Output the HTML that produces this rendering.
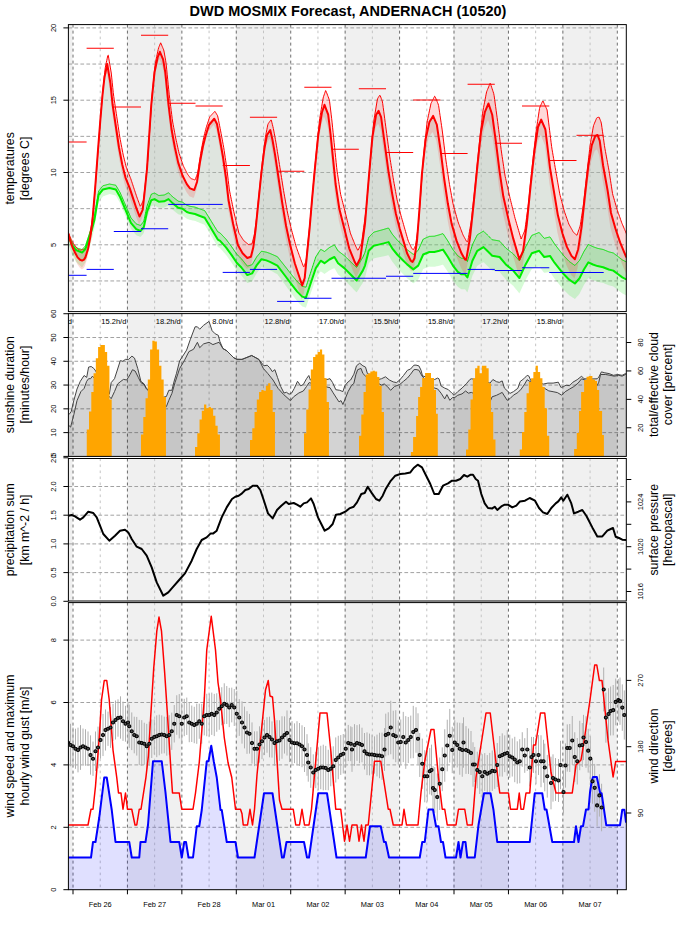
<!DOCTYPE html><html><head><meta charset="utf-8"><title>DWD MOSMIX Forecast, ANDERNACH (10520)</title>
<style>html,body{margin:0;padding:0;background:#fff;width:696px;height:930px;overflow:hidden}svg{display:block}</style></head><body>
<svg width="696" height="930" viewBox="0 0 696 930" font-family="'Liberation Sans', Arial, sans-serif">
<rect width="696" height="930" fill="#fff"/>
<defs>
<clipPath id="c0"><rect x="68.4" y="24.6" width="557.9" height="287"/></clipPath>
<clipPath id="c1"><rect x="68.4" y="313.6" width="557.9" height="142.8"/></clipPath>
<clipPath id="c2"><rect x="68.4" y="458.5" width="557.9" height="142.5"/></clipPath>
<clipPath id="c3"><rect x="68.4" y="602.6" width="557.9" height="287.1"/></clipPath>
</defs>
<text x="348" y="16.1" font-size="14.5" font-weight="bold" text-anchor="middle">DWD MOSMIX Forecast, ANDERNACH (10520)</text>
<g clip-path="url(#c0)">
<rect x="68.4" y="24.6" width="4.1" height="287" fill="#f0f0f0"/>
<rect x="126.93" y="24.6" width="54.43" height="287" fill="#f0f0f0"/>
<rect x="235.79" y="24.6" width="54.43" height="287" fill="#f0f0f0"/>
<rect x="344.65" y="24.6" width="54.43" height="287" fill="#f0f0f0"/>
<rect x="453.51" y="24.6" width="54.43" height="287" fill="#f0f0f0"/>
<rect x="562.37" y="24.6" width="54.43" height="287" fill="#f0f0f0"/>
<line x1="73" y1="24.6" x2="73" y2="311.6" stroke="#6e6e6e" stroke-width="1" stroke-dasharray="3,3"/>
<line x1="127.43" y1="24.6" x2="127.43" y2="311.6" stroke="#6e6e6e" stroke-width="1" stroke-dasharray="3,3"/>
<line x1="181.86" y1="24.6" x2="181.86" y2="311.6" stroke="#6e6e6e" stroke-width="1" stroke-dasharray="3,3"/>
<line x1="236.29" y1="24.6" x2="236.29" y2="311.6" stroke="#6e6e6e" stroke-width="1" stroke-dasharray="3,3"/>
<line x1="290.72" y1="24.6" x2="290.72" y2="311.6" stroke="#6e6e6e" stroke-width="1" stroke-dasharray="3,3"/>
<line x1="345.15" y1="24.6" x2="345.15" y2="311.6" stroke="#6e6e6e" stroke-width="1" stroke-dasharray="3,3"/>
<line x1="399.58" y1="24.6" x2="399.58" y2="311.6" stroke="#6e6e6e" stroke-width="1" stroke-dasharray="3,3"/>
<line x1="454.01" y1="24.6" x2="454.01" y2="311.6" stroke="#6e6e6e" stroke-width="1" stroke-dasharray="3,3"/>
<line x1="508.44" y1="24.6" x2="508.44" y2="311.6" stroke="#6e6e6e" stroke-width="1" stroke-dasharray="3,3"/>
<line x1="562.87" y1="24.6" x2="562.87" y2="311.6" stroke="#6e6e6e" stroke-width="1" stroke-dasharray="3,3"/>
<line x1="617.3" y1="24.6" x2="617.3" y2="311.6" stroke="#6e6e6e" stroke-width="1" stroke-dasharray="3,3"/>
<line x1="100.22" y1="24.6" x2="100.22" y2="311.6" stroke="#c4c4c4" stroke-width="1" stroke-dasharray="2.6,3.4"/>
<line x1="154.65" y1="24.6" x2="154.65" y2="311.6" stroke="#c4c4c4" stroke-width="1" stroke-dasharray="2.6,3.4"/>
<line x1="209.08" y1="24.6" x2="209.08" y2="311.6" stroke="#c4c4c4" stroke-width="1" stroke-dasharray="2.6,3.4"/>
<line x1="263.5" y1="24.6" x2="263.5" y2="311.6" stroke="#c4c4c4" stroke-width="1" stroke-dasharray="2.6,3.4"/>
<line x1="317.94" y1="24.6" x2="317.94" y2="311.6" stroke="#c4c4c4" stroke-width="1" stroke-dasharray="2.6,3.4"/>
<line x1="372.36" y1="24.6" x2="372.36" y2="311.6" stroke="#c4c4c4" stroke-width="1" stroke-dasharray="2.6,3.4"/>
<line x1="426.79" y1="24.6" x2="426.79" y2="311.6" stroke="#c4c4c4" stroke-width="1" stroke-dasharray="2.6,3.4"/>
<line x1="481.22" y1="24.6" x2="481.22" y2="311.6" stroke="#c4c4c4" stroke-width="1" stroke-dasharray="2.6,3.4"/>
<line x1="535.65" y1="24.6" x2="535.65" y2="311.6" stroke="#c4c4c4" stroke-width="1" stroke-dasharray="2.6,3.4"/>
<line x1="590.09" y1="24.6" x2="590.09" y2="311.6" stroke="#c4c4c4" stroke-width="1" stroke-dasharray="2.6,3.4"/>
<line x1="68.4" y1="27.9" x2="626.3" y2="27.9" stroke="#a2a2a2" stroke-width="1" stroke-dasharray="3.7,2.3"/>
<line x1="68.4" y1="64.05" x2="626.3" y2="64.05" stroke="#a2a2a2" stroke-width="1" stroke-dasharray="3.7,2.3"/>
<line x1="68.4" y1="100.2" x2="626.3" y2="100.2" stroke="#a2a2a2" stroke-width="1" stroke-dasharray="3.7,2.3"/>
<line x1="68.4" y1="136.35" x2="626.3" y2="136.35" stroke="#a2a2a2" stroke-width="1" stroke-dasharray="3.7,2.3"/>
<line x1="68.4" y1="172.5" x2="626.3" y2="172.5" stroke="#a2a2a2" stroke-width="1" stroke-dasharray="3.7,2.3"/>
<line x1="68.4" y1="208.65" x2="626.3" y2="208.65" stroke="#a2a2a2" stroke-width="1" stroke-dasharray="3.7,2.3"/>
<line x1="68.4" y1="244.8" x2="626.3" y2="244.8" stroke="#a2a2a2" stroke-width="1" stroke-dasharray="3.7,2.3"/>
<line x1="68.4" y1="280.95" x2="626.3" y2="280.95" stroke="#a2a2a2" stroke-width="1" stroke-dasharray="3.7,2.3"/>
<path d="M68.4,234 L68.9,235.88 L69.4,237.75 L69.9,239.63 L70.4,241.14 L70.9,242.56 L71.4,243.98 L71.9,245.4 L72.4,246.82 L72.9,247.96 L73.4,249.04 L73.9,250.12 L74.4,251.2 L74.9,252.28 L75.4,253.25 L75.9,254.2 L76.4,255.14 L76.9,256.08 L77.4,257.02 L77.9,257.7 L78.4,258.2 L78.9,258.7 L79.4,259.2 L79.9,259.7 L80.4,259.95 L80.9,260.14 L81.4,260.33 L81.9,260.52 L82.4,260.44 L82.9,260.18 L83.4,259.92 L83.9,259.65 L84.4,258.97 L84.9,258.19 L85.4,257.4 L85.9,255.78 L86.4,254.17 L86.9,252.55 L87.4,250.94 L87.9,249.32 L88.4,246.94 L88.9,244.36 L89.4,241.78 L89.9,239.2 L90.4,236.62 L90.9,232.88 L91.4,228.85 L91.9,224.83 L92.4,220.8 L92.9,215.2 L93.4,209.2 L93.9,203.2 L94.4,197.2 L94.9,191.2 L95.4,184.67 L95.9,178 L96.4,171.33 L96.9,164.67 L97.4,158 L97.9,151.33 L98.4,144.88 L98.9,138.48 L99.4,132.08 L99.9,125.68 L100.4,119.28 L100.9,113.4 L101.4,107.65 L101.9,101.9 L102.4,96.15 L102.9,91.4 L103.4,86.9 L103.9,82.4 L104.4,77.9 L104.9,75.13 L105.4,72.8 L105.9,70.47 L106.4,68.13 L106.9,65.67 L107.4,65.19 L107.9,68.16 L108.4,71.13 L108.9,74.09 L109.4,77.06 L109.9,80.03 L110.4,83 L110.9,87.89 L111.4,92.77 L111.9,97.66 L112.4,102.55 L112.9,106.52 L113.4,109.88 L113.9,113.23 L114.4,116.59 L114.9,119.95 L115.4,123.31 L115.9,126.67 L116.4,130.03 L116.9,133.39 L117.4,136.75 L117.9,140.11 L118.4,143.47 L118.9,146.83 L119.4,149.58 L119.9,152.19 L120.4,154.8 L120.9,157.4 L121.4,160.01 L121.9,162.62 L122.4,165.1 L122.9,167.12 L123.4,169.13 L123.9,171.15 L124.4,173.17 L124.9,175.18 L125.4,177.2 L125.9,178.6 L126.4,179.86 L126.9,181.12 L127.4,182.37 L127.9,183.63 L128.4,184.88 L128.9,186.14 L129.4,187.4 L129.9,188.7 L130.4,190.22 L130.9,191.73 L131.4,193.25 L131.9,194.77 L132.4,196.28 L132.9,197.8 L133.4,199.3 L133.9,200.8 L134.4,202.3 L134.9,203.8 L135.4,205.3 L135.9,206.8 L136.4,208.23 L136.9,209.57 L137.4,210.9 L137.9,212.23 L138.4,213.57 L138.9,214.9 L139.4,216.23 L139.9,215.67 L140.4,214.64 L140.9,213.61 L141.4,212.58 L141.9,211.55 L142.4,210.52 L142.9,208.05 L143.4,203.43 L143.9,198.81 L144.4,194.2 L144.9,189.52 L145.4,184.64 L145.9,179.75 L146.4,174.86 L146.9,169.98 L147.4,162.87 L147.9,155.2 L148.4,147.53 L148.9,139.87 L149.4,132.4 L149.9,125.05 L150.4,117.71 L150.9,110.37 L151.4,103.49 L151.9,98.46 L152.4,93.43 L152.9,88.4 L153.4,83.37 L153.9,78.34 L154.4,73.31 L154.9,70.41 L155.4,68.05 L155.9,65.69 L156.4,63.33 L156.9,60.97 L157.4,58.62 L157.9,56.71 L158.4,55.48 L158.9,54.25 L159.4,53.03 L159.9,51.8 L160.4,52.99 L160.9,54.18 L161.4,55.36 L161.9,56.55 L162.4,57.74 L162.9,58.93 L163.4,61.16 L163.9,64.09 L164.4,67.02 L164.9,69.95 L165.4,73.31 L165.9,78.34 L166.4,83.37 L166.9,88.4 L167.4,93.43 L167.9,98.46 L168.4,103.49 L168.9,107.73 L169.4,111.76 L169.9,115.79 L170.4,119.82 L170.9,123.85 L171.4,127.88 L171.9,131.38 L172.4,134.06 L172.9,136.75 L173.4,139.44 L173.9,142.13 L174.4,144.81 L174.9,147.5 L175.4,149.79 L175.9,152.08 L176.4,154.36 L176.9,156.65 L177.4,158.94 L177.9,161.23 L178.4,163.2 L178.9,164.7 L179.4,166.2 L179.9,167.7 L180.4,169.2 L180.9,170.7 L181.4,172.2 L181.9,173.7 L182.4,175.2 L182.9,176.3 L183.4,177.3 L183.9,178.3 L184.4,179.3 L184.9,180.3 L185.4,181.3 L185.9,182.3 L186.4,183.3 L186.9,184.23 L187.4,184.91 L187.9,185.58 L188.4,186.25 L188.9,186.92 L189.4,187.59 L189.9,188.27 L190.4,188.55 L190.9,188.74 L191.4,188.93 L191.9,189.12 L192.4,189.3 L192.9,189.49 L193.4,189.68 L193.9,189.87 L194.4,189.56 L194.9,188.11 L195.4,186.65 L195.9,185.2 L196.4,183.75 L196.9,182.29 L197.4,179.33 L197.9,176 L198.4,172.67 L198.9,169.33 L199.4,166 L199.9,162.67 L200.4,159.87 L200.9,157.2 L201.4,154.53 L201.9,151.87 L202.4,149.2 L202.9,146.53 L203.4,144.4 L203.9,142.4 L204.4,140.4 L204.9,138.4 L205.4,136.4 L205.9,134.74 L206.4,133.17 L206.9,131.6 L207.4,130.03 L207.9,128.46 L208.4,126.89 L208.9,125.31 L209.4,124.52 L209.9,123.93 L210.4,123.33 L210.9,122.74 L211.4,122.14 L211.9,121.55 L212.4,120.95 L212.9,120.36 L213.4,119.76 L213.9,119.17 L214.4,119.04 L214.9,119.99 L215.4,120.95 L215.9,121.9 L216.4,122.85 L216.9,123.81 L217.4,126.13 L217.9,128.8 L218.4,131.47 L218.9,134.13 L219.4,136.8 L219.9,139.47 L220.4,142.27 L220.9,145.1 L221.4,147.93 L221.9,150.77 L222.4,153.6 L222.9,156.43 L223.4,159.8 L223.9,163.3 L224.4,166.8 L224.9,170.3 L225.4,173.8 L225.9,177.3 L226.4,181.52 L226.9,185.92 L227.4,190.32 L227.9,194.72 L228.4,199.12 L228.9,202.06 L229.4,204.64 L229.9,207.21 L230.4,209.79 L230.9,212.37 L231.4,214.94 L231.9,217.52 L232.4,220.09 L232.9,222.67 L233.4,225.03 L233.9,227.25 L234.4,229.47 L234.9,231.69 L235.4,233.91 L235.9,236.13 L236.4,238.34 L236.9,240.56 L237.4,242.78 L237.9,245 L238.4,245.88 L238.9,246.77 L239.4,247.65 L239.9,248.53 L240.4,249.41 L240.9,250.3 L241.4,251.18 L241.9,252.06 L242.4,252.95 L242.9,253.6 L243.4,254.1 L243.9,254.6 L244.4,255.1 L244.9,255.6 L245.4,256.1 L245.9,256.6 L246.4,257.1 L246.9,257.6 L247.4,257.97 L247.9,257.8 L248.4,257.63 L248.9,257.47 L249.4,257.3 L249.9,257.13 L250.4,256.97 L250.9,256.8 L251.4,254.82 L251.9,252.84 L252.4,250.86 L252.9,248.88 L253.4,246.53 L253.9,242.68 L254.4,238.83 L254.9,234.99 L255.4,231.14 L255.9,226.64 L256.4,221.71 L256.9,216.77 L257.4,211.84 L257.9,206.91 L258.4,201.97 L258.9,197.1 L259.4,192.28 L259.9,187.45 L260.4,182.62 L260.9,177.79 L261.4,172.97 L261.9,168.8 L262.4,164.8 L262.9,160.8 L263.4,156.8 L263.9,152.8 L264.4,148.8 L264.9,145.92 L265.4,143.32 L265.9,140.72 L266.4,138.12 L266.9,135.52 L267.4,134.38 L267.9,133.62 L268.4,132.85 L268.9,132.08 L269.4,131.31 L269.9,130.54 L270.4,130.67 L270.9,132.89 L271.4,135.11 L271.9,137.33 L272.4,139.56 L272.9,142.29 L273.4,145.15 L273.9,148.01 L274.4,150.87 L274.9,153.73 L275.4,156.97 L275.9,160.31 L276.4,163.65 L276.9,166.98 L277.4,170.32 L277.9,173.66 L278.4,177 L278.9,180.34 L279.4,183.69 L279.9,187.04 L280.4,190.39 L280.9,193.75 L281.4,197.1 L281.9,200.45 L282.4,203.8 L282.9,206.8 L283.4,209.8 L283.9,212.8 L284.4,215.8 L284.9,218.8 L285.4,221.8 L285.9,224.8 L286.4,227.41 L286.9,229.76 L287.4,232.11 L287.9,234.46 L288.4,236.82 L288.9,239.17 L289.4,241.52 L289.9,243.8 L290.4,245.78 L290.9,247.76 L291.4,249.74 L291.9,251.72 L292.4,253.7 L292.9,255.68 L293.4,257.66 L293.9,259.64 L294.4,261.62 L294.9,263.5 L295.4,265.01 L295.9,266.52 L296.4,268.03 L296.9,269.54 L297.4,271.05 L297.9,272.56 L298.4,274.07 L298.9,275.58 L299.4,277.09 L299.9,278.59 L300.4,280.07 L300.9,281.55 L301.4,283.03 L301.9,284.51 L302.4,284.81 L302.9,283.33 L303.4,281.85 L303.9,280.37 L304.4,278.89 L304.9,275.94 L305.4,270.8 L305.9,265.65 L306.4,260.5 L306.9,255.36 L307.4,250.32 L307.9,245.36 L308.4,240.4 L308.9,235.44 L309.4,230.48 L309.9,224.94 L310.4,219 L310.9,213.06 L311.4,207.12 L311.9,201.18 L312.4,195.54 L312.9,190.1 L313.4,184.66 L313.9,179.22 L314.4,173.78 L314.9,168.59 L315.4,163.58 L315.9,158.56 L316.4,153.55 L316.9,148.54 L317.4,143.52 L317.9,138.51 L318.4,133.9 L318.9,130.88 L319.4,127.87 L319.9,124.86 L320.4,121.84 L320.9,118.83 L321.4,115.82 L321.9,112.8 L322.4,111.02 L322.9,109.54 L323.4,108.06 L323.9,106.58 L324.4,105.1 L324.9,105.87 L325.4,107.21 L325.9,108.55 L326.4,109.88 L326.9,111.22 L327.4,112.56 L327.9,113.9 L328.4,116.35 L328.9,120.47 L329.4,124.6 L329.9,128.72 L330.4,132.85 L330.9,137.46 L331.4,142.4 L331.9,147.34 L332.4,152.28 L332.9,157.22 L333.4,162.18 L333.9,167.14 L334.4,172.1 L334.9,177.06 L335.4,182.02 L335.9,186 L336.4,189.34 L336.9,192.68 L337.4,196.02 L337.9,199.35 L338.4,202.69 L338.9,206.03 L339.4,209.1 L339.9,211.08 L340.4,213.06 L340.9,215.04 L341.4,217.02 L341.9,219 L342.4,220.98 L342.9,222.96 L343.4,224.94 L343.9,226.92 L344.4,228.9 L344.9,230.92 L345.4,232.94 L345.9,234.97 L346.4,236.99 L346.9,239.01 L347.4,241.03 L347.9,243.05 L348.4,245.07 L348.9,247.09 L349.4,248.8 L349.9,250.04 L350.4,251.28 L350.9,252.52 L351.4,253.76 L351.9,255 L352.4,256.24 L352.9,257.48 L353.4,258.72 L353.9,259.96 L354.4,261.11 L354.9,262.13 L355.4,263.15 L355.9,264.17 L356.4,265.19 L356.9,265 L357.4,264 L357.9,263 L358.4,262 L358.9,261 L359.4,260 L359.9,259 L360.4,257.46 L360.9,253.78 L361.4,250.1 L361.9,246.42 L362.4,242.74 L362.9,239.06 L363.4,235.38 L363.9,231.7 L364.4,228.02 L364.9,224.34 L365.4,218.78 L365.9,212.75 L366.4,206.72 L366.9,200.7 L367.4,194.67 L367.9,188.64 L368.4,182.62 L368.9,176.72 L369.4,171.04 L369.9,165.35 L370.4,159.66 L370.9,153.97 L371.4,148.28 L371.9,142.59 L372.4,136.9 L372.9,133.9 L373.4,130.9 L373.9,127.9 L374.4,124.9 L374.9,121.9 L375.4,118.9 L375.9,115.9 L376.4,114.24 L376.9,113.48 L377.4,112.72 L377.9,111.96 L378.4,111.2 L378.9,111.64 L379.4,112.88 L379.9,114.12 L380.4,115.36 L380.9,116.6 L381.4,119.31 L381.9,123 L382.4,126.69 L382.9,130.38 L383.4,134.07 L383.9,137.76 L384.4,141.45 L384.9,145.14 L385.4,148.81 L385.9,152.49 L386.4,156.16 L386.9,159.84 L387.4,163.51 L387.9,167.19 L388.4,170.86 L388.9,174.01 L389.4,177.02 L389.9,180.04 L390.4,183.05 L390.9,186.06 L391.4,189.08 L391.9,192.09 L392.4,194.97 L392.9,197.65 L393.4,200.32 L393.9,203 L394.4,205.67 L394.9,208.35 L395.4,211.02 L395.9,213.7 L396.4,215.65 L396.9,217.59 L397.4,219.54 L397.9,221.49 L398.4,223.44 L398.9,225.38 L399.4,227.33 L399.9,229.17 L400.4,230.85 L400.9,232.52 L401.4,234.2 L401.9,235.87 L402.4,237.55 L402.9,239.22 L403.4,240.9 L403.9,242.58 L404.4,244.25 L404.9,245.93 L405.4,247.6 L405.9,249.28 L406.4,250.95 L406.9,252.63 L407.4,253.9 L407.9,254.9 L408.4,255.9 L408.9,256.9 L409.4,257.9 L409.9,258.9 L410.4,259.9 L410.9,260.77 L411.4,261.12 L411.9,261.48 L412.4,261.83 L412.9,261.16 L413.4,260.24 L413.9,259.31 L414.4,258.39 L414.9,255.43 L415.4,251.97 L415.9,248.51 L416.4,245.05 L416.9,241.59 L417.4,235.75 L417.9,229.31 L418.4,222.87 L418.9,216.43 L419.4,209.99 L419.9,202.93 L420.4,195.73 L420.9,188.52 L421.4,181.31 L421.9,174.1 L422.4,169.41 L422.9,164.72 L423.4,160.03 L423.9,155.34 L424.4,150.65 L424.9,145.96 L425.4,141.28 L425.9,138.03 L426.4,135.76 L426.9,133.48 L427.4,131.21 L427.9,128.93 L428.4,126.65 L428.9,124.38 L429.4,122.1 L429.9,121.26 L430.4,120.42 L430.9,119.59 L431.4,118.75 L431.9,117.91 L432.4,117.07 L432.9,116.24 L433.4,116.61 L433.9,117.78 L434.4,118.96 L434.9,120.13 L435.4,121.31 L435.9,122.48 L436.4,123.66 L436.9,125.27 L437.4,128.61 L437.9,131.94 L438.4,135.28 L438.9,138.62 L439.4,141.96 L439.9,145.29 L440.4,148.63 L440.9,152.51 L441.4,156.52 L441.9,160.54 L442.4,164.55 L442.9,168.56 L443.4,172.58 L443.9,176.59 L444.4,180.34 L444.9,183.69 L445.4,187.04 L445.9,190.39 L446.4,193.75 L446.9,197.1 L447.4,200.45 L447.9,203.8 L448.4,206.48 L448.9,209.15 L449.4,211.83 L449.9,214.5 L450.4,217.18 L450.9,219.85 L451.4,222.53 L451.9,224.64 L452.4,226.37 L452.9,228.1 L453.4,229.83 L453.9,231.56 L454.4,233.29 L454.9,235.02 L455.4,236.75 L455.9,238.48 L456.4,240.21 L456.9,241.66 L457.4,242.92 L457.9,244.19 L458.4,245.46 L458.9,246.72 L459.4,247.99 L459.9,249.25 L460.4,250.52 L460.9,251.78 L461.4,253.05 L461.9,254.01 L462.4,254.89 L462.9,255.78 L463.4,256.67 L463.9,257.55 L464.4,258.44 L464.9,259.32 L465.4,259.6 L465.9,259.73 L466.4,258.64 L466.9,255.75 L467.4,252.86 L467.9,249.97 L468.4,247.08 L468.9,244.18 L469.4,241.29 L469.9,238.4 L470.4,233.72 L470.9,229.05 L471.4,224.37 L471.9,219.7 L472.4,215.02 L472.9,210.35 L473.4,205.67 L473.9,200.78 L474.4,195.76 L474.9,190.73 L475.4,185.7 L475.9,180.68 L476.4,175.65 L476.9,170.62 L477.4,165.66 L477.9,160.99 L478.4,156.31 L478.9,151.64 L479.4,146.96 L479.9,142.29 L480.4,137.61 L480.9,132.94 L481.4,129.92 L481.9,127.31 L482.4,124.71 L482.9,122.1 L483.4,119.49 L483.9,116.89 L484.4,114.28 L484.9,111.96 L485.4,110.79 L485.9,109.61 L486.4,108.44 L486.9,107.26 L487.4,106.09 L487.9,104.91 L488.4,103.74 L488.9,104.71 L489.4,106.22 L489.9,107.74 L490.4,109.25 L490.9,110.76 L491.4,112.28 L491.9,113.79 L492.4,116.17 L492.9,119.85 L493.4,123.52 L493.9,127.2 L494.4,130.87 L494.9,134.55 L495.4,138.22 L495.9,141.9 L496.4,145.91 L496.9,149.93 L497.4,153.94 L497.9,157.95 L498.4,161.97 L498.9,165.98 L499.4,169.99 L499.9,173.6 L500.4,176.94 L500.9,180.28 L501.4,183.62 L501.9,186.95 L502.4,190.29 L502.9,193.63 L503.4,196.75 L503.9,198.98 L504.4,201.21 L504.9,203.44 L505.4,205.67 L505.9,207.9 L506.4,210.13 L506.9,212.36 L507.4,214.59 L507.9,216.82 L508.4,219 L508.9,221.02 L509.4,223.04 L509.9,225.07 L510.4,227.09 L510.9,229.11 L511.4,231.13 L511.9,233.15 L512.4,235.17 L512.9,237.19 L513.4,239.08 L513.9,240.78 L514.4,242.48 L514.9,244.19 L515.4,245.89 L515.9,247.59 L516.4,249.29 L516.9,250.99 L517.4,252.69 L517.9,254.4 L518.4,256.1 L518.9,257.8 L519.4,259.5 L519.9,258.32 L520.4,257.15 L520.9,255.97 L521.4,254.8 L521.9,253.62 L522.4,252.45 L522.9,251.27 L523.4,248.59 L523.9,244.92 L524.4,241.24 L524.9,237.57 L525.4,233.89 L525.9,230.22 L526.4,226.54 L526.9,222.59 L527.4,217.57 L527.9,212.54 L528.4,207.51 L528.9,202.49 L529.4,197.46 L529.9,192.43 L530.4,187.41 L530.9,182.76 L531.4,178.21 L531.9,173.65 L532.4,169.1 L532.9,164.55 L533.4,159.99 L533.9,155.44 L534.4,151.13 L534.9,147.78 L535.4,144.43 L535.9,141.08 L536.4,137.72 L536.9,134.37 L537.4,131.02 L537.9,127.67 L538.4,126.08 L538.9,124.92 L539.4,123.76 L539.9,122.61 L540.4,121.45 L540.9,120.29 L541.4,120.07 L541.9,121.25 L542.4,122.43 L542.9,123.61 L543.4,124.79 L543.9,125.96 L544.4,127.14 L544.9,128.32 L545.4,129.5 L545.9,133.66 L546.4,137.83 L546.9,141.99 L547.4,146.15 L547.9,150.32 L548.4,154.48 L548.9,158.64 L549.4,162.8 L549.9,166.97 L550.4,170.21 L550.9,173.22 L551.4,176.23 L551.9,179.24 L552.4,182.25 L552.9,185.26 L553.4,188.28 L553.9,191.29 L554.4,194.3 L554.9,197.3 L555.4,200.3 L555.9,203.3 L556.4,206.3 L556.9,209.3 L557.4,212.3 L557.9,215.3 L558.4,217.3 L558.9,219.3 L559.4,221.3 L559.9,223.3 L560.4,225.3 L560.9,227.3 L561.4,229.3 L561.9,231.3 L562.4,233.3 L562.9,234.81 L563.4,236.32 L563.9,237.83 L564.4,239.34 L564.9,240.86 L565.4,242.37 L565.9,243.88 L566.4,245.39 L566.9,246.9 L567.4,247.88 L567.9,248.86 L568.4,249.83 L568.9,250.81 L569.4,251.79 L569.9,252.77 L570.4,253.75 L570.9,254.73 L571.4,255.7 L571.9,256.3 L572.4,256.8 L572.9,257.3 L573.4,257.8 L573.9,258.3 L574.4,258.8 L574.9,259.3 L575.4,257.77 L575.9,256.24 L576.4,254.71 L576.9,253.18 L577.4,251.65 L577.9,250.12 L578.4,247.87 L578.9,244.55 L579.4,241.22 L579.9,237.9 L580.4,234.58 L580.9,231.25 L581.4,227.93 L581.9,223.8 L582.4,219.14 L582.9,214.48 L583.4,209.82 L583.9,205.16 L584.4,200.49 L584.9,195.83 L585.4,191.44 L585.9,187.12 L586.4,182.79 L586.9,178.47 L587.4,174.15 L587.9,169.82 L588.4,165.5 L588.9,162.51 L589.4,159.53 L589.9,156.54 L590.4,153.56 L590.9,150.57 L591.4,147.59 L591.9,144.94 L592.4,143.61 L592.9,142.29 L593.4,140.96 L593.9,139.64 L594.4,138.32 L594.9,136.99 L595.4,136.1 L595.9,135.83 L596.4,135.57 L596.9,135.31 L597.4,135.05 L597.9,136.04 L598.4,137.33 L598.9,138.63 L599.4,139.92 L599.9,142.16 L600.4,145.81 L600.9,149.45 L601.4,153.1 L601.9,156.75 L602.4,160.39 L602.9,164.04 L603.4,167.16 L603.9,169.93 L604.4,172.69 L604.9,175.46 L605.4,178.23 L605.9,180.99 L606.4,183.76 L606.9,186.53 L607.4,189.29 L607.9,192.39 L608.4,195.72 L608.9,199.04 L609.4,202.36 L609.9,205.69 L610.4,209.01 L610.9,212.34 L611.4,214.4 L611.9,216.16 L612.4,217.92 L612.9,219.67 L613.4,221.43 L613.9,223.18 L614.4,224.94 L614.9,226.69 L615.4,228.45 L615.9,229.98 L616.4,231.46 L616.9,232.94 L617.4,234.42 L617.9,235.9 L618.4,237.37 L618.9,238.85 L619.4,240.33 L619.9,241.81 L620.4,243.12 L620.9,244.33 L621.4,245.53 L621.9,246.74 L622.4,247.94 L622.9,249.15 L623.4,250.36 L623.9,251.56 L624.4,252.77 L624.9,253.97 L625.4,255.18 L625.9,256.22 L626.4,257.03 L626.9,257.84 L626.9,279.5 L626.4,279.5 L625.9,279.24 L625.4,278.98 L624.9,278.73 L624.4,278.47 L623.9,278.22 L623.4,277.96 L622.9,277.71 L622.4,277.45 L621.9,277.1 L621.4,276.72 L620.9,276.34 L620.4,275.96 L619.9,275.59 L619.4,275.21 L618.9,274.83 L618.4,274.45 L617.9,274.08 L617.4,273.7 L616.9,273.32 L616.4,272.94 L615.9,272.56 L615.4,272.19 L614.9,271.81 L614.4,271.43 L613.9,271.05 L613.4,270.68 L612.9,270.5 L612.4,270.38 L611.9,270.26 L611.4,270.14 L610.9,270.01 L610.4,269.89 L609.9,269.77 L609.4,269.65 L608.9,269.52 L608.4,269.34 L607.9,269.14 L607.4,268.94 L606.9,268.73 L606.4,268.53 L605.9,268.33 L605.4,268.13 L604.9,267.93 L604.4,267.72 L603.9,267.52 L603.4,267.32 L602.9,267.16 L602.4,267.06 L601.9,266.96 L601.4,266.87 L600.9,266.77 L600.4,266.67 L599.9,266.57 L599.4,266.47 L598.9,266.38 L598.4,266.28 L597.9,266.18 L597.4,266.07 L596.9,265.89 L596.4,265.72 L595.9,265.54 L595.4,265.37 L594.9,265.2 L594.4,265.02 L593.9,264.85 L593.4,264.67 L592.9,264.5 L592.4,264.26 L591.9,264.01 L591.4,263.77 L590.9,263.52 L590.4,263.28 L589.9,263.03 L589.4,262.79 L588.9,262.54 L588.4,262.3 L587.9,263.1 L587.4,263.9 L586.9,264.7 L586.4,265.5 L585.9,266.3 L585.4,267.1 L584.9,267.9 L584.4,268.7 L583.9,269.5 L583.4,270.5 L582.9,271.5 L582.4,272.5 L581.9,273.5 L581.4,274.5 L580.9,275.5 L580.4,276.5 L579.9,277.5 L579.4,278.5 L578.9,279.06 L578.4,279.61 L577.9,280.17 L577.4,280.72 L576.9,281.28 L576.4,281.83 L575.9,282.39 L575.4,282.94 L574.9,283.5 L574.4,283.17 L573.9,282.83 L573.4,282.5 L572.9,282.17 L572.4,281.83 L571.9,281.5 L571.4,281.17 L570.9,280.83 L570.4,280.5 L569.9,280.17 L569.4,279.83 L568.9,279.39 L568.4,278.89 L567.9,278.38 L567.4,277.87 L566.9,277.36 L566.4,276.85 L565.9,276.34 L565.4,275.83 L564.9,275.32 L564.4,274.81 L563.9,274.31 L563.4,273.76 L562.9,273.15 L562.4,272.54 L561.9,271.93 L561.4,271.32 L560.9,270.71 L560.4,270.1 L559.9,269.5 L559.4,268.89 L558.9,268.27 L558.4,267.64 L557.9,267.01 L557.4,266.37 L556.9,265.74 L556.4,265.11 L555.9,264.47 L555.4,263.84 L554.9,263.21 L554.4,262.55 L553.9,261.79 L553.4,261.04 L552.9,260.28 L552.4,259.53 L551.9,258.77 L551.4,258.02 L550.9,257.26 L550.4,256.5 L549.9,255.92 L549.4,256.01 L548.9,256.11 L548.4,256.2 L547.9,256.3 L547.4,256.39 L546.9,256.49 L546.4,256.58 L545.9,256.68 L545.4,256.77 L544.9,256.87 L544.4,256.96 L543.9,256.63 L543.4,256.01 L542.9,255.39 L542.4,254.77 L541.9,254.15 L541.4,253.53 L540.9,252.91 L540.4,252.29 L539.9,251.67 L539.4,251.05 L538.9,250.9 L538.4,251.07 L537.9,251.24 L537.4,251.41 L536.9,251.58 L536.4,251.75 L535.9,251.91 L535.4,252.08 L534.9,252.25 L534.4,252.42 L533.9,252.59 L533.4,252.76 L532.9,252.93 L532.4,253.1 L531.9,253.27 L531.4,254.02 L530.9,254.91 L530.4,255.81 L529.9,256.7 L529.4,257.6 L528.9,258.49 L528.4,259.39 L527.9,260.28 L527.4,261.18 L526.9,262.07 L526.4,262.97 L525.9,263.86 L525.4,264.84 L524.9,265.94 L524.4,267.03 L523.9,268.13 L523.4,269.23 L522.9,270.32 L522.4,271.42 L521.9,272.52 L521.4,273.61 L520.9,274.71 L520.4,275.81 L519.9,276.9 L519.4,278 L518.9,277.4 L518.4,276.81 L517.9,276.21 L517.4,275.61 L516.9,275.02 L516.4,274.42 L515.9,273.82 L515.4,273.23 L514.9,272.63 L514.4,272.03 L513.9,271.44 L513.4,270.84 L512.9,270.35 L512.4,269.93 L511.9,269.51 L511.4,269.09 L510.9,268.67 L510.4,268.25 L509.9,267.84 L509.4,267.42 L508.9,267 L508.4,266.58 L507.9,266.16 L507.4,265.74 L506.9,265.32 L506.4,264.9 L505.9,264.48 L505.4,263.92 L504.9,263.33 L504.4,262.73 L503.9,262.13 L503.4,261.54 L502.9,260.94 L502.4,260.34 L501.9,259.75 L501.4,259.15 L500.9,258.55 L500.4,257.95 L499.9,257.36 L499.4,256.96 L498.9,256.88 L498.4,256.79 L497.9,256.7 L497.4,256.61 L496.9,256.53 L496.4,256.44 L495.9,256.35 L495.4,256.26 L494.9,256.17 L494.4,256.09 L493.9,256 L493.4,255.91 L492.9,255.82 L492.4,255.74 L491.9,255.41 L491.4,254.92 L490.9,254.43 L490.4,253.94 L489.9,253.45 L489.4,252.96 L488.9,252.47 L488.4,251.98 L487.9,251.49 L487.4,251 L486.9,250.5 L486.4,250 L485.9,249.5 L485.4,249 L484.9,248.5 L484.4,248 L483.9,247.5 L483.4,247.16 L482.9,247.46 L482.4,247.76 L481.9,248.05 L481.4,248.35 L480.9,248.65 L480.4,248.95 L479.9,249.25 L479.4,249.55 L478.9,249.85 L478.4,250.14 L477.9,250.44 L477.4,250.74 L476.9,251.61 L476.4,252.62 L475.9,253.63 L475.4,254.64 L474.9,255.65 L474.4,256.66 L473.9,257.67 L473.4,258.68 L472.9,259.69 L472.4,260.7 L471.9,262.38 L471.4,264.06 L470.9,265.74 L470.4,267.42 L469.9,269.1 L469.4,270.78 L468.9,272.46 L468.4,274.14 L467.9,275.82 L467.4,277.5 L466.9,276.83 L466.4,276.17 L465.9,275.5 L465.4,274.83 L464.9,274.3 L464.4,274.3 L463.9,274.3 L463.4,274.3 L462.9,274.3 L462.4,274.3 L461.9,274.3 L461.4,274.23 L460.9,273.89 L460.4,273.56 L459.9,273.22 L459.4,272.88 L458.9,272.54 L458.4,272.21 L457.9,271.87 L457.4,271.29 L456.9,270.66 L456.4,270.03 L455.9,269.4 L455.4,268.76 L454.9,268.13 L454.4,267.5 L453.9,266.87 L453.4,266.23 L452.9,265.6 L452.4,264.74 L451.9,263.88 L451.4,263.02 L450.9,262.16 L450.4,261.3 L449.9,260.44 L449.4,259.58 L448.9,258.72 L448.4,257.86 L447.9,257 L447.4,256.24 L446.9,255.49 L446.4,254.73 L445.9,253.98 L445.4,253.22 L444.9,252.47 L444.4,251.71 L443.9,250.96 L443.4,250.2 L442.9,249.63 L442.4,249.79 L441.9,249.96 L441.4,250.12 L440.9,250.28 L440.4,250.44 L439.9,250.61 L439.4,250.77 L438.9,250.9 L438.4,251.02 L437.9,251.14 L437.4,251.26 L436.9,251.38 L436.4,251.5 L435.9,251.62 L435.4,251.74 L434.9,251.86 L434.4,251.98 L433.9,252 L433.4,252 L432.9,252 L432.4,252 L431.9,252 L431.4,252 L430.9,252 L430.4,252 L429.9,252 L429.4,252 L428.9,252.2 L428.4,252.4 L427.9,252.6 L427.4,252.81 L426.9,253.01 L426.4,253.21 L425.9,253.41 L425.4,253.61 L424.9,253.81 L424.4,254.02 L423.9,254.22 L423.4,254.42 L422.9,255.17 L422.4,256.28 L421.9,257.39 L421.4,258.5 L420.9,259.61 L420.4,260.72 L419.9,261.83 L419.4,262.94 L418.9,264.05 L418.4,265.16 L417.9,265.83 L417.4,266.22 L416.9,266.61 L416.4,267 L415.9,267.38 L415.4,267.77 L414.9,268.16 L414.4,268.55 L413.9,268.93 L413.4,269.32 L412.9,269.08 L412.4,268.67 L411.9,268.27 L411.4,267.87 L410.9,267.46 L410.4,267.06 L409.9,266.66 L409.4,266.25 L408.9,265.85 L408.4,265.45 L407.9,265.05 L407.4,264.64 L406.9,264.2 L406.4,263.71 L405.9,263.22 L405.4,262.73 L404.9,262.24 L404.4,261.75 L403.9,261.26 L403.4,260.77 L402.9,260.28 L402.4,259.79 L401.9,259.3 L401.4,258.79 L400.9,258.28 L400.4,257.77 L399.9,257.26 L399.4,256.74 L398.9,256.23 L398.4,255.72 L397.9,255.21 L397.4,254.7 L396.9,254.13 L396.4,253.51 L395.9,252.89 L395.4,252.27 L394.9,251.65 L394.4,251.03 L393.9,250.41 L393.4,249.79 L392.9,249.17 L392.4,248.55 L391.9,247.8 L391.4,246.96 L390.9,246.12 L390.4,245.28 L389.9,244.45 L389.4,243.61 L388.9,242.77 L388.4,242.13 L387.9,242.26 L387.4,242.39 L386.9,242.52 L386.4,242.66 L385.9,242.79 L385.4,242.92 L384.9,243.06 L384.4,243.19 L383.9,243.32 L383.4,243.45 L382.9,243.57 L382.4,243.69 L381.9,243.81 L381.4,243.93 L380.9,244.05 L380.4,244.17 L379.9,244.29 L379.4,244.41 L378.9,244.53 L378.4,244.65 L377.9,244.77 L377.4,244.89 L376.9,245.02 L376.4,245.14 L375.9,245.26 L375.4,245.38 L374.9,245.51 L374.4,245.63 L373.9,245.75 L373.4,246.1 L372.9,246.6 L372.4,247.1 L371.9,247.6 L371.4,248.1 L370.9,248.6 L370.4,249.1 L369.9,249.6 L369.4,250.1 L368.9,250.6 L368.4,252 L367.9,254 L367.4,256 L366.9,258 L366.4,260 L365.9,262 L365.4,264 L364.9,265.83 L364.4,266.96 L363.9,268.1 L363.4,269.24 L362.9,270.37 L362.4,271.24 L361.9,272.04 L361.4,272.84 L360.9,273.63 L360.4,274.43 L359.9,275.23 L359.4,276.03 L358.9,276.83 L358.4,277.63 L357.9,278.42 L357.4,279.22 L356.9,280.02 L356.4,280.3 L355.9,279.8 L355.4,279.3 L354.9,278.8 L354.4,278.3 L353.9,277.8 L353.4,277.3 L352.9,276.8 L352.4,276.3 L351.9,275.8 L351.4,275.3 L350.9,274.8 L350.4,274.3 L349.9,273.79 L349.4,273.28 L348.9,272.78 L348.4,272.27 L347.9,271.76 L347.4,271.25 L346.9,270.74 L346.4,270.23 L345.9,269.73 L345.4,269.22 L344.9,268.71 L344.4,268.2 L343.9,267.78 L343.4,267.39 L342.9,266.99 L342.4,266.6 L341.9,266.2 L341.4,265.81 L340.9,265.41 L340.4,265.02 L339.9,264.62 L339.4,264.23 L338.9,263.83 L338.4,263.44 L337.9,262.86 L337.4,262.03 L336.9,261.19 L336.4,260.35 L335.9,259.51 L335.4,258.68 L334.9,257.84 L334.4,257 L333.9,257.25 L333.4,257.5 L332.9,257.75 L332.4,258 L331.9,258.25 L331.4,258.5 L330.9,258.75 L330.4,259 L329.9,259.25 L329.4,259.5 L328.9,259.88 L328.4,260.26 L327.9,260.63 L327.4,261.01 L326.9,261.39 L326.4,261.77 L325.9,262.14 L325.4,262.52 L324.9,262.9 L324.4,263.13 L323.9,262.81 L323.4,262.48 L322.9,262.15 L322.4,261.82 L321.9,261.49 L321.4,261.16 L320.9,260.83 L320.4,261.15 L319.9,261.91 L319.4,262.66 L318.9,263.42 L318.4,264.17 L317.9,264.93 L317.4,265.68 L316.9,266.44 L316.4,267.19 L315.9,267.95 L315.4,269.29 L314.9,270.78 L314.4,272.27 L313.9,273.76 L313.4,275.25 L312.9,276.74 L312.4,278.23 L311.9,279.72 L311.4,281.21 L310.9,282.7 L310.4,284.21 L309.9,285.72 L309.4,287.23 L308.9,288.74 L308.4,290.25 L307.9,291.76 L307.4,293.27 L306.9,294.78 L306.4,296.29 L305.9,297.8 L305.4,297.64 L304.9,297.48 L304.4,297.31 L303.9,297.15 L303.4,296.99 L302.9,296.83 L302.4,296.66 L301.9,296.3 L301.4,295.8 L300.9,295.3 L300.4,294.8 L299.9,294.3 L299.4,293.8 L298.9,293.3 L298.4,292.8 L297.9,292.3 L297.4,291.8 L296.9,291.22 L296.4,290.59 L295.9,289.96 L295.4,289.32 L294.9,288.69 L294.4,288.06 L293.9,287.42 L293.4,286.79 L292.9,286.16 L292.4,285.53 L291.9,284.86 L291.4,284.2 L290.9,283.53 L290.4,282.86 L289.9,282.19 L289.4,281.52 L288.9,280.85 L288.4,280.18 L287.9,279.51 L287.4,278.84 L286.9,278.18 L286.4,277.51 L285.9,276.84 L285.4,276.17 L284.9,275.5 L284.4,274.84 L283.9,274.18 L283.4,273.52 L282.9,272.86 L282.4,272.2 L281.9,271.54 L281.4,270.88 L280.9,270.22 L280.4,269.56 L279.9,268.9 L279.4,268.24 L278.9,267.58 L278.4,266.92 L277.9,266.26 L277.4,265.6 L276.9,265.35 L276.4,265.1 L275.9,264.85 L275.4,264.6 L274.9,264.35 L274.4,264.1 L273.9,263.85 L273.4,263.6 L272.9,263.35 L272.4,263.1 L271.9,262.85 L271.4,262.6 L270.9,262.35 L270.4,262.1 L269.9,261.86 L269.4,261.66 L268.9,261.45 L268.4,261.25 L267.9,261.05 L267.4,260.85 L266.9,260.64 L266.4,260.44 L265.9,260.3 L265.4,260.17 L264.9,260.05 L264.4,259.92 L263.9,259.8 L263.4,259.67 L262.9,259.55 L262.4,259.42 L261.9,259.3 L261.4,259.33 L260.9,259.95 L260.4,260.58 L259.9,261.21 L259.4,261.84 L258.9,262.46 L258.4,263.09 L257.9,263.72 L257.4,264.35 L256.9,264.97 L256.4,265.81 L255.9,266.69 L255.4,267.57 L254.9,268.46 L254.4,269.34 L253.9,270.22 L253.4,271.1 L252.9,271.99 L252.4,272.87 L251.9,273.47 L251.4,273.65 L250.9,273.82 L250.4,274 L249.9,274.18 L249.4,274.36 L248.9,274.53 L248.4,274.71 L247.9,274.89 L247.4,275.06 L246.9,274.58 L246.4,273.94 L245.9,273.3 L245.4,272.65 L244.9,272.01 L244.4,271.36 L243.9,270.72 L243.4,270.08 L242.9,269.43 L242.4,268.79 L241.9,268.14 L241.4,267.5 L240.9,266.99 L240.4,266.48 L239.9,265.97 L239.4,265.46 L238.9,264.95 L238.4,264.44 L237.9,263.93 L237.4,263.41 L236.9,262.9 L236.4,262.25 L235.9,261.49 L235.4,260.74 L234.9,259.98 L234.4,259.23 L233.9,258.47 L233.4,257.71 L232.9,256.96 L232.4,256.2 L231.9,255.46 L231.4,254.77 L230.9,254.08 L230.4,253.39 L229.9,252.7 L229.4,252 L228.9,251.31 L228.4,250.62 L227.9,249.93 L227.4,249.24 L226.9,248.55 L226.4,247.85 L225.9,247.19 L225.4,246.64 L224.9,246.09 L224.4,245.54 L223.9,244.99 L223.4,244.44 L222.9,243.88 L222.4,243.33 L221.9,242.78 L221.4,242.23 L220.9,241.68 L220.4,241.13 L219.9,240.7 L219.4,240.43 L218.9,240.17 L218.4,239.91 L217.9,239.65 L217.4,238.93 L216.9,238.1 L216.4,237.27 L215.9,236.43 L215.4,235.6 L214.9,234.77 L214.4,233.93 L213.9,233.1 L213.4,232.27 L212.9,231.43 L212.4,230.6 L211.9,229.77 L211.4,228.94 L210.9,228.1 L210.4,227.27 L209.9,226.44 L209.4,225.61 L208.9,224.78 L208.4,223.95 L207.9,223.12 L207.4,222.29 L206.9,221.46 L206.4,220.63 L205.9,219.79 L205.4,218.96 L204.9,218.13 L204.4,217.69 L203.9,217.49 L203.4,217.3 L202.9,217.11 L202.4,216.92 L201.9,216.73 L201.4,216.54 L200.9,216.34 L200.4,216.15 L199.9,215.96 L199.4,215.76 L198.9,215.56 L198.4,215.36 L197.9,215.16 L197.4,214.96 L196.9,214.76 L196.4,214.56 L195.9,214.36 L195.4,214.16 L194.9,213.98 L194.4,213.89 L193.9,213.8 L193.4,213.71 L192.9,213.62 L192.4,213.53 L191.9,213.44 L191.4,213.35 L190.9,213.26 L190.4,213.17 L189.9,213.07 L189.4,212.89 L188.9,212.72 L188.4,212.55 L187.9,212.38 L187.4,212.21 L186.9,212.03 L186.4,211.7 L185.9,211.33 L185.4,210.96 L184.9,210.59 L184.4,210.21 L183.9,209.84 L183.4,209.47 L182.9,209.1 L182.4,208.77 L181.9,208.65 L181.4,208.52 L180.9,208.39 L180.4,208.26 L179.9,208.13 L179.4,208.01 L178.9,207.88 L178.4,207.75 L177.9,207.46 L177.4,207.06 L176.9,206.66 L176.4,206.27 L175.9,205.87 L175.4,205.47 L174.9,205.07 L174.4,204.67 L173.9,204.28 L173.4,203.88 L172.9,203.48 L172.4,203 L171.9,202.5 L171.4,202 L170.9,201.5 L170.4,201 L169.9,200.5 L169.4,200 L168.9,199.5 L168.4,199.15 L167.9,199.41 L167.4,199.66 L166.9,199.92 L166.4,200.17 L165.9,200.43 L165.4,200.69 L164.9,200.94 L164.4,201.2 L163.9,201.32 L163.4,201.36 L162.9,201.4 L162.4,201.43 L161.9,201.47 L161.4,201.51 L160.9,201.54 L160.4,201.58 L159.9,201.62 L159.4,201.66 L158.9,201.69 L158.4,201.46 L157.9,201.16 L157.4,200.85 L156.9,200.55 L156.4,200.25 L155.9,199.95 L155.4,199.64 L154.9,199.34 L154.4,199.13 L153.9,199.31 L153.4,199.48 L152.9,199.65 L152.4,199.82 L151.9,199.99 L151.4,200.17 L150.9,201.3 L150.4,202.67 L149.9,204.04 L149.4,205.41 L148.9,206.79 L148.4,208.16 L147.9,209.53 L147.4,210.9 L146.9,212.47 L146.4,214.83 L145.9,217.19 L145.4,219.55 L144.9,221.91 L144.4,224.27 L143.9,226.63 L143.4,227.57 L142.9,228.16 L142.4,228.75 L141.9,229.35 L141.4,229.94 L140.9,230.53 L140.4,230.96 L139.9,230.75 L139.4,230.54 L138.9,230.33 L138.4,230.12 L137.9,229.91 L137.4,229.7 L136.9,229.49 L136.4,229.28 L135.9,228.84 L135.4,228.23 L134.9,227.63 L134.4,227.03 L133.9,226.42 L133.4,225.82 L132.9,225.22 L132.4,224.61 L131.9,224.01 L131.4,223.4 L130.9,222.8 L130.4,221.61 L129.9,220.41 L129.4,219.22 L128.9,218.02 L128.4,216.83 L127.9,215.63 L127.4,214.44 L126.9,213.24 L126.4,212.05 L125.9,210.86 L125.4,209.66 L124.9,208.47 L124.4,207.27 L123.9,206.08 L123.4,204.88 L122.9,203.69 L122.4,202.49 L121.9,201.3 L121.4,200.11 L120.9,198.91 L120.4,197.72 L119.9,196.65 L119.4,195.78 L118.9,194.91 L118.4,194.03 L117.9,193.16 L117.4,192.29 L116.9,191.42 L116.4,190.55 L115.9,189.67 L115.4,189.41 L114.9,189.29 L114.4,189.17 L113.9,189.05 L113.4,188.94 L112.9,188.82 L112.4,188.7 L111.9,188.59 L111.4,188.47 L110.9,188.35 L110.4,188.23 L109.9,188.12 L109.4,188 L108.9,188.12 L108.4,188.23 L107.9,188.35 L107.4,188.46 L106.9,188.58 L106.4,188.69 L105.9,188.81 L105.4,188.92 L104.9,189.04 L104.4,189.15 L103.9,189.27 L103.4,189.38 L102.9,189.5 L102.4,190.12 L101.9,190.73 L101.4,191.35 L100.9,191.97 L100.4,192.58 L99.9,193.2 L99.4,193.81 L98.9,194.43 L98.4,196 L97.9,199 L97.4,202 L96.9,205 L96.4,208 L95.9,211 L95.4,214 L94.9,217 L94.4,220 L93.9,221.87 L93.4,223.73 L92.9,225.6 L92.4,227.46 L91.9,229.33 L91.4,230.91 L90.9,232.43 L90.4,233.94 L89.9,235.46 L89.4,236.97 L88.9,238.49 L88.4,240 L87.9,241.5 L87.4,243 L86.9,244.5 L86.4,246 L85.9,247.5 L85.4,249 L84.9,249.55 L84.4,250.09 L83.9,250.64 L83.4,251.18 L82.9,251.73 L82.4,252.27 L81.9,252.51 L81.4,252.3 L80.9,252.09 L80.4,251.88 L79.9,251.66 L79.4,251.45 L78.9,251.24 L78.4,251.02 L77.9,250.81 L77.4,250.6 L76.9,250.38 L76.4,250.17 L75.9,249.88 L75.4,249.25 L74.9,248.62 L74.4,248 L73.9,247.38 L73.4,246.75 L72.9,246.12 L72.4,245.5 L71.9,244.75 L71.4,243.5 L70.9,242.25 L70.4,241 L69.9,239.75 L69.4,238.5 L68.9,237.25 L68.4,236 Z" fill="rgb(175,190,175)" fill-opacity="0.4"/>
<path d="M68.4,234.5 L68.9,235.69 L69.4,236.89 L69.9,238.08 L70.4,239.28 L70.9,240.47 L71.4,241.67 L71.9,242.86 L72.4,243.56 L72.9,244.13 L73.4,244.7 L73.9,245.27 L74.4,245.84 L74.9,246.41 L75.4,246.98 L75.9,247.55 L76.4,247.79 L76.9,247.95 L77.4,248.1 L77.9,248.26 L78.4,248.42 L78.9,248.58 L79.4,248.74 L79.9,248.89 L80.4,249.05 L80.9,249.21 L81.4,249.37 L81.9,249.53 L82.4,249.26 L82.9,248.7 L83.4,248.13 L83.9,247.57 L84.4,247.01 L84.9,246.44 L85.4,245.88 L85.9,244.36 L86.4,242.84 L86.9,241.32 L87.4,239.81 L87.9,238.29 L88.4,236.77 L88.9,235.24 L89.4,233.71 L89.9,232.18 L90.4,230.64 L90.9,229.11 L91.4,227.58 L91.9,225.97 L92.4,224.09 L92.9,222.21 L93.4,220.32 L93.9,218.44 L94.4,216.56 L94.9,213.54 L95.4,210.52 L95.9,207.5 L96.4,204.49 L96.9,201.47 L97.4,198.45 L97.9,195.43 L98.4,192.41 L98.9,190.83 L99.4,190.19 L99.9,189.56 L100.4,188.92 L100.9,188.29 L101.4,187.66 L101.9,187.02 L102.4,186.39 L102.9,185.75 L103.4,185.62 L103.9,185.49 L104.4,185.35 L104.9,185.22 L105.4,185.09 L105.9,184.95 L106.4,184.82 L106.9,184.69 L107.4,184.55 L107.9,184.42 L108.4,184.29 L108.9,184.15 L109.4,184.02 L109.9,184.12 L110.4,184.21 L110.9,184.31 L111.4,184.4 L111.9,184.49 L112.4,184.58 L112.9,184.68 L113.4,184.77 L113.9,184.86 L114.4,184.95 L114.9,185.04 L115.4,185.14 L115.9,185.38 L116.4,186.23 L116.9,187.07 L117.4,187.92 L117.9,188.77 L118.4,189.61 L118.9,190.46 L119.4,191.31 L119.9,192.16 L120.4,193.2 L120.9,194.37 L121.4,195.54 L121.9,196.71 L122.4,197.87 L122.9,199.04 L123.4,200.21 L123.9,201.38 L124.4,202.55 L124.9,203.72 L125.4,204.89 L125.9,206.06 L126.4,207.23 L126.9,208.4 L127.4,209.57 L127.9,210.74 L128.4,211.91 L128.9,213.08 L129.4,214.25 L129.9,215.42 L130.4,216.59 L130.9,217.76 L131.4,218.33 L131.9,218.91 L132.4,219.49 L132.9,220.07 L133.4,220.65 L133.9,221.23 L134.4,221.81 L134.9,222.39 L135.4,222.96 L135.9,223.54 L136.4,223.96 L136.9,224.15 L137.4,224.33 L137.9,224.52 L138.4,224.7 L138.9,224.89 L139.4,225.07 L139.9,225.25 L140.4,225.44 L140.9,224.98 L141.4,224.37 L141.9,223.75 L142.4,223.13 L142.9,222.52 L143.4,221.9 L143.9,220.93 L144.4,218.55 L144.9,216.16 L145.4,213.78 L145.9,211.4 L146.4,209.01 L146.9,206.63 L147.4,205.03 L147.9,203.64 L148.4,202.24 L148.9,200.84 L149.4,199.44 L149.9,198.05 L150.4,196.66 L150.9,195.28 L151.4,194.14 L151.9,193.96 L152.4,193.77 L152.9,193.59 L153.4,193.41 L153.9,193.23 L154.4,193.05 L154.9,193.24 L155.4,193.54 L155.9,193.83 L156.4,194.12 L156.9,194.41 L157.4,194.71 L157.9,195 L158.4,195.29 L158.9,195.51 L159.4,195.47 L159.9,195.42 L160.4,195.37 L160.9,195.33 L161.4,195.28 L161.9,195.23 L162.4,195.19 L162.9,195.14 L163.4,195.09 L163.9,195.04 L164.4,194.91 L164.9,194.64 L165.4,194.38 L165.9,194.11 L166.4,193.85 L166.9,193.58 L167.4,193.31 L167.9,193.05 L168.4,192.78 L168.9,193.12 L169.4,193.61 L169.9,194.1 L170.4,194.59 L170.9,195.08 L171.4,195.57 L171.9,196.06 L172.4,196.55 L172.9,197.02 L173.4,197.41 L173.9,197.8 L174.4,198.19 L174.9,198.57 L175.4,198.96 L175.9,199.35 L176.4,199.74 L176.9,200.13 L177.4,200.51 L177.9,200.9 L178.4,201.18 L178.9,201.3 L179.4,201.42 L179.9,201.54 L180.4,201.65 L180.9,201.77 L181.4,201.89 L181.9,202.01 L182.4,202.13 L182.9,202.44 L183.4,202.8 L183.9,203.16 L184.4,203.53 L184.9,203.89 L185.4,204.25 L185.9,204.61 L186.4,204.97 L186.9,205.3 L187.4,205.46 L187.9,205.62 L188.4,205.78 L188.9,205.94 L189.4,206.11 L189.9,206.27 L190.4,206.36 L190.9,206.44 L191.4,206.52 L191.9,206.6 L192.4,206.68 L192.9,206.76 L193.4,206.84 L193.9,206.92 L194.4,207 L194.9,207.08 L195.4,207.25 L195.9,207.44 L196.4,207.63 L196.9,207.82 L197.4,208.01 L197.9,208.2 L198.4,208.39 L198.9,208.58 L199.4,208.77 L199.9,208.96 L200.4,209.14 L200.9,209.31 L201.4,209.48 L201.9,209.65 L202.4,209.82 L202.9,209.99 L203.4,210.16 L203.9,210.33 L204.4,210.5 L204.9,210.92 L205.4,211.73 L205.9,212.54 L206.4,213.35 L206.9,214.16 L207.4,214.97 L207.9,215.78 L208.4,216.59 L208.9,217.4 L209.4,218.21 L209.9,219.02 L210.4,219.83 L210.9,220.64 L211.4,221.45 L211.9,222.26 L212.4,223.07 L212.9,223.88 L213.4,224.7 L213.9,225.51 L214.4,226.32 L214.9,227.13 L215.4,227.94 L215.9,228.76 L216.4,229.57 L216.9,230.38 L217.4,231.19 L217.9,231.89 L218.4,232.13 L218.9,232.37 L219.4,232.61 L219.9,232.85 L220.4,233.26 L220.9,233.79 L221.4,234.32 L221.9,234.85 L222.4,235.38 L222.9,235.91 L223.4,236.44 L223.9,236.97 L224.4,237.5 L224.9,238.03 L225.4,238.56 L225.9,239.09 L226.4,239.73 L226.9,240.4 L227.4,241.07 L227.9,241.74 L228.4,242.41 L228.9,243.08 L229.4,243.75 L229.9,244.42 L230.4,245.09 L230.9,245.76 L231.4,246.43 L231.9,247.1 L232.4,247.83 L232.9,248.56 L233.4,249.29 L233.9,250.03 L234.4,250.76 L234.9,251.5 L235.4,252.23 L235.9,252.96 L236.4,253.7 L236.9,254.33 L237.4,254.82 L237.9,255.31 L238.4,255.8 L238.9,256.29 L239.4,256.78 L239.9,257.27 L240.4,257.76 L240.9,258.25 L241.4,258.74 L241.9,259.36 L242.4,259.98 L242.9,260.61 L243.4,261.23 L243.9,261.85 L244.4,262.48 L244.9,263.1 L245.4,263.72 L245.9,264.34 L246.4,264.97 L246.9,265.59 L247.4,266.09 L247.9,265.95 L248.4,265.8 L248.9,265.66 L249.4,265.52 L249.9,265.37 L250.4,265.23 L250.9,265.08 L251.4,264.94 L251.9,264.8 L252.4,264.23 L252.9,263.38 L253.4,262.53 L253.9,261.68 L254.4,260.83 L254.9,259.98 L255.4,259.13 L255.9,258.28 L256.4,257.43 L256.9,256.63 L257.4,256.04 L257.9,255.45 L258.4,254.85 L258.9,254.26 L259.4,253.66 L259.9,253.07 L260.4,252.47 L260.9,251.88 L261.4,251.29 L261.9,251.29 L262.4,251.4 L262.9,251.5 L263.4,251.59 L263.9,251.69 L264.4,251.78 L264.9,251.88 L265.4,251.97 L265.9,252.07 L266.4,252.18 L266.9,252.36 L267.4,252.53 L267.9,252.7 L268.4,252.87 L268.9,253.05 L269.4,253.22 L269.9,253.39 L270.4,253.61 L270.9,253.83 L271.4,254.05 L271.9,254.27 L272.4,254.49 L272.9,254.71 L273.4,254.93 L273.9,255.15 L274.4,255.37 L274.9,255.59 L275.4,255.81 L275.9,256.03 L276.4,256.25 L276.9,256.47 L277.4,256.69 L277.9,257.32 L278.4,257.96 L278.9,258.59 L279.4,259.22 L279.9,259.85 L280.4,260.48 L280.9,261.11 L281.4,261.74 L281.9,262.37 L282.4,263 L282.9,263.63 L283.4,264.26 L283.9,264.89 L284.4,265.52 L284.9,266.15 L285.4,266.79 L285.9,267.43 L286.4,268.07 L286.9,268.71 L287.4,269.35 L287.9,269.99 L288.4,270.63 L288.9,271.27 L289.4,271.91 L289.9,272.55 L290.4,273.19 L290.9,273.83 L291.4,274.47 L291.9,275.11 L292.4,275.74 L292.9,276.34 L293.4,276.94 L293.9,277.55 L294.4,278.15 L294.9,278.75 L295.4,279.36 L295.9,279.96 L296.4,280.56 L296.9,281.17 L297.4,281.72 L297.9,282.19 L298.4,282.66 L298.9,283.13 L299.4,283.6 L299.9,284.07 L300.4,284.54 L300.9,285.01 L301.4,285.48 L301.9,285.95 L302.4,286.29 L302.9,286.42 L303.4,286.55 L303.9,286.69 L304.4,286.82 L304.9,286.95 L305.4,287.08 L305.9,287.22 L306.4,285.68 L306.9,284.14 L307.4,282.6 L307.9,281.06 L308.4,279.52 L308.9,277.98 L309.4,276.44 L309.9,274.9 L310.4,273.36 L310.9,271.83 L311.4,270.31 L311.9,268.79 L312.4,267.27 L312.9,265.75 L313.4,264.23 L313.9,262.71 L314.4,261.19 L314.9,259.67 L315.4,258.15 L315.9,256.78 L316.4,255.99 L316.9,255.21 L317.4,254.42 L317.9,253.64 L318.4,252.86 L318.9,252.07 L319.4,251.29 L319.9,250.5 L320.4,249.72 L320.9,249.37 L321.4,249.67 L321.9,249.97 L322.4,250.27 L322.9,250.57 L323.4,250.86 L323.9,251.16 L324.4,251.46 L324.9,251.2 L325.4,250.79 L325.9,250.38 L326.4,249.98 L326.9,249.57 L327.4,249.16 L327.9,248.76 L328.4,248.35 L328.9,247.94 L329.4,247.54 L329.9,247.26 L330.4,246.99 L330.9,246.72 L331.4,246.45 L331.9,246.18 L332.4,245.91 L332.9,245.64 L333.4,245.38 L333.9,245.11 L334.4,244.84 L334.9,245.66 L335.4,246.48 L335.9,247.3 L336.4,248.12 L336.9,248.94 L337.4,249.76 L337.9,250.58 L338.4,251.13 L338.9,251.51 L339.4,251.89 L339.9,252.26 L340.4,252.64 L340.9,253.02 L341.4,253.39 L341.9,253.77 L342.4,254.15 L342.9,254.52 L343.4,254.9 L343.9,255.28 L344.4,255.68 L344.9,256.17 L345.4,256.66 L345.9,257.15 L346.4,257.64 L346.9,258.13 L347.4,258.62 L347.9,259.11 L348.4,259.6 L348.9,260.09 L349.4,260.58 L349.9,261.07 L350.4,261.56 L350.9,262.04 L351.4,262.52 L351.9,263 L352.4,263.49 L352.9,263.97 L353.4,264.45 L353.9,264.93 L354.4,265.41 L354.9,265.89 L355.4,266.38 L355.9,266.86 L356.4,267.34 L356.9,267.04 L357.4,266.23 L357.9,265.41 L358.4,264.59 L358.9,263.78 L359.4,262.96 L359.9,262.14 L360.4,261.33 L360.9,260.51 L361.4,259.69 L361.9,258.88 L362.4,258.06 L362.9,257.18 L363.4,256.02 L363.9,254.87 L364.4,253.71 L364.9,252.56 L365.4,250.71 L365.9,248.69 L366.4,246.68 L366.9,244.66 L367.4,242.64 L367.9,240.62 L368.4,238.6 L368.9,237.19 L369.4,236.67 L369.9,236.15 L370.4,235.63 L370.9,235.11 L371.4,234.59 L371.9,234.08 L372.4,233.56 L372.9,233.04 L373.4,232.52 L373.9,232.15 L374.4,232.01 L374.9,231.87 L375.4,231.73 L375.9,231.59 L376.4,231.45 L376.9,231.31 L377.4,231.17 L377.9,231.03 L378.4,230.89 L378.9,230.75 L379.4,230.61 L379.9,230.47 L380.4,230.34 L380.9,230.2 L381.4,230.06 L381.9,229.92 L382.4,229.78 L382.9,229.64 L383.4,229.51 L383.9,229.36 L384.4,229.21 L384.9,229.06 L385.4,228.91 L385.9,228.76 L386.4,228.61 L386.9,228.46 L387.4,228.3 L387.9,228.15 L388.4,228 L388.9,228.63 L389.4,229.45 L389.9,230.27 L390.4,231.09 L390.9,231.91 L391.4,232.73 L391.9,233.55 L392.4,234.28 L392.9,234.88 L393.4,235.48 L393.9,236.08 L394.4,236.69 L394.9,237.29 L395.4,237.89 L395.9,238.49 L396.4,239.09 L396.9,239.7 L397.4,240.25 L397.9,240.75 L398.4,241.24 L398.9,241.73 L399.4,242.22 L399.9,242.71 L400.4,243.21 L400.9,243.7 L401.4,244.19 L401.9,244.68 L402.4,245.16 L402.9,245.63 L403.4,246.1 L403.9,246.58 L404.4,247.05 L404.9,247.52 L405.4,247.99 L405.9,248.46 L406.4,248.94 L406.9,249.41 L407.4,249.83 L407.9,250.21 L408.4,250.6 L408.9,250.98 L409.4,251.37 L409.9,251.75 L410.4,252.14 L410.9,252.52 L411.4,252.91 L411.9,253.29 L412.4,253.68 L412.9,254.06 L413.4,254.29 L413.9,253.88 L414.4,253.48 L414.9,253.07 L415.4,252.67 L415.9,252.26 L416.4,251.85 L416.9,251.45 L417.4,251.04 L417.9,250.64 L418.4,249.94 L418.9,248.81 L419.4,247.69 L419.9,246.56 L420.4,245.43 L420.9,244.3 L421.4,243.17 L421.9,242.04 L422.4,240.92 L422.9,239.79 L423.4,239.02 L423.9,238.8 L424.4,238.58 L424.9,238.36 L425.4,238.14 L425.9,237.92 L426.4,237.7 L426.9,237.48 L427.4,237.26 L427.9,237.04 L428.4,236.83 L428.9,236.61 L429.4,236.39 L429.9,236.37 L430.4,236.35 L430.9,236.33 L431.4,236.31 L431.9,236.29 L432.4,236.28 L432.9,236.26 L433.4,236.24 L433.9,236.22 L434.4,236.18 L434.9,236.04 L435.4,235.9 L435.9,235.77 L436.4,235.63 L436.9,235.49 L437.4,235.35 L437.9,235.21 L438.4,235.07 L438.9,234.94 L439.4,234.79 L439.9,234.61 L440.4,234.44 L440.9,234.28 L441.4,234.12 L441.9,233.96 L442.4,233.79 L442.9,233.63 L443.4,234.2 L443.9,234.96 L444.4,235.71 L444.9,236.47 L445.4,237.22 L445.9,237.98 L446.4,238.73 L446.9,239.49 L447.4,240.24 L447.9,241 L448.4,241.86 L448.9,242.72 L449.4,243.58 L449.9,244.44 L450.4,245.3 L450.9,246.16 L451.4,247.02 L451.9,247.88 L452.4,248.74 L452.9,249.6 L453.4,250.23 L453.9,250.87 L454.4,251.5 L454.9,252.13 L455.4,252.76 L455.9,253.4 L456.4,254.03 L456.9,254.66 L457.4,255.29 L457.9,255.87 L458.4,256.21 L458.9,256.54 L459.4,256.88 L459.9,257.22 L460.4,257.56 L460.9,257.89 L461.4,258.23 L461.9,258.3 L462.4,258.3 L462.9,258.3 L463.4,258.3 L463.9,258.3 L464.4,258.3 L464.9,258.3 L465.4,258.83 L465.9,259.5 L466.4,260.17 L466.9,260.83 L467.4,261.5 L467.9,259.82 L468.4,258.14 L468.9,256.46 L469.4,254.78 L469.9,253.1 L470.4,251.42 L470.9,249.74 L471.4,248.06 L471.9,246.38 L472.4,244.7 L472.9,243.69 L473.4,242.68 L473.9,241.67 L474.4,240.66 L474.9,239.65 L475.4,238.64 L475.9,237.63 L476.4,236.62 L476.9,235.61 L477.4,234.74 L477.9,234.44 L478.4,234.14 L478.9,233.85 L479.4,233.55 L479.9,233.25 L480.4,232.95 L480.9,232.65 L481.4,232.35 L481.9,232.05 L482.4,231.76 L482.9,231.46 L483.4,231.16 L483.9,231.5 L484.4,232 L484.9,232.5 L485.4,233 L485.9,233.5 L486.4,234 L486.9,234.5 L487.4,235 L487.9,235.49 L488.4,235.98 L488.9,236.47 L489.4,236.96 L489.9,237.45 L490.4,237.94 L490.9,238.43 L491.4,238.92 L491.9,239.41 L492.4,239.74 L492.9,239.82 L493.4,239.91 L493.9,240 L494.4,240.09 L494.9,240.17 L495.4,240.26 L495.9,240.35 L496.4,240.44 L496.9,240.53 L497.4,240.61 L497.9,240.7 L498.4,240.79 L498.9,240.88 L499.4,240.96 L499.9,241.36 L500.4,241.93 L500.9,242.5 L501.4,243.06 L501.9,243.63 L502.4,244.2 L502.9,244.76 L503.4,245.33 L503.9,245.9 L504.4,246.47 L504.9,247.03 L505.4,247.6 L505.9,248.13 L506.4,248.52 L506.9,248.91 L507.4,249.3 L507.9,249.69 L508.4,250.07 L508.9,250.46 L509.4,250.85 L509.9,251.24 L510.4,251.63 L510.9,252.02 L511.4,252.41 L511.9,252.8 L512.4,253.19 L512.9,253.57 L513.4,254.03 L513.9,254.6 L514.4,255.17 L514.9,255.74 L515.4,256.3 L515.9,256.87 L516.4,257.44 L516.9,258 L517.4,258.57 L517.9,259.14 L518.4,259.7 L518.9,260.27 L519.4,260.84 L519.9,259.71 L520.4,258.58 L520.9,257.46 L521.4,256.33 L521.9,255.2 L522.4,254.08 L522.9,252.95 L523.4,251.82 L523.9,250.7 L524.4,249.57 L524.9,248.44 L525.4,247.31 L525.9,246.31 L526.4,245.38 L526.9,244.46 L527.4,243.53 L527.9,242.61 L528.4,241.68 L528.9,240.76 L529.4,239.83 L529.9,238.91 L530.4,237.98 L530.9,237.06 L531.4,236.13 L531.9,235.35 L532.4,235.15 L532.9,234.95 L533.4,234.76 L533.9,234.56 L534.4,234.36 L534.9,234.16 L535.4,233.96 L535.9,233.76 L536.4,233.56 L536.9,233.36 L537.4,233.16 L537.9,232.97 L538.4,232.77 L538.9,232.57 L539.4,232.68 L539.9,233.27 L540.4,233.86 L540.9,234.45 L541.4,235.04 L541.9,235.63 L542.4,236.22 L542.9,236.81 L543.4,237.4 L543.9,237.99 L544.4,238.3 L544.9,238.17 L545.4,238.05 L545.9,237.92 L546.4,237.8 L546.9,237.67 L547.4,237.55 L547.9,237.42 L548.4,237.3 L548.9,237.17 L549.4,237.05 L549.9,236.92 L550.4,237.52 L550.9,238.3 L551.4,239.07 L551.9,239.85 L552.4,240.62 L552.9,241.4 L553.4,242.17 L553.9,242.95 L554.4,243.72 L554.9,244.4 L555.4,245.06 L555.9,245.71 L556.4,246.36 L556.9,247.02 L557.4,247.67 L557.9,248.32 L558.4,248.98 L558.9,249.63 L559.4,250.26 L559.9,250.89 L560.4,251.52 L560.9,252.15 L561.4,252.78 L561.9,253.41 L562.4,254.04 L562.9,254.66 L563.4,255.29 L563.9,255.86 L564.4,256.39 L564.9,256.92 L565.4,257.45 L565.9,257.98 L566.4,258.51 L566.9,259.03 L567.4,259.56 L567.9,260.09 L568.4,260.62 L568.9,261.15 L569.4,261.61 L569.9,261.96 L570.4,262.32 L570.9,262.67 L571.4,263.02 L571.9,263.38 L572.4,263.73 L572.9,264.08 L573.4,264.44 L573.9,264.79 L574.4,265.14 L574.9,265.5 L575.4,264.95 L575.9,264.4 L576.4,263.85 L576.9,263.3 L577.4,262.75 L577.9,262.19 L578.4,261.64 L578.9,261.09 L579.4,260.54 L579.9,259.55 L580.4,258.55 L580.9,257.56 L581.4,256.56 L581.9,255.57 L582.4,254.57 L582.9,253.58 L583.4,252.58 L583.9,251.59 L584.4,250.79 L584.9,250 L585.4,249.2 L585.9,248.4 L586.4,247.61 L586.9,246.81 L587.4,246.02 L587.9,245.22 L588.4,244.43 L588.9,244.68 L589.4,244.93 L589.9,245.18 L590.4,245.43 L590.9,245.68 L591.4,245.92 L591.9,246.17 L592.4,246.42 L592.9,246.67 L593.4,246.85 L593.9,247.03 L594.4,247.21 L594.9,247.39 L595.4,247.57 L595.9,247.74 L596.4,247.92 L596.9,248.1 L597.4,248.28 L597.9,248.4 L598.4,248.5 L598.9,248.6 L599.4,248.71 L599.9,248.81 L600.4,248.91 L600.9,249.02 L601.4,249.12 L601.9,249.22 L602.4,249.33 L602.9,249.43 L603.4,249.59 L603.9,249.8 L604.4,250.01 L604.9,250.21 L605.4,250.42 L605.9,250.63 L606.4,250.83 L606.9,251.04 L607.4,251.25 L607.9,251.45 L608.4,251.66 L608.9,251.85 L609.4,251.98 L609.9,252.1 L610.4,252.23 L610.9,252.36 L611.4,252.49 L611.9,252.61 L612.4,252.74 L612.9,252.87 L613.4,253.04 L613.9,253.43 L614.4,253.81 L614.9,254.19 L615.4,254.58 L615.9,254.96 L616.4,255.34 L616.9,255.72 L617.4,256.11 L617.9,256.49 L618.4,256.87 L618.9,257.25 L619.4,257.64 L619.9,258.02 L620.4,258.4 L620.9,258.78 L621.4,259.17 L621.9,259.55 L622.4,259.91 L622.9,260.17 L623.4,260.43 L623.9,260.69 L624.4,260.95 L624.9,261.21 L625.4,261.47 L625.9,261.73 L626.4,261.99 L626.4,295.49 L625.9,295.23 L625.4,294.97 L624.9,294.71 L624.4,294.45 L623.9,294.19 L623.4,293.93 L622.9,293.67 L622.4,293.41 L621.9,293.05 L621.4,292.67 L620.9,292.28 L620.4,291.9 L619.9,291.52 L619.4,291.14 L618.9,290.75 L618.4,290.37 L617.9,289.99 L617.4,289.61 L616.9,289.22 L616.4,288.84 L615.9,288.46 L615.4,288.08 L614.9,287.69 L614.4,287.31 L613.9,286.93 L613.4,286.54 L612.9,286.37 L612.4,286.24 L611.9,286.11 L611.4,285.99 L610.9,285.86 L610.4,285.73 L609.9,285.6 L609.4,285.48 L608.9,285.35 L608.4,285.16 L607.9,284.95 L607.4,284.75 L606.9,284.54 L606.4,284.33 L605.9,284.13 L605.4,283.92 L604.9,283.71 L604.4,283.51 L603.9,283.3 L603.4,283.09 L602.9,282.93 L602.4,282.83 L601.9,282.72 L601.4,282.62 L600.9,282.52 L600.4,282.41 L599.9,282.31 L599.4,282.21 L598.9,282.1 L598.4,282 L597.9,281.9 L597.4,281.78 L596.9,281.6 L596.4,281.42 L595.9,281.24 L595.4,281.07 L594.9,280.89 L594.4,280.71 L593.9,280.53 L593.4,280.35 L592.9,280.17 L592.4,279.92 L591.9,279.67 L591.4,279.42 L590.9,279.18 L590.4,278.93 L589.9,278.68 L589.4,278.43 L588.9,278.18 L588.4,277.93 L587.9,278.72 L587.4,279.52 L586.9,280.31 L586.4,281.11 L585.9,281.9 L585.4,282.7 L584.9,283.5 L584.4,284.29 L583.9,285.09 L583.4,286.08 L582.9,287.08 L582.4,288.07 L581.9,289.07 L581.4,290.06 L580.9,291.06 L580.4,292.05 L579.9,293.05 L579.4,294.04 L578.9,294.59 L578.4,295.14 L577.9,295.69 L577.4,296.25 L576.9,296.8 L576.4,297.35 L575.9,297.9 L575.4,298.45 L574.9,299 L574.4,298.68 L573.9,298.36 L573.4,298.03 L572.9,297.71 L572.4,297.39 L571.9,297.06 L571.4,296.74 L570.9,296.42 L570.4,296.09 L569.9,295.77 L569.4,295.45 L568.9,295.02 L568.4,294.52 L567.9,294.02 L567.4,293.52 L566.9,293.02 L566.4,292.52 L565.9,292.02 L565.4,291.52 L564.9,291.03 L564.4,290.53 L563.9,290.03 L563.4,289.49 L562.9,288.89 L562.4,288.29 L561.9,287.69 L561.4,287.09 L560.9,286.5 L560.4,285.9 L559.9,285.3 L559.4,284.7 L558.9,284.1 L558.4,283.47 L557.9,282.85 L557.4,282.23 L556.9,281.6 L556.4,280.98 L555.9,280.36 L555.4,279.73 L554.9,279.11 L554.4,278.46 L553.9,277.72 L553.4,276.97 L552.9,276.22 L552.4,275.48 L551.9,274.73 L551.4,273.99 L550.9,273.24 L550.4,272.5 L549.9,271.92 L549.4,272 L548.9,272.09 L548.4,272.17 L547.9,272.26 L547.4,272.34 L546.9,272.43 L546.4,272.51 L545.9,272.6 L545.4,272.68 L544.9,272.77 L544.4,272.85 L543.9,272.51 L543.4,271.88 L542.9,271.25 L542.4,270.62 L541.9,269.99 L541.4,269.36 L540.9,268.73 L540.4,268.1 L539.9,267.47 L539.4,266.84 L538.9,266.68 L538.4,266.84 L537.9,267 L537.4,267.16 L536.9,267.32 L536.4,267.47 L535.9,267.63 L535.4,267.79 L534.9,267.95 L534.4,268.11 L533.9,268.27 L533.4,268.43 L532.9,268.59 L532.4,268.75 L531.9,268.9 L531.4,269.64 L530.9,270.53 L530.4,271.41 L529.9,272.3 L529.4,273.18 L528.9,274.07 L528.4,274.96 L527.9,275.84 L527.4,276.73 L526.9,277.61 L526.4,278.5 L525.9,279.38 L525.4,280.35 L524.9,281.43 L524.4,282.52 L523.9,283.61 L523.4,284.69 L522.9,285.78 L522.4,286.87 L521.9,287.95 L521.4,289.04 L520.9,290.13 L520.4,291.21 L519.9,292.3 L519.4,293.39 L518.9,292.78 L518.4,292.17 L517.9,291.57 L517.4,290.96 L516.9,290.35 L516.4,289.75 L515.9,289.14 L515.4,288.53 L514.9,287.93 L514.4,287.32 L513.9,286.71 L513.4,286.11 L512.9,285.61 L512.4,285.18 L511.9,284.75 L511.4,284.32 L510.9,283.89 L510.4,283.46 L509.9,283.03 L509.4,282.6 L508.9,282.18 L508.4,281.75 L507.9,281.32 L507.4,280.89 L506.9,280.46 L506.4,280.03 L505.9,279.6 L505.4,279.03 L504.9,278.42 L504.4,277.82 L503.9,277.21 L503.4,276.6 L502.9,276 L502.4,275.39 L501.9,274.78 L501.4,274.18 L500.9,273.57 L500.4,272.96 L499.9,272.36 L499.4,271.96 L498.9,271.88 L498.4,271.79 L497.9,271.7 L497.4,271.61 L496.9,271.53 L496.4,271.44 L495.9,271.35 L495.4,271.26 L494.9,271.17 L494.4,271.09 L493.9,271 L493.4,270.91 L492.9,270.82 L492.4,270.74 L491.9,270.41 L491.4,269.92 L490.9,269.43 L490.4,268.94 L489.9,268.45 L489.4,267.96 L488.9,267.47 L488.4,266.98 L487.9,266.49 L487.4,266 L486.9,265.5 L486.4,265 L485.9,264.5 L485.4,264 L484.9,263.5 L484.4,263 L483.9,262.5 L483.4,262.16 L482.9,262.46 L482.4,262.76 L481.9,263.05 L481.4,263.35 L480.9,263.65 L480.4,263.95 L479.9,264.25 L479.4,264.55 L478.9,264.85 L478.4,265.14 L477.9,265.44 L477.4,265.74 L476.9,266.61 L476.4,267.62 L475.9,268.63 L475.4,269.64 L474.9,270.65 L474.4,271.66 L473.9,272.67 L473.4,273.68 L472.9,274.69 L472.4,275.7 L471.9,277.38 L471.4,279.06 L470.9,280.74 L470.4,282.42 L469.9,284.1 L469.4,285.78 L468.9,287.46 L468.4,289.14 L467.9,290.82 L467.4,292.5 L466.9,291.83 L466.4,291.17 L465.9,290.5 L465.4,289.83 L464.9,289.3 L464.4,289.3 L463.9,289.3 L463.4,289.3 L462.9,289.3 L462.4,289.3 L461.9,289.3 L461.4,289.23 L460.9,288.89 L460.4,288.56 L459.9,288.22 L459.4,287.88 L458.9,287.54 L458.4,287.21 L457.9,286.87 L457.4,286.29 L456.9,285.66 L456.4,285.03 L455.9,284.4 L455.4,283.76 L454.9,283.13 L454.4,282.5 L453.9,281.87 L453.4,281.23 L452.9,280.6 L452.4,279.74 L451.9,278.88 L451.4,278.02 L450.9,277.16 L450.4,276.3 L449.9,275.44 L449.4,274.58 L448.9,273.72 L448.4,272.86 L447.9,272 L447.4,271.24 L446.9,270.49 L446.4,269.73 L445.9,268.98 L445.4,268.22 L444.9,267.47 L444.4,266.71 L443.9,265.96 L443.4,265.2 L442.9,264.63 L442.4,264.79 L441.9,264.96 L441.4,265.12 L440.9,265.28 L440.4,265.44 L439.9,265.6 L439.4,265.75 L438.9,265.86 L438.4,265.96 L437.9,266.06 L437.4,266.16 L436.9,266.26 L436.4,266.37 L435.9,266.47 L435.4,266.57 L434.9,266.67 L434.4,266.77 L433.9,266.78 L433.4,266.76 L432.9,266.74 L432.4,266.72 L431.9,266.71 L431.4,266.69 L430.9,266.67 L430.4,266.65 L429.9,266.63 L429.4,266.61 L428.9,266.8 L428.4,266.98 L427.9,267.16 L427.4,267.35 L426.9,267.53 L426.4,267.72 L425.9,267.9 L425.4,268.08 L424.9,268.27 L424.4,268.45 L423.9,268.63 L423.4,268.82 L422.9,269.54 L422.4,270.64 L421.9,271.73 L421.4,272.82 L420.9,273.91 L420.4,275 L419.9,276.1 L419.4,277.19 L418.9,278.28 L418.4,279.37 L417.9,280.03 L417.4,280.4 L416.9,280.77 L416.4,281.14 L415.9,281.51 L415.4,281.88 L414.9,282.25 L414.4,282.62 L413.9,282.99 L413.4,283.36 L412.9,283.09 L412.4,282.67 L411.9,282.25 L411.4,281.83 L410.9,281.41 L410.4,280.98 L409.9,280.56 L409.4,280.14 L408.9,279.72 L408.4,279.3 L407.9,278.88 L407.4,278.46 L406.9,278 L406.4,277.49 L405.9,276.98 L405.4,276.48 L404.9,275.97 L404.4,275.46 L403.9,274.95 L403.4,274.44 L402.9,273.93 L402.4,273.43 L401.9,272.91 L401.4,272.38 L400.9,271.85 L400.4,271.33 L399.9,270.8 L399.4,270.27 L398.9,269.74 L398.4,269.21 L397.9,268.68 L397.4,268.15 L396.9,267.56 L396.4,266.92 L395.9,266.28 L395.4,265.65 L394.9,265.01 L394.4,264.37 L393.9,263.73 L393.4,263.09 L392.9,262.46 L392.4,261.82 L391.9,261.05 L391.4,260.19 L390.9,259.34 L390.4,258.48 L389.9,257.62 L389.4,256.77 L388.9,255.91 L388.4,255.25 L387.9,255.36 L387.4,255.48 L386.9,255.59 L386.4,255.71 L385.9,255.82 L385.4,255.94 L384.9,256.05 L384.4,256.17 L383.9,256.28 L383.4,256.39 L382.9,256.49 L382.4,256.59 L381.9,256.7 L381.4,256.8 L380.9,256.9 L380.4,257 L379.9,257.1 L379.4,257.2 L378.9,257.31 L378.4,257.41 L377.9,257.51 L377.4,257.62 L376.9,257.72 L376.4,257.83 L375.9,257.93 L375.4,258.03 L374.9,258.14 L374.4,258.24 L373.9,258.35 L373.4,258.68 L372.9,259.16 L372.4,259.64 L371.9,260.12 L371.4,260.61 L370.9,261.09 L370.4,261.57 L369.9,262.05 L369.4,262.53 L368.9,263.01 L368.4,264.4 L367.9,266.38 L367.4,268.36 L366.9,270.34 L366.4,272.32 L365.9,274.31 L365.4,276.29 L364.9,278.1 L364.4,279.21 L363.9,280.33 L363.4,281.45 L362.9,282.57 L362.4,283.42 L361.9,284.2 L361.4,284.98 L360.9,285.76 L360.4,286.54 L359.9,287.32 L359.4,288.1 L358.9,288.88 L358.4,289.66 L357.9,290.44 L357.4,291.22 L356.9,292 L356.4,292.26 L355.9,291.74 L355.4,291.22 L354.9,290.71 L354.4,290.19 L353.9,289.67 L353.4,289.15 L352.9,288.63 L352.4,288.11 L351.9,287.6 L351.4,287.08 L350.9,286.56 L350.4,286.04 L349.9,285.52 L349.4,284.99 L348.9,284.46 L348.4,283.94 L347.9,283.41 L347.4,282.88 L346.9,282.36 L346.4,281.83 L345.9,281.3 L345.4,280.78 L344.9,280.25 L344.4,279.73 L343.9,279.29 L343.4,278.88 L342.9,278.46 L342.4,278.05 L341.9,277.64 L341.4,277.22 L340.9,276.81 L340.4,276.4 L339.9,275.98 L339.4,275.57 L338.9,275.16 L338.4,274.74 L337.9,274.15 L337.4,273.3 L336.9,272.44 L336.4,271.58 L335.9,270.73 L335.4,269.87 L334.9,269.02 L334.4,268.16 L333.9,268.39 L333.4,268.62 L332.9,268.86 L332.4,269.09 L331.9,269.32 L331.4,269.55 L330.9,269.78 L330.4,270.01 L329.9,270.25 L329.4,270.47 L328.9,270.83 L328.4,271.18 L327.9,271.54 L327.4,271.9 L326.9,272.25 L326.4,272.61 L325.9,272.96 L325.4,273.32 L324.9,273.67 L324.4,273.89 L323.9,273.54 L323.4,273.19 L322.9,272.83 L322.4,272.48 L321.9,272.13 L321.4,271.78 L320.9,271.43 L320.4,271.73 L319.9,272.46 L319.4,273.2 L318.9,273.93 L318.4,274.66 L317.9,275.39 L317.4,276.13 L316.9,276.86 L316.4,277.59 L315.9,278.33 L315.4,279.65 L314.9,281.12 L314.4,282.58 L313.9,284.05 L313.4,285.52 L312.9,286.99 L312.4,288.46 L311.9,289.92 L311.4,291.39 L310.9,292.86 L310.4,294.34 L309.9,295.83 L309.4,297.32 L308.9,298.81 L308.4,300.3 L307.9,301.78 L307.4,303.27 L306.9,304.76 L306.4,306.25 L305.9,307.74 L305.4,307.55 L304.9,307.37 L304.4,307.18 L303.9,307 L303.4,306.82 L302.9,306.63 L302.4,306.45 L301.9,306.06 L301.4,305.54 L300.9,305.02 L300.4,304.49 L299.9,303.97 L299.4,303.45 L298.9,302.93 L298.4,302.41 L297.9,301.88 L297.4,301.36 L296.9,300.76 L296.4,300.11 L295.9,299.45 L295.4,298.8 L294.9,298.14 L294.4,297.49 L293.9,296.83 L293.4,296.18 L292.9,295.52 L292.4,294.87 L291.9,294.18 L291.4,293.49 L290.9,292.8 L290.4,292.11 L289.9,291.42 L289.4,290.73 L288.9,290.04 L288.4,289.35 L287.9,288.66 L287.4,287.97 L286.9,287.27 L286.4,286.58 L285.9,285.89 L285.4,285.2 L284.9,284.51 L284.4,283.83 L283.9,283.15 L283.4,282.46 L282.9,281.78 L282.4,281.1 L281.9,280.42 L281.4,279.74 L280.9,279.05 L280.4,278.37 L279.9,277.69 L279.4,277.01 L278.9,276.33 L278.4,275.64 L277.9,274.96 L277.4,274.28 L276.9,274.01 L276.4,273.74 L275.9,273.46 L275.4,273.19 L274.9,272.92 L274.4,272.65 L273.9,272.38 L273.4,272.1 L272.9,271.83 L272.4,271.56 L271.9,271.29 L271.4,271.01 L270.9,270.74 L270.4,270.47 L269.9,270.21 L269.4,269.98 L268.9,269.76 L268.4,269.53 L267.9,269.31 L267.4,269.08 L266.9,268.86 L266.4,268.63 L265.9,268.47 L265.4,268.32 L264.9,268.18 L264.4,268.03 L263.9,267.88 L263.4,267.74 L262.9,267.59 L262.4,267.44 L261.9,267.3 L261.4,267.33 L260.9,267.95 L260.4,268.58 L259.9,269.21 L259.4,269.84 L258.9,270.46 L258.4,271.09 L257.9,271.72 L257.4,272.35 L256.9,272.97 L256.4,273.81 L255.9,274.69 L255.4,275.57 L254.9,276.46 L254.4,277.34 L253.9,278.22 L253.4,279.1 L252.9,279.99 L252.4,280.87 L251.9,281.47 L251.4,281.65 L250.9,281.82 L250.4,282 L249.9,282.18 L249.4,282.36 L248.9,282.53 L248.4,282.71 L247.9,282.89 L247.4,283.06 L246.9,282.58 L246.4,281.93 L245.9,281.27 L245.4,280.62 L244.9,279.96 L244.4,279.31 L243.9,278.65 L243.4,278 L242.9,277.34 L242.4,276.69 L241.9,276.04 L241.4,275.38 L240.9,274.86 L240.4,274.34 L239.9,273.82 L239.4,273.3 L238.9,272.77 L238.4,272.25 L237.9,271.73 L237.4,271.21 L236.9,270.69 L236.4,270.02 L235.9,269.26 L235.4,268.49 L234.9,267.72 L234.4,266.96 L233.9,266.19 L233.4,265.43 L232.9,264.66 L232.4,263.89 L231.9,263.14 L231.4,262.44 L230.9,261.74 L230.4,261.03 L229.9,260.33 L229.4,259.63 L228.9,258.93 L228.4,258.22 L227.9,257.52 L227.4,256.82 L226.9,256.12 L226.4,255.42 L225.9,254.74 L225.4,254.18 L224.9,253.62 L224.4,253.06 L223.9,252.49 L223.4,251.93 L222.9,251.37 L222.4,250.81 L221.9,250.25 L221.4,249.69 L220.9,249.13 L220.4,248.56 L219.9,248.12 L219.4,247.85 L218.9,247.58 L218.4,247.3 L217.9,247.03 L217.4,246.3 L216.9,245.46 L216.4,244.62 L215.9,243.77 L215.4,242.93 L214.9,242.08 L214.4,241.24 L213.9,240.4 L213.4,239.55 L212.9,238.71 L212.4,237.86 L211.9,237.02 L211.4,236.18 L210.9,235.34 L210.4,234.49 L209.9,233.65 L209.4,232.81 L208.9,231.97 L208.4,231.13 L207.9,230.29 L207.4,229.44 L206.9,228.6 L206.4,227.76 L205.9,226.92 L205.4,226.08 L204.9,225.24 L204.4,224.78 L203.9,224.58 L203.4,224.37 L202.9,224.17 L202.4,223.97 L201.9,223.77 L201.4,223.57 L200.9,223.36 L200.4,223.16 L199.9,222.96 L199.4,222.75 L198.9,222.54 L198.4,222.33 L197.9,222.12 L197.4,221.91 L196.9,221.7 L196.4,221.49 L195.9,221.28 L195.4,221.07 L194.9,220.88 L194.4,220.78 L193.9,220.68 L193.4,220.58 L192.9,220.48 L192.4,220.38 L191.9,220.28 L191.4,220.18 L190.9,220.08 L190.4,219.98 L189.9,219.86 L189.4,219.68 L188.9,219.5 L188.4,219.32 L187.9,219.14 L187.4,218.95 L186.9,218.77 L186.4,218.43 L185.9,218.05 L185.4,217.67 L184.9,217.28 L184.4,216.9 L183.9,216.52 L183.4,216.14 L182.9,215.76 L182.4,215.42 L181.9,215.28 L181.4,215.15 L180.9,215.01 L180.4,214.87 L179.9,214.73 L179.4,214.59 L178.9,214.46 L178.4,214.32 L177.9,214.02 L177.4,213.61 L176.9,213.2 L176.4,212.79 L175.9,212.39 L175.4,211.98 L174.9,211.57 L174.4,211.16 L173.9,210.75 L173.4,210.35 L172.9,209.94 L172.4,209.45 L171.9,208.94 L171.4,208.43 L170.9,207.92 L170.4,207.41 L169.9,206.9 L169.4,206.39 L168.9,205.88 L168.4,205.52 L167.9,205.76 L167.4,206.01 L166.9,206.26 L166.4,206.5 L165.9,206.75 L165.4,206.99 L164.9,207.24 L164.4,207.49 L163.9,207.6 L163.4,207.63 L162.9,207.65 L162.4,207.68 L161.9,207.71 L161.4,207.74 L160.9,207.76 L160.4,207.79 L159.9,207.82 L159.4,207.84 L158.9,207.87 L158.4,207.63 L157.9,207.31 L157.4,207 L156.9,206.69 L156.4,206.38 L155.9,206.06 L155.4,205.75 L154.9,205.44 L154.4,205.22 L153.9,205.38 L153.4,205.55 L152.9,205.71 L152.4,205.87 L151.9,206.03 L151.4,206.19 L150.9,207.32 L150.4,208.68 L149.9,210.04 L149.4,211.41 L148.9,212.79 L148.4,214.16 L147.9,215.53 L147.4,216.9 L146.9,218.47 L146.4,220.83 L145.9,223.19 L145.4,225.55 L144.9,227.91 L144.4,230.27 L143.9,232.63 L143.4,233.57 L142.9,234.16 L142.4,234.75 L141.9,235.35 L141.4,235.94 L140.9,236.53 L140.4,236.96 L139.9,236.75 L139.4,236.54 L138.9,236.33 L138.4,236.12 L137.9,235.91 L137.4,235.7 L136.9,235.49 L136.4,235.28 L135.9,234.84 L135.4,234.23 L134.9,233.63 L134.4,233.03 L133.9,232.42 L133.4,231.82 L132.9,231.22 L132.4,230.61 L131.9,230.01 L131.4,229.4 L130.9,228.8 L130.4,227.61 L129.9,226.41 L129.4,225.22 L128.9,224.02 L128.4,222.83 L127.9,221.63 L127.4,220.44 L126.9,219.24 L126.4,218.05 L125.9,216.86 L125.4,215.66 L124.9,214.47 L124.4,213.27 L123.9,212.08 L123.4,210.88 L122.9,209.69 L122.4,208.49 L121.9,207.3 L121.4,206.11 L120.9,204.91 L120.4,203.72 L119.9,202.65 L119.4,201.78 L118.9,200.91 L118.4,200.03 L117.9,199.16 L117.4,198.29 L116.9,197.42 L116.4,196.55 L115.9,195.67 L115.4,195.41 L114.9,195.29 L114.4,195.17 L113.9,195.05 L113.4,194.94 L112.9,194.82 L112.4,194.7 L111.9,194.59 L111.4,194.47 L110.9,194.35 L110.4,194.23 L109.9,194.13 L109.4,194.08 L108.9,194.26 L108.4,194.44 L107.9,194.63 L107.4,194.81 L106.9,194.99 L106.4,195.17 L105.9,195.35 L105.4,195.54 L104.9,195.72 L104.4,195.9 L103.9,196.08 L103.4,196.26 L102.9,196.45 L102.4,197.13 L101.9,197.81 L101.4,198.5 L100.9,199.18 L100.4,199.86 L99.9,200.54 L99.4,201.23 L98.9,201.91 L98.4,203.55 L97.9,206.61 L97.4,209.68 L96.9,212.75 L96.4,215.81 L95.9,218.88 L95.4,221.95 L94.9,225.05 L94.4,228.32 L93.9,230.46 L93.4,232.59 L92.9,234.73 L92.4,236.86 L91.9,239 L91.4,240.85 L90.9,242.64 L90.4,244.42 L89.9,246.21 L89.4,247.99 L88.9,249.78 L88.4,251.55 L87.9,253.32 L87.4,255.09 L86.9,256.86 L86.4,258.63 L85.9,260.4 L85.4,262.17 L84.9,262.98 L84.4,263.8 L83.9,264.61 L83.4,265.43 L82.9,266.24 L82.4,267.06 L81.9,267.46 L81.4,266.99 L80.9,266.52 L80.4,266.05 L79.9,265.58 L79.4,265.11 L78.9,264.64 L78.4,264.17 L77.9,263.7 L77.4,263.23 L76.9,262.76 L76.4,262.29 L75.9,261.74 L75.4,260.85 L74.9,259.97 L74.4,259.09 L73.9,258.21 L73.4,257.32 L72.9,256.44 L72.4,255.56 L71.9,254.55 L71.4,253.04 L70.9,251.54 L70.4,250.03 L69.9,248.52 L69.4,247.01 L68.9,245.51 L68.4,244 Z" fill="rgb(0,230,0)" fill-opacity="0.16"/>
<path d="M68.53,232.5 L69.06,234.03 L69.59,235.55 L70.12,237.08 L70.65,238.24 L71.18,239.31 L71.71,240.38 L72.24,241.45 L72.77,242.52 L73.29,243.32 L73.82,244.05 L74.35,244.78 L74.88,245.51 L75.41,246.24 L75.94,246.86 L76.47,247.46 L77,248.05 L77.53,248.64 L78.06,249.24 L78.59,249.56 L79.12,249.71 L79.65,249.87 L80.18,250.02 L80.71,250.17 L81.24,250.07 L81.77,249.91 L82.3,249.75 L82.83,249.59 L83.33,249.46 L83.83,249.21 L84.33,248.97 L84.83,248.73 L85.33,248.07 L85.83,247.3 L86.32,246.54 L86.82,244.94 L87.32,243.35 L87.82,241.75 L88.32,240.15 L88.81,238.56 L89.31,236.19 L89.81,233.63 L90.31,231.07 L90.81,228.51 L91.31,225.95 L91.8,222.24 L92.3,218.23 L92.8,214.23 L93.3,210.22 L93.8,204.64 L94.3,198.66 L94.79,192.68 L95.29,186.7 L95.79,180.72 L96.29,174.2 L96.79,167.56 L97.29,160.91 L97.78,154.26 L98.28,147.62 L98.78,140.97 L99.28,134.54 L99.78,128.16 L100.28,121.78 L100.77,115.4 L101.27,109.02 L101.77,103.16 L102.27,97.43 L102.77,91.7 L103.27,85.97 L103.76,81.24 L104.26,76.76 L104.76,72.28 L105.26,67.8 L105.76,65.05 L106.26,62.74 L106.75,60.42 L107.25,58.11 L107.75,55.66 L108.25,55.19 L108.75,58.16 L109.25,61.13 L109.75,64.09 L110.25,67.06 L110.75,70.03 L111.25,73 L111.75,77.89 L112.25,82.77 L112.75,87.66 L113.25,92.55 L113.75,96.52 L114.25,99.88 L114.75,103.23 L115.25,106.59 L115.75,109.95 L116.25,113.31 L116.75,116.67 L117.25,120.03 L117.75,123.39 L118.25,126.75 L118.75,130.11 L119.25,133.47 L119.75,136.83 L120.25,139.58 L120.75,142.19 L121.25,144.8 L121.75,147.4 L122.25,150.01 L122.75,152.62 L123.25,155.1 L123.75,157.12 L124.25,159.13 L124.75,161.15 L125.25,163.17 L125.75,165.18 L126.25,167.2 L126.75,168.6 L127.25,169.86 L127.75,171.12 L128.25,172.37 L128.75,173.63 L129.25,174.88 L129.75,176.14 L130.25,177.4 L130.75,178.7 L131.25,180.22 L131.75,181.73 L132.25,183.25 L132.75,184.77 L133.25,186.28 L133.75,187.8 L134.25,189.3 L134.75,190.8 L135.25,192.3 L135.75,193.8 L136.25,195.3 L136.75,196.8 L137.25,198.23 L137.75,199.57 L138.25,200.9 L138.75,202.23 L139.25,203.57 L139.75,204.9 L140.25,206.25 L140.75,205.72 L141.24,204.71 L141.74,203.7 L142.24,202.7 L142.74,201.69 L143.24,200.68 L143.73,198.24 L144.23,193.64 L144.73,189.05 L145.23,184.45 L145.73,179.8 L146.22,174.94 L146.72,170.08 L147.22,165.22 L147.72,160.35 L148.22,153.27 L148.71,145.62 L149.21,137.98 L149.71,130.34 L150.21,122.89 L150.71,115.57 L151.2,108.26 L151.7,100.94 L152.2,94.08 L152.7,89.08 L153.2,84.07 L153.69,79.06 L154.19,74.05 L154.69,69.05 L155.19,64.04 L155.69,61.17 L156.18,58.83 L156.68,56.5 L157.18,54.16 L157.68,51.83 L158.18,49.49 L158.67,47.61 L159.17,46.41 L159.67,45.2 L160.17,44 L160.67,42.8 L161.17,43.98 L161.67,45.15 L162.17,46.32 L162.67,47.49 L163.17,48.67 L163.67,49.84 L164.17,52.06 L164.67,54.98 L165.18,57.89 L165.68,60.81 L166.18,64.15 L166.68,69.16 L167.18,74.18 L167.68,79.2 L168.18,84.21 L168.68,89.23 L169.19,94.25 L169.69,98.46 L170.19,102.48 L170.69,106.5 L171.19,110.51 L171.69,114.53 L172.19,118.55 L172.69,122.03 L173.2,124.7 L173.7,127.37 L174.2,130.04 L174.7,132.72 L175.2,135.39 L175.7,138.06 L176.2,140.33 L176.7,142.61 L177.21,144.88 L177.71,147.15 L178.21,149.43 L178.71,151.7 L179.21,153.66 L179.71,155.14 L180.21,156.63 L180.71,158.11 L181.22,159.6 L181.72,161.09 L182.22,162.57 L182.72,164.06 L183.22,165.54 L183.72,166.63 L184.22,167.61 L184.72,168.6 L185.23,169.58 L185.73,170.57 L186.23,171.55 L186.73,172.54 L187.23,173.52 L187.73,174.44 L188.23,175.1 L188.73,175.76 L189.24,176.41 L189.74,177.07 L190.24,177.73 L190.74,178.39 L191.24,178.66 L191.74,178.83 L192.24,179 L192.74,179.18 L193.25,179.35 L193.75,179.52 L194.25,179.7 L194.75,179.87 L195.25,179.61 L195.74,178.22 L196.24,176.83 L196.73,175.44 L197.22,174.05 L197.72,172.65 L198.21,169.76 L198.71,166.49 L199.2,163.22 L199.7,159.95 L200.19,156.67 L200.69,153.4 L201.18,150.67 L201.68,148.06 L202.17,145.46 L202.67,142.85 L203.16,140.25 L203.66,137.65 L204.15,135.57 L204.64,133.64 L205.14,131.7 L205.63,129.76 L206.13,127.82 L206.62,126.23 L207.12,124.72 L207.61,123.21 L208.11,121.7 L208.6,120.19 L209.1,118.69 L209.59,117.18 L210.09,116.45 L210.58,115.92 L211.08,115.38 L211.57,114.85 L212.07,114.32 L212.56,113.79 L213.05,113.25 L213.55,112.72 L214.04,112.19 L214.54,111.65 L215.04,111.46 L215.55,112.33 L216.06,113.19 L216.57,114.05 L217.07,114.92 L217.58,115.78 L218.09,118.02 L218.6,120.59 L219.11,123.17 L219.61,125.74 L220.12,128.32 L220.63,130.89 L221.14,133.6 L221.64,136.35 L222.15,139.09 L222.66,141.83 L223.17,144.57 L223.68,147.32 L224.18,150.59 L224.69,154 L225.2,157.41 L225.71,160.82 L226.21,164.23 L226.72,167.64 L227.23,171.77 L227.74,176.07 L228.24,180.38 L228.75,184.69 L229.26,189 L229.77,191.85 L230.28,194.34 L230.78,196.82 L231.29,199.31 L231.8,201.79 L232.31,204.28 L232.81,206.76 L233.32,209.25 L233.83,211.73 L234.34,214 L234.85,216.13 L235.35,218.26 L235.86,220.39 L236.37,222.52 L236.88,224.64 L237.38,226.77 L237.89,228.9 L238.4,231.03 L238.91,233.15 L239.41,233.95 L239.92,234.74 L240.43,235.53 L240.94,236.32 L241.45,237.11 L241.95,237.91 L242.46,238.7 L242.97,239.49 L243.48,240.28 L243.98,240.85 L244.49,241.25 L245,241.66 L245.51,242.07 L246.02,242.48 L246.52,242.89 L247.03,243.3 L247.54,243.71 L248.05,244.12 L248.54,244.52 L249.04,244.42 L249.53,244.32 L250.03,244.21 L250.52,244.11 L251.02,244.01 L251.51,243.91 L252,243.81 L252.5,241.89 L252.99,239.98 L253.49,238.07 L253.98,236.15 L254.48,233.87 L254.97,230.08 L255.47,226.3 L255.96,222.52 L256.45,218.73 L256.95,214.3 L257.44,209.43 L257.94,204.56 L258.43,199.7 L258.93,194.83 L259.42,189.96 L259.92,185.16 L260.41,180.39 L260.9,175.63 L261.4,170.87 L261.89,166.11 L262.39,161.34 L262.88,157.24 L263.38,153.31 L263.87,149.37 L264.37,145.44 L264.86,141.5 L265.35,137.57 L265.85,134.75 L266.34,132.22 L266.84,129.69 L267.33,127.15 L267.83,124.62 L268.32,123.55 L268.82,122.84 L269.31,122.14 L269.8,121.43 L270.3,120.73 L270.79,120.03 L271.3,120.07 L271.81,122.18 L272.32,124.28 L272.83,126.39 L273.34,128.49 L273.85,131.11 L274.36,133.85 L274.87,136.59 L275.38,139.34 L275.89,142.08 L276.4,145.2 L276.91,148.43 L277.42,151.65 L277.93,154.87 L278.44,158.09 L278.95,161.31 L279.46,164.53 L279.97,167.75 L280.48,170.99 L280.99,174.22 L281.5,177.46 L282.01,180.69 L282.52,183.93 L283.03,187.16 L283.54,190.39 L284.05,193.28 L284.56,196.16 L285.07,199.04 L285.58,201.92 L286.09,204.81 L286.6,207.69 L287.11,210.57 L287.62,213.07 L288.13,215.3 L288.64,217.54 L289.15,219.77 L289.66,222 L290.17,224.24 L290.68,226.47 L291.19,228.63 L291.7,230.49 L292.21,232.36 L292.72,234.22 L293.23,236.08 L293.74,237.95 L294.25,239.81 L294.76,241.67 L295.27,243.53 L295.78,245.4 L296.29,247.17 L296.8,248.56 L297.31,249.95 L297.82,251.35 L298.33,252.74 L298.84,254.13 L299.35,255.52 L299.86,256.92 L300.37,258.31 L300.88,259.7 L301.39,261.08 L301.9,262.45 L302.41,263.81 L302.92,265.17 L303.43,266.54 L303.92,266.87 L304.42,265.47 L304.91,264.07 L305.4,262.67 L305.9,261.27 L306.39,258.4 L306.88,253.34 L307.38,248.27 L307.87,243.2 L308.36,238.14 L308.86,233.18 L309.35,228.3 L309.84,223.42 L310.34,218.54 L310.83,213.66 L311.32,208.19 L311.82,202.33 L312.31,196.47 L312.8,190.61 L313.3,184.75 L313.79,179.19 L314.28,173.83 L314.78,168.47 L315.27,163.11 L315.76,157.75 L316.26,152.64 L316.75,147.71 L317.24,142.78 L317.74,137.84 L318.23,132.91 L318.72,127.97 L319.21,123.04 L319.71,118.51 L320.2,115.57 L320.69,112.64 L321.19,109.7 L321.68,106.77 L322.17,103.84 L322.67,100.9 L323.16,97.97 L323.65,96.26 L324.15,94.86 L324.64,93.46 L325.13,92.06 L325.63,90.59 L326.13,91.36 L326.63,92.69 L327.13,94.02 L327.64,95.35 L328.14,96.68 L328.64,98.01 L329.14,99.34 L329.64,101.78 L330.14,105.9 L330.64,110.02 L331.14,114.14 L331.64,118.25 L332.14,122.86 L332.64,127.79 L333.14,132.72 L333.64,137.66 L334.14,142.59 L334.64,147.53 L335.15,152.49 L335.65,157.44 L336.15,162.39 L336.65,167.34 L337.15,171.32 L337.65,174.65 L338.15,177.98 L338.65,181.31 L339.15,184.64 L339.65,187.97 L340.15,191.3 L340.65,194.36 L341.15,196.34 L341.65,198.31 L342.15,200.28 L342.65,202.25 L343.16,204.22 L343.66,206.2 L344.16,208.17 L344.66,210.14 L345.16,212.11 L345.66,214.09 L346.16,216.11 L346.66,218.12 L347.16,220.13 L347.66,222.15 L348.16,224.16 L348.66,226.17 L349.16,228.18 L349.66,230.2 L350.16,232.21 L350.67,233.91 L351.17,235.14 L351.67,236.38 L352.17,237.61 L352.67,238.84 L353.17,240.07 L353.67,241.31 L354.17,242.54 L354.67,243.77 L355.17,245 L355.67,246.15 L356.17,247.16 L356.67,248.17 L357.17,249.19 L357.67,250.2 L358.17,250 L358.68,248.98 L359.18,247.96 L359.68,246.93 L360.18,245.91 L360.68,244.89 L361.19,243.86 L361.69,242.3 L362.19,238.6 L362.69,234.89 L363.19,231.19 L363.7,227.48 L364.2,223.78 L364.7,220.07 L365.2,216.37 L365.7,212.66 L366.21,208.96 L366.71,203.38 L367.21,197.33 L367.71,191.28 L368.22,185.23 L368.72,179.18 L369.22,173.12 L369.72,167.07 L370.22,161.16 L370.73,155.44 L371.23,149.73 L371.73,144.02 L372.23,138.31 L372.73,132.59 L373.24,126.88 L373.74,121.17 L374.24,118.14 L374.74,115.12 L375.24,112.1 L375.75,109.07 L376.25,106.05 L376.75,103.02 L377.25,100 L377.75,98.32 L378.26,97.54 L378.76,96.75 L379.26,95.97 L379.76,95.25 L380.25,95.75 L380.75,97.05 L381.24,98.35 L381.74,99.65 L382.23,100.95 L382.73,103.71 L383.22,107.46 L383.72,111.21 L384.21,114.96 L384.71,118.71 L385.2,122.45 L385.7,126.2 L386.19,129.95 L386.69,133.68 L387.18,137.42 L387.68,141.15 L388.17,144.88 L388.67,148.62 L389.16,152.35 L389.66,156.09 L390.15,159.29 L390.65,162.37 L391.14,165.44 L391.64,168.51 L392.13,171.58 L392.63,174.65 L393.12,177.73 L393.62,180.66 L394.11,183.4 L394.61,186.13 L395.1,188.87 L395.6,191.6 L396.09,194.34 L396.59,197.07 L397.08,199.81 L397.58,201.81 L398.07,203.82 L398.57,205.82 L399.06,207.83 L399.56,209.84 L400.05,211.84 L400.55,213.85 L401.04,215.75 L401.54,217.48 L402.03,219.22 L402.53,220.95 L403.02,222.68 L403.52,224.42 L404.01,226.15 L404.51,227.89 L405,229.62 L405.5,231.36 L405.99,233.09 L406.49,234.83 L406.98,236.56 L407.48,238.3 L407.97,240.03 L408.47,241.36 L408.96,242.42 L409.46,243.48 L409.95,244.54 L410.45,245.59 L410.94,246.65 L411.44,247.71 L411.93,248.64 L412.43,249.05 L412.92,249.46 L413.43,249.68 L413.95,248.82 L414.47,247.7 L414.98,246.59 L415.5,245.47 L416.01,242.33 L416.53,238.68 L417.05,235.03 L417.56,231.38 L418.08,227.73 L418.59,221.69 L419.11,215.06 L419.63,208.43 L420.14,201.8 L420.66,195.17 L421.18,187.92 L421.69,180.53 L422.21,173.13 L422.72,165.73 L423.24,158.33 L423.76,153.45 L424.27,148.57 L424.79,143.69 L425.31,138.81 L425.82,133.93 L426.34,129.05 L426.85,124.17 L427.37,120.74 L427.89,118.27 L428.4,115.81 L428.92,113.34 L429.43,110.87 L429.95,108.41 L430.47,105.94 L430.98,103.47 L431.5,102.44 L432.02,101.41 L432.53,100.39 L433.05,99.36 L433.56,98.33 L434.08,97.3 L434.6,96.27 L435.1,96.63 L435.6,97.84 L436.09,99.04 L436.59,100.25 L437.09,101.45 L437.59,102.66 L438.08,103.87 L438.58,105.5 L439.08,108.87 L439.57,112.24 L440.07,115.61 L440.57,118.98 L441.07,122.34 L441.56,125.71 L442.06,129.08 L442.56,132.99 L443.06,137.03 L443.55,141.08 L444.05,145.12 L444.55,149.16 L445.05,153.21 L445.54,157.25 L446.04,161.03 L446.54,164.41 L447.04,167.79 L447.53,171.18 L448.03,174.56 L448.53,177.94 L449.03,181.32 L449.52,184.7 L450.02,187.41 L450.52,190.11 L451.02,192.82 L451.51,195.53 L452.01,198.23 L452.51,200.94 L453.01,203.64 L453.5,205.78 L454,207.54 L454.5,209.3 L454.99,211.06 L455.49,212.82 L455.99,214.58 L456.49,216.35 L456.98,218.11 L457.48,219.87 L457.98,221.63 L458.48,223.11 L458.97,224.4 L459.47,225.7 L459.97,226.99 L460.47,228.29 L460.96,229.59 L461.46,230.88 L461.96,232.18 L462.46,233.47 L462.95,234.77 L463.45,235.76 L463.95,236.68 L464.45,237.59 L464.94,238.51 L465.44,239.42 L465.94,240.34 L466.44,241.26 L466.93,241.56 L467.43,241.72 L467.93,240.6 L468.44,237.65 L468.94,234.7 L469.45,231.75 L469.95,228.8 L470.46,225.85 L470.96,222.91 L471.47,219.96 L471.97,215.22 L472.48,210.49 L472.98,205.76 L473.49,201.03 L473.99,196.29 L474.5,191.56 L475,186.83 L475.51,181.89 L476.01,176.8 L476.52,171.72 L477.02,166.63 L477.53,161.55 L478.03,156.47 L478.54,151.38 L479.04,146.37 L479.54,141.64 L480.05,136.9 L480.55,132.17 L481.06,127.44 L481.56,122.71 L482.07,117.97 L482.57,113.24 L483.08,110.17 L483.58,107.5 L484.09,104.84 L484.59,102.18 L485.1,99.52 L485.6,96.86 L486.11,94.19 L486.61,91.82 L487.12,90.58 L487.62,89.35 L488.13,88.12 L488.63,86.89 L489.14,85.65 L489.64,84.42 L490.14,83.24 L490.64,84.21 L491.14,85.72 L491.64,87.24 L492.14,88.75 L492.64,90.26 L493.14,91.78 L493.64,93.29 L494.14,95.67 L494.64,99.35 L495.14,103.02 L495.64,106.7 L496.14,110.37 L496.64,114.05 L497.14,117.72 L497.64,121.4 L498.14,125.41 L498.64,129.43 L499.14,133.44 L499.64,137.45 L500.14,141.47 L500.64,145.48 L501.14,149.49 L501.64,153.1 L502.14,156.44 L502.64,159.78 L503.14,163.12 L503.64,166.45 L504.14,169.79 L504.64,173.13 L505.14,176.25 L505.64,178.48 L506.14,180.71 L506.64,182.94 L507.14,185.17 L507.64,187.4 L508.14,189.63 L508.64,191.86 L509.14,194.09 L509.64,196.32 L510.14,198.5 L510.64,200.52 L511.14,202.54 L511.64,204.57 L512.14,206.59 L512.64,208.61 L513.14,210.63 L513.64,212.65 L514.14,214.67 L514.64,216.69 L515.14,218.58 L515.64,220.28 L516.14,221.98 L516.64,223.69 L517.14,225.39 L517.64,227.09 L518.14,228.79 L518.64,230.49 L519.14,232.19 L519.64,233.9 L520.14,235.6 L520.64,237.3 L521.14,239 L521.64,237.82 L522.14,236.68 L522.64,235.54 L523.13,234.4 L523.63,233.26 L524.13,232.12 L524.62,230.98 L525.12,228.34 L525.62,224.7 L526.12,221.06 L526.61,217.42 L527.11,213.78 L527.61,210.14 L528.1,206.5 L528.6,202.59 L529.1,197.6 L529.59,192.6 L530.09,187.61 L530.59,182.62 L531.09,177.63 L531.58,172.64 L532.08,167.65 L532.58,163.04 L533.07,158.52 L533.57,154 L534.07,149.49 L534.56,144.97 L535.06,140.45 L535.56,135.93 L536.06,131.66 L536.55,128.34 L537.05,125.03 L537.55,121.71 L538.04,118.4 L538.54,115.08 L539.04,111.76 L539.53,108.45 L540.03,106.89 L540.53,105.77 L541.02,104.65 L541.52,103.53 L542.02,102.41 L542.52,101.29 L543.02,101.01 L543.53,102.12 L544.03,103.22 L544.54,104.33 L545.04,105.43 L545.55,106.54 L546.06,107.64 L546.56,108.75 L547.07,109.85 L547.58,113.94 L548.08,118.03 L548.59,122.12 L549.1,126.21 L549.6,130.3 L550.11,134.39 L550.61,138.48 L551.12,142.57 L551.63,146.66 L552.13,149.83 L552.64,152.76 L553.14,155.7 L553.65,158.64 L554.16,161.58 L554.66,164.51 L555.17,167.45 L555.68,170.39 L556.18,173.33 L556.69,176.26 L557.19,179.18 L557.7,182.11 L558.21,185.04 L558.71,187.96 L559.22,190.89 L559.73,193.81 L560.23,195.74 L560.74,197.67 L561.25,199.59 L561.75,201.52 L562.26,203.45 L562.76,205.37 L563.27,207.3 L563.78,209.23 L564.28,211.15 L564.79,212.59 L565.29,214.03 L565.8,215.47 L566.31,216.9 L566.81,218.34 L567.32,219.78 L567.83,221.22 L568.33,222.65 L568.84,224.09 L569.35,225 L569.85,225.9 L570.36,226.81 L570.86,227.71 L571.37,228.61 L571.88,229.52 L572.38,230.42 L572.89,231.33 L573.39,232.23 L573.9,232.76 L574.41,233.18 L574.91,233.61 L575.42,234.04 L575.93,234.46 L576.43,234.89 L576.94,235.31 L577.43,233.88 L577.92,232.48 L578.41,231.09 L578.9,229.7 L579.38,228.3 L579.87,226.91 L580.36,224.8 L580.85,221.61 L581.34,218.42 L581.83,215.24 L582.31,212.05 L582.8,208.86 L583.29,205.67 L583.78,201.68 L584.27,197.16 L584.76,192.63 L585.25,188.11 L585.73,183.58 L586.22,179.06 L586.71,174.53 L587.2,170.28 L587.69,166.09 L588.18,161.9 L588.66,157.72 L589.15,153.53 L589.64,149.34 L590.13,145.15 L590.62,142.31 L591.11,139.46 L591.59,136.61 L592.08,133.76 L592.57,130.91 L593.06,128.06 L593.55,125.54 L594.04,124.36 L594.53,123.17 L595.01,121.98 L595.5,120.8 L595.99,119.61 L596.48,118.42 L596.97,117.66 L597.46,117.53 L597.94,117.41 L598.43,117.29 L598.93,117.03 L599.44,117.98 L599.94,119.24 L600.44,120.5 L600.94,121.76 L601.45,123.97 L601.95,127.58 L602.45,131.19 L602.95,134.81 L603.46,138.42 L603.96,142.03 L604.46,145.65 L604.97,148.73 L605.47,151.47 L605.97,154.2 L606.47,156.93 L606.98,159.67 L607.48,162.4 L607.98,165.13 L608.49,167.87 L608.99,170.6 L609.49,173.67 L609.99,176.96 L610.5,180.25 L611,183.54 L611.5,186.83 L612.01,190.12 L612.51,193.41 L613.01,195.44 L613.51,197.17 L614.02,198.89 L614.52,200.61 L615.02,202.33 L615.53,204.06 L616.03,205.78 L616.53,207.5 L617.03,209.22 L617.54,210.72 L618.04,212.17 L618.54,213.61 L619.05,215.06 L619.55,216.5 L620.05,217.95 L620.55,219.39 L621.06,220.84 L621.56,222.28 L622.06,223.56 L622.57,224.74 L623.07,225.91 L623.57,227.08 L624.07,228.25 L624.58,229.42 L625.08,230.6 L625.58,231.77 L626.09,232.94 L626.59,234.11 L627.09,235.28 L627.59,236.3 L628.1,237.07 L628.6,237.85 L626.4,273.83 L625.9,273 L625.4,272.16 L624.9,271.09 L624.4,269.86 L623.9,268.63 L623.4,267.4 L622.9,266.16 L622.4,264.93 L621.9,263.7 L621.4,262.47 L620.9,261.24 L620.4,260 L619.9,258.77 L619.4,257.43 L618.9,255.93 L618.4,254.42 L617.9,252.92 L617.4,251.41 L616.9,249.91 L616.4,248.4 L615.9,246.9 L615.4,245.39 L614.9,243.83 L614.4,242.05 L613.9,240.27 L613.4,238.48 L612.9,236.7 L612.4,234.92 L611.9,233.14 L611.4,231.35 L610.9,229.57 L610.4,227.48 L609.9,224.13 L609.4,220.78 L608.9,217.43 L608.4,214.08 L607.9,210.73 L607.4,207.38 L606.9,204.25 L606.4,201.45 L605.9,198.66 L605.4,195.87 L604.9,193.07 L604.4,190.28 L603.9,187.49 L603.4,184.69 L602.9,181.9 L602.4,178.76 L601.9,175.08 L601.4,171.41 L600.9,167.73 L600.4,164.06 L599.9,160.39 L599.4,156.71 L598.9,154.45 L598.4,153.13 L597.9,151.81 L597.4,150.48 L596.9,149.47 L596.4,149.73 L595.9,150.1 L595.4,150.47 L594.9,150.84 L594.4,151.85 L593.9,153.28 L593.4,154.72 L592.9,156.15 L592.4,157.58 L591.9,159.02 L591.4,160.45 L590.9,163.21 L590.4,166.3 L589.9,169.4 L589.4,172.49 L588.9,175.59 L588.4,178.68 L587.9,181.78 L587.4,186.21 L586.9,190.64 L586.4,195.07 L585.9,199.51 L585.4,203.94 L584.9,208.37 L584.4,212.87 L583.9,217.64 L583.4,222.41 L582.9,227.18 L582.4,231.96 L581.9,236.73 L581.4,241.5 L580.9,245.73 L580.4,249.17 L579.9,252.6 L579.4,256.03 L578.9,259.46 L578.4,262.9 L577.9,266.33 L577.4,268.69 L576.9,270.32 L576.4,271.96 L575.9,273.6 L575.4,275.24 L574.9,276.88 L574.4,278.49 L573.9,277.93 L573.4,277.37 L572.9,276.81 L572.4,276.25 L571.9,275.69 L571.4,275.14 L570.9,274.48 L570.4,273.44 L569.9,272.41 L569.4,271.37 L568.9,270.33 L568.4,269.3 L567.9,268.26 L567.4,267.22 L566.9,266.18 L566.4,265.15 L565.9,263.58 L565.4,262.01 L564.9,260.44 L564.4,258.87 L563.9,257.3 L563.4,255.73 L562.9,254.16 L562.4,252.59 L561.9,251.02 L561.4,248.96 L560.9,246.9 L560.4,244.84 L559.9,242.78 L559.4,240.72 L558.9,238.66 L558.4,236.61 L557.9,234.55 L557.4,232.49 L556.9,229.43 L556.4,226.37 L555.9,223.31 L555.4,220.25 L554.9,217.19 L554.4,214.14 L553.9,211.07 L553.4,208 L552.9,204.93 L552.4,201.86 L551.9,198.79 L551.4,195.72 L550.9,192.65 L550.4,189.58 L549.9,186.51 L549.4,183.21 L548.9,178.99 L548.4,174.77 L547.9,170.55 L547.4,166.33 L546.9,162.11 L546.4,157.88 L545.9,153.66 L545.4,149.44 L544.9,145.22 L544.4,143.98 L543.9,142.74 L543.4,141.51 L542.9,140.27 L542.4,139.03 L541.9,137.79 L541.4,136.56 L540.9,135.32 L540.4,135.5 L539.9,136.68 L539.4,137.87 L538.9,139.05 L538.4,140.24 L537.9,141.42 L537.4,143.05 L536.9,146.43 L536.4,149.81 L535.9,153.19 L535.4,156.57 L534.9,159.95 L534.4,163.33 L533.9,166.71 L533.4,171.05 L532.9,175.63 L532.4,180.21 L531.9,184.79 L531.4,189.37 L530.9,193.95 L530.4,198.54 L529.9,203.21 L529.4,208.27 L528.9,213.32 L528.4,218.38 L527.9,223.43 L527.4,228.49 L526.9,233.54 L526.4,238.6 L525.9,242.57 L525.4,246.28 L524.9,249.98 L524.4,253.69 L523.9,257.39 L523.4,261.1 L522.9,264.8 L522.4,267.5 L521.9,268.71 L521.4,269.91 L520.9,271.12 L520.4,272.32 L519.9,273.53 L519.4,274.72 L518.9,275.9 L518.4,274.2 L517.9,272.5 L517.4,270.8 L516.9,269.09 L516.4,267.39 L515.9,265.69 L515.4,263.99 L514.9,262.29 L514.4,260.59 L513.9,258.88 L513.4,257.18 L512.9,255.48 L512.4,253.59 L511.9,251.57 L511.4,249.55 L510.9,247.53 L510.4,245.51 L509.9,243.49 L509.4,241.47 L508.9,239.44 L508.4,237.42 L507.9,235.4 L507.4,233.22 L506.9,230.99 L506.4,228.76 L505.9,226.53 L505.4,224.3 L504.9,222.07 L504.4,219.84 L503.9,217.61 L503.4,215.38 L502.9,213.15 L502.4,210.03 L501.9,206.69 L501.4,203.35 L500.9,200.02 L500.4,196.68 L499.9,193.34 L499.4,190 L498.9,186.39 L498.4,182.38 L497.9,178.37 L497.4,174.35 L496.9,170.34 L496.4,166.33 L495.9,162.31 L495.4,158.3 L494.9,154.62 L494.4,150.95 L493.9,147.27 L493.4,143.6 L492.9,139.92 L492.4,136.25 L491.9,132.57 L491.4,130.19 L490.9,128.68 L490.4,127.16 L489.9,125.65 L489.4,124.14 L488.9,122.62 L488.4,121.11 L487.9,120.14 L487.4,121.3 L486.9,122.43 L486.4,123.56 L485.9,124.69 L485.4,125.82 L484.9,126.95 L484.4,128.08 L483.9,130.36 L483.4,132.92 L482.9,135.48 L482.4,138.04 L481.9,140.6 L481.4,143.16 L480.9,145.72 L480.4,148.69 L479.9,153.32 L479.4,157.95 L478.9,162.58 L478.4,167.21 L477.9,171.84 L477.4,176.47 L476.9,181.1 L476.4,186.01 L475.9,190.99 L475.4,195.98 L474.9,200.96 L474.4,205.94 L473.9,210.92 L473.4,215.9 L472.9,220.74 L472.4,225.37 L471.9,230 L471.4,234.63 L470.9,239.26 L470.4,243.89 L469.9,248.52 L469.4,253.15 L468.9,256 L468.4,258.85 L467.9,261.69 L467.4,264.54 L466.9,267.39 L466.4,270.23 L465.9,273.08 L465.4,274.13 L464.9,274.03 L464.4,273.78 L463.9,272.91 L463.4,272.05 L462.9,271.19 L462.4,270.33 L461.9,269.47 L461.4,268.61 L460.9,267.67 L460.4,266.43 L459.9,265.19 L459.4,263.95 L458.9,262.71 L458.4,261.46 L457.9,260.22 L457.4,258.98 L456.9,257.74 L456.4,256.5 L455.9,255.07 L455.4,253.37 L454.9,251.66 L454.4,249.96 L453.9,248.25 L453.4,246.54 L452.9,244.84 L452.4,243.13 L451.9,241.43 L451.4,239.72 L450.9,237.64 L450.4,234.99 L449.9,232.33 L449.4,229.68 L448.9,227.03 L448.4,224.38 L447.9,221.73 L447.4,219.08 L446.9,215.75 L446.4,212.42 L445.9,209.1 L445.4,205.77 L444.9,202.44 L444.4,199.11 L443.9,195.79 L443.4,192.06 L442.9,188.07 L442.4,184.08 L441.9,180.1 L441.4,176.11 L440.9,172.12 L440.4,168.13 L439.9,164.27 L439.4,160.96 L438.9,157.65 L438.4,154.33 L437.9,151.02 L437.4,147.71 L436.9,144.39 L436.4,141.08 L435.9,139.49 L435.4,138.34 L434.9,137.19 L434.4,136.04 L433.9,134.89 L433.4,133.74 L432.9,132.59 L432.4,132.2 L431.9,132.89 L431.4,133.58 L430.9,134.26 L430.4,134.95 L429.9,135.63 L429.4,136.32 L428.9,137 L428.4,139.13 L427.9,141.25 L427.4,143.37 L426.9,145.5 L426.4,147.62 L425.9,149.75 L425.4,151.87 L424.9,154.96 L424.4,159.5 L423.9,164.03 L423.4,168.57 L422.9,173.11 L422.4,177.64 L421.9,182.18 L421.4,186.72 L420.9,193.77 L420.4,200.83 L419.9,207.89 L419.4,214.94 L418.9,221.84 L418.4,228.13 L417.9,234.42 L417.4,240.71 L416.9,246.99 L416.4,252.69 L415.9,255.99 L415.4,259.3 L414.9,262.61 L414.4,265.92 L413.9,268.72 L413.4,269.49 L412.9,270.26 L412.4,271.03 L411.9,271.55 L411.4,271.09 L410.9,270.78 L410.4,270.47 L409.9,269.65 L409.4,268.7 L408.9,267.74 L408.4,266.79 L407.9,265.84 L407.4,264.89 L406.9,263.93 L406.4,262.71 L405.9,261.08 L405.4,259.45 L404.9,257.82 L404.4,256.2 L403.9,254.57 L403.4,252.94 L402.9,251.31 L402.4,249.68 L401.9,248.05 L401.4,246.42 L400.9,244.79 L400.4,243.17 L399.9,241.54 L399.4,239.91 L398.9,238.12 L398.4,236.22 L397.9,234.32 L397.4,232.42 L396.9,230.52 L396.4,228.62 L395.9,226.72 L395.4,224.82 L394.9,222.19 L394.4,219.56 L393.9,216.93 L393.4,214.3 L392.9,211.67 L392.4,209.04 L391.9,206.41 L391.4,203.58 L390.9,200.62 L390.4,197.65 L389.9,194.68 L389.4,191.72 L388.9,188.75 L388.4,185.78 L387.9,182.69 L387.4,179.06 L386.9,175.43 L386.4,171.8 L385.9,168.17 L385.4,164.54 L384.9,160.91 L384.4,157.29 L383.9,153.65 L383.4,150 L382.9,146.36 L382.4,142.72 L381.9,139.08 L381.4,135.44 L380.9,131.79 L380.4,129.13 L379.9,127.94 L379.4,126.75 L378.9,125.55 L378.4,124.36 L377.9,123.97 L377.4,124.76 L376.9,125.5 L376.4,126.24 L375.9,126.98 L375.4,128.62 L374.9,131.6 L374.4,134.58 L373.9,137.56 L373.4,140.54 L372.9,143.52 L372.4,146.51 L371.9,149.49 L371.4,155.16 L370.9,160.83 L370.4,166.5 L369.9,172.17 L369.4,177.84 L368.9,183.51 L368.4,189.18 L367.9,195.05 L367.4,201.06 L366.9,207.07 L366.4,213.07 L365.9,219.08 L365.4,225.09 L364.9,231.1 L364.4,236.64 L363.9,240.3 L363.4,243.96 L362.9,247.62 L362.4,251.28 L361.9,254.95 L361.4,258.61 L360.9,262.27 L360.4,265.93 L359.9,269.59 L359.4,271.11 L358.9,272.09 L358.4,273.07 L357.9,274.05 L357.4,275.03 L356.9,276.02 L356.4,277 L355.9,277.18 L355.4,276.16 L354.9,275.13 L354.4,274.1 L353.9,273.08 L353.4,271.92 L352.9,270.67 L352.4,269.43 L351.9,268.18 L351.4,266.93 L350.9,265.69 L350.4,264.44 L349.9,263.2 L349.4,261.95 L348.9,260.7 L348.4,258.99 L347.9,256.96 L347.4,254.94 L346.9,252.91 L346.4,250.88 L345.9,248.86 L345.4,246.83 L344.9,244.8 L344.4,242.78 L343.9,240.75 L343.4,238.76 L342.9,236.77 L342.4,234.79 L341.9,232.8 L341.4,230.81 L340.9,228.83 L340.4,226.84 L339.9,224.85 L339.4,222.87 L338.9,220.88 L338.4,217.81 L337.9,214.47 L337.4,211.12 L336.9,207.78 L336.4,204.43 L335.9,201.09 L335.4,197.75 L334.9,193.75 L334.4,188.79 L333.9,183.82 L333.4,178.86 L332.9,173.89 L332.4,168.93 L331.9,163.99 L331.4,159.04 L330.9,154.09 L330.4,149.15 L329.9,144.53 L329.4,140.4 L328.9,136.27 L328.4,132.13 L327.9,128 L327.4,125.54 L326.9,124.2 L326.4,122.86 L325.9,121.51 L325.4,120.17 L324.9,118.83 L324.4,117.48 L323.9,116.7 L323.4,118.19 L322.9,119.73 L322.4,121.28 L321.9,122.82 L321.4,124.67 L320.9,127.75 L320.4,130.82 L319.9,133.9 L319.4,136.98 L318.9,140.06 L318.4,143.13 L317.9,146.21 L317.4,150.89 L316.9,155.96 L316.4,161.04 L315.9,166.12 L315.4,171.2 L314.9,176.27 L314.4,181.35 L313.9,186.6 L313.4,192.1 L312.9,197.61 L312.4,203.11 L311.9,208.61 L311.4,214.32 L310.9,220.32 L310.4,226.32 L309.9,232.33 L309.4,238.33 L308.9,243.94 L308.4,248.97 L307.9,253.99 L307.4,259.01 L306.9,264.04 L306.4,269.13 L305.9,274.34 L305.4,279.55 L304.9,284.76 L304.4,289.97 L303.9,292.98 L303.4,294.53 L302.9,296.07 L302.4,297.61 L301.9,299.16 L301.4,298.89 L300.9,297.32 L300.4,295.75 L299.9,294.17 L299.4,292.6 L298.9,291.01 L298.4,289.4 L297.9,287.8 L297.4,286.19 L296.9,284.59 L296.4,282.99 L295.9,281.38 L295.4,279.78 L294.9,278.17 L294.4,276.57 L293.9,274.59 L293.4,272.52 L292.9,270.44 L292.4,268.37 L291.9,266.3 L291.4,264.22 L290.9,262.15 L290.4,260.07 L289.9,258 L289.4,255.93 L288.9,253.56 L288.4,251.11 L287.9,248.67 L287.4,246.22 L286.9,243.78 L286.4,241.33 L285.9,238.89 L285.4,236.18 L284.9,233.09 L284.4,229.99 L283.9,226.9 L283.4,223.81 L282.9,220.71 L282.4,217.62 L281.9,214.53 L281.4,211.08 L280.9,207.63 L280.4,204.19 L279.9,200.74 L279.4,197.3 L278.9,193.85 L278.4,190.41 L277.9,186.97 L277.4,183.54 L276.9,180.11 L276.4,176.68 L275.9,173.25 L275.4,169.81 L274.9,166.38 L274.4,163.05 L273.9,160.09 L273.4,157.14 L272.9,154.19 L272.4,151.23 L271.9,148.41 L271.4,146.09 L270.9,143.77 L270.4,141.46 L269.9,139.14 L269.4,138.95 L268.9,139.77 L268.4,140.59 L267.9,141.41 L267.4,142.23 L266.9,143.06 L266.4,144.24 L265.9,146.9 L265.4,149.55 L264.9,152.2 L264.4,154.85 L263.9,157.78 L263.4,161.84 L262.9,165.89 L262.4,169.94 L261.9,173.99 L261.4,178.05 L260.9,182.26 L260.4,187.14 L259.9,192.02 L259.4,196.9 L258.9,201.78 L258.4,206.66 L257.9,211.58 L257.4,216.57 L256.9,221.55 L256.4,226.54 L255.9,231.53 L255.4,236.51 L254.9,241.06 L254.4,244.96 L253.9,248.86 L253.4,252.76 L252.9,256.66 L252.4,259.07 L251.9,261.1 L251.4,263.13 L250.9,265.16 L250.4,267.19 L249.9,267.41 L249.4,267.63 L248.9,267.85 L248.4,268.07 L247.9,268.29 L247.4,268.51 L246.9,268.72 L246.4,268.39 L245.9,267.81 L245.4,267.24 L244.9,266.67 L244.4,266.09 L243.9,265.52 L243.4,264.95 L242.9,264.38 L242.4,263.8 L241.9,263.08 L241.4,262.12 L240.9,261.17 L240.4,260.21 L239.9,259.25 L239.4,258.3 L238.9,257.34 L238.4,256.39 L237.9,255.43 L237.4,254.48 L236.9,252.18 L236.4,249.89 L235.9,247.6 L235.4,245.31 L234.9,243.02 L234.4,240.73 L233.9,238.44 L233.4,236.14 L232.9,233.85 L232.4,231.42 L231.9,228.77 L231.4,226.12 L230.9,223.47 L230.4,220.82 L229.9,218.17 L229.4,215.53 L228.9,212.88 L228.4,210.23 L227.9,207.21 L227.4,202.74 L226.9,198.27 L226.4,193.8 L225.9,189.32 L225.4,185.03 L224.9,181.46 L224.4,177.89 L223.9,174.31 L223.4,170.74 L222.9,167.17 L222.4,163.73 L221.9,160.82 L221.4,157.92 L220.9,155.01 L220.4,152.1 L219.9,149.2 L219.4,146.32 L218.9,143.59 L218.4,140.85 L217.9,138.11 L217.4,135.37 L216.9,132.63 L216.4,130.23 L215.9,129.2 L215.4,128.18 L214.9,127.15 L214.4,126.12 L213.9,125.09 L213.4,125.18 L212.9,125.82 L212.4,126.47 L211.9,127.11 L211.4,127.76 L210.9,128.4 L210.4,129.05 L209.9,129.69 L209.4,130.34 L208.9,130.98 L208.4,131.82 L207.9,133.45 L207.4,135.07 L206.9,136.69 L206.4,138.31 L205.9,139.93 L205.4,141.55 L204.9,143.26 L204.4,145.31 L203.9,147.36 L203.4,149.41 L202.9,151.46 L202.4,153.64 L201.9,156.36 L201.4,159.08 L200.9,161.79 L200.4,164.51 L199.9,167.23 L199.4,170.08 L198.9,173.46 L198.4,176.84 L197.9,180.23 L197.4,183.61 L196.9,186.99 L196.4,190 L195.9,191.51 L195.4,193.01 L194.9,194.51 L194.4,196.02 L193.9,197.52 L193.4,197.87 L192.9,197.67 L192.4,197.47 L191.9,197.27 L191.4,197.07 L190.9,196.87 L190.4,196.67 L189.9,196.47 L189.4,196.17 L188.9,195.49 L188.4,194.8 L187.9,194.12 L187.4,193.43 L186.9,192.75 L186.4,192.07 L185.9,191.12 L185.4,190.11 L184.9,189.1 L184.4,188.09 L183.9,187.07 L183.4,186.06 L182.9,185.05 L182.4,184.04 L181.9,182.93 L181.4,181.42 L180.9,179.9 L180.4,178.39 L179.9,176.88 L179.4,175.37 L178.9,173.86 L178.4,172.34 L177.9,170.83 L177.4,168.85 L176.9,166.55 L176.4,164.25 L175.9,161.95 L175.4,159.65 L174.9,157.35 L174.4,155.05 L173.9,152.35 L173.4,149.65 L172.9,146.95 L172.4,144.25 L171.9,141.55 L171.4,138.86 L170.9,135.35 L170.4,131.31 L169.9,127.26 L169.4,123.22 L168.9,119.18 L168.4,115.13 L167.9,110.89 L167.4,105.85 L166.9,100.81 L166.4,95.76 L165.9,90.72 L165.4,85.68 L164.9,80.63 L164.4,77.27 L163.9,74.33 L163.4,71.38 L162.9,68.44 L162.4,66.19 L161.9,64.99 L161.4,63.79 L160.9,62.6 L160.4,61.4 L159.9,60.2 L159.4,59 L158.9,60.25 L158.4,61.5 L157.9,62.74 L157.4,63.99 L156.9,65.91 L156.4,68.29 L155.9,70.67 L155.4,73.05 L154.9,75.43 L154.4,77.81 L153.9,80.72 L153.4,85.77 L152.9,90.82 L152.4,95.87 L151.9,100.92 L151.4,105.97 L150.9,111.02 L150.4,117.92 L149.9,125.28 L149.4,132.64 L148.9,140 L148.4,147.49 L147.9,155.18 L147.4,162.86 L146.9,170.55 L146.4,177.68 L145.9,182.58 L145.4,187.49 L144.9,192.39 L144.4,197.3 L143.9,201.99 L143.4,206.63 L142.9,211.27 L142.4,215.9 L141.9,218.39 L141.4,219.44 L140.9,220.49 L140.4,221.54 L139.9,222.59 L139.4,223.64 L138.9,224.22 L138.4,222.9 L137.9,221.57 L137.4,220.23 L136.9,218.9 L136.4,217.57 L135.9,216.23 L135.4,214.8 L134.9,213.3 L134.4,211.8 L133.9,210.3 L133.4,208.8 L132.9,207.3 L132.4,205.8 L131.9,204.28 L131.4,202.77 L130.9,201.25 L130.4,199.73 L129.9,198.22 L129.4,196.7 L128.9,195.4 L128.4,194.14 L127.9,192.88 L127.4,191.63 L126.9,190.37 L126.4,189.12 L125.9,187.86 L125.4,186.6 L124.9,185.2 L124.4,183.18 L123.9,181.17 L123.4,179.15 L122.9,177.13 L122.4,175.12 L121.9,173.1 L121.4,170.62 L120.9,168.01 L120.4,165.4 L119.9,162.8 L119.4,160.19 L118.9,157.58 L118.4,154.83 L117.9,151.47 L117.4,148.11 L116.9,144.75 L116.4,141.39 L115.9,138.03 L115.4,134.67 L114.9,131.31 L114.4,127.95 L113.9,124.59 L113.4,121.23 L112.9,117.88 L112.4,114.52 L111.9,110.55 L111.4,105.66 L110.9,100.77 L110.4,95.89 L109.9,91 L109.4,88.03 L108.9,85.06 L108.4,82.09 L107.9,79.13 L107.4,76.16 L106.9,73.19 L106.4,73.67 L105.9,76.15 L105.4,78.5 L104.9,80.85 L104.4,83.2 L103.9,85.98 L103.4,90.5 L102.9,95.02 L102.4,99.53 L101.9,104.3 L101.4,110.06 L100.9,115.83 L100.4,121.6 L99.9,127.49 L99.4,133.91 L98.9,140.32 L98.4,146.74 L97.9,153.16 L97.4,159.62 L96.9,166.31 L96.4,172.99 L95.9,179.67 L95.4,186.36 L94.9,193.04 L94.4,199.59 L93.9,205.6 L93.4,211.62 L92.9,217.64 L92.4,223.65 L91.9,229.27 L91.4,233.31 L90.9,237.35 L90.4,241.4 L89.9,245.15 L89.4,247.74 L88.9,250.34 L88.4,252.94 L87.9,255.53 L87.4,257.93 L86.9,259.57 L86.4,261.2 L85.9,262.83 L85.4,264.46 L84.9,266.09 L84.4,266.89 L83.9,267.69 L83.4,268.39 L82.9,268.67 L82.4,268.95 L81.9,269.23 L81.4,269.27 L80.9,268.8 L80.4,268.33 L79.9,267.86 L79.4,267.33 L78.9,266.55 L78.4,265.77 L77.9,264.99 L77.4,264.21 L76.9,263.25 L76.4,262.03 L75.9,260.81 L75.4,259.59 L74.9,258.37 L74.4,257.12 L73.9,255.76 L73.4,254.4 L72.9,253.04 L72.4,251.68 L71.9,250.25 L71.4,248.55 L70.9,246.85 L70.4,245.15 L69.9,243.45 L69.4,241.66 L68.9,239.51 L68.4,237.35 L67.9,235.2 Z" fill="rgb(255,0,0)" fill-opacity="0.15"/>
</g>
<g clip-path="url(#c0)" fill="none" stroke-linejoin="round">
<path d="M68.4,234.5 L68.9,235.69 L69.4,236.89 L69.9,238.08 L70.4,239.28 L70.9,240.47 L71.4,241.67 L71.9,242.86 L72.4,243.56 L72.9,244.13 L73.4,244.7 L73.9,245.27 L74.4,245.84 L74.9,246.41 L75.4,246.98 L75.9,247.55 L76.4,247.79 L76.9,247.95 L77.4,248.1 L77.9,248.26 L78.4,248.42 L78.9,248.58 L79.4,248.74 L79.9,248.89 L80.4,249.05 L80.9,249.21 L81.4,249.37 L81.9,249.53 L82.4,249.26 L82.9,248.7 L83.4,248.13 L83.9,247.57 L84.4,247.01 L84.9,246.44 L85.4,245.88 L85.9,244.36 L86.4,242.84 L86.9,241.32 L87.4,239.81 L87.9,238.29 L88.4,236.77 L88.9,235.24 L89.4,233.71 L89.9,232.18 L90.4,230.64 L90.9,229.11 L91.4,227.58 L91.9,225.97 L92.4,224.09 L92.9,222.21 L93.4,220.32 L93.9,218.44 L94.4,216.56 L94.9,213.54 L95.4,210.52 L95.9,207.5 L96.4,204.49 L96.9,201.47 L97.4,198.45 L97.9,195.43 L98.4,192.41 L98.9,190.83 L99.4,190.19 L99.9,189.56 L100.4,188.92 L100.9,188.29 L101.4,187.66 L101.9,187.02 L102.4,186.39 L102.9,185.75 L103.4,185.62 L103.9,185.49 L104.4,185.35 L104.9,185.22 L105.4,185.09 L105.9,184.95 L106.4,184.82 L106.9,184.69 L107.4,184.55 L107.9,184.42 L108.4,184.29 L108.9,184.15 L109.4,184.02 L109.9,184.12 L110.4,184.21 L110.9,184.31 L111.4,184.4 L111.9,184.49 L112.4,184.58 L112.9,184.68 L113.4,184.77 L113.9,184.86 L114.4,184.95 L114.9,185.04 L115.4,185.14 L115.9,185.38 L116.4,186.23 L116.9,187.07 L117.4,187.92 L117.9,188.77 L118.4,189.61 L118.9,190.46 L119.4,191.31 L119.9,192.16 L120.4,193.2 L120.9,194.37 L121.4,195.54 L121.9,196.71 L122.4,197.87 L122.9,199.04 L123.4,200.21 L123.9,201.38 L124.4,202.55 L124.9,203.72 L125.4,204.89 L125.9,206.06 L126.4,207.23 L126.9,208.4 L127.4,209.57 L127.9,210.74 L128.4,211.91 L128.9,213.08 L129.4,214.25 L129.9,215.42 L130.4,216.59 L130.9,217.76 L131.4,218.33 L131.9,218.91 L132.4,219.49 L132.9,220.07 L133.4,220.65 L133.9,221.23 L134.4,221.81 L134.9,222.39 L135.4,222.96 L135.9,223.54 L136.4,223.96 L136.9,224.15 L137.4,224.33 L137.9,224.52 L138.4,224.7 L138.9,224.89 L139.4,225.07 L139.9,225.25 L140.4,225.44 L140.9,224.98 L141.4,224.37 L141.9,223.75 L142.4,223.13 L142.9,222.52 L143.4,221.9 L143.9,220.93 L144.4,218.55 L144.9,216.16 L145.4,213.78 L145.9,211.4 L146.4,209.01 L146.9,206.63 L147.4,205.03 L147.9,203.64 L148.4,202.24 L148.9,200.84 L149.4,199.44 L149.9,198.05 L150.4,196.66 L150.9,195.28 L151.4,194.14 L151.9,193.96 L152.4,193.77 L152.9,193.59 L153.4,193.41 L153.9,193.23 L154.4,193.05 L154.9,193.24 L155.4,193.54 L155.9,193.83 L156.4,194.12 L156.9,194.41 L157.4,194.71 L157.9,195 L158.4,195.29 L158.9,195.51 L159.4,195.47 L159.9,195.42 L160.4,195.37 L160.9,195.33 L161.4,195.28 L161.9,195.23 L162.4,195.19 L162.9,195.14 L163.4,195.09 L163.9,195.04 L164.4,194.91 L164.9,194.64 L165.4,194.38 L165.9,194.11 L166.4,193.85 L166.9,193.58 L167.4,193.31 L167.9,193.05 L168.4,192.78 L168.9,193.12 L169.4,193.61 L169.9,194.1 L170.4,194.59 L170.9,195.08 L171.4,195.57 L171.9,196.06 L172.4,196.55 L172.9,197.02 L173.4,197.41 L173.9,197.8 L174.4,198.19 L174.9,198.57 L175.4,198.96 L175.9,199.35 L176.4,199.74 L176.9,200.13 L177.4,200.51 L177.9,200.9 L178.4,201.18 L178.9,201.3 L179.4,201.42 L179.9,201.54 L180.4,201.65 L180.9,201.77 L181.4,201.89 L181.9,202.01 L182.4,202.13 L182.9,202.44 L183.4,202.8 L183.9,203.16 L184.4,203.53 L184.9,203.89 L185.4,204.25 L185.9,204.61 L186.4,204.97 L186.9,205.3 L187.4,205.46 L187.9,205.62 L188.4,205.78 L188.9,205.94 L189.4,206.11 L189.9,206.27 L190.4,206.36 L190.9,206.44 L191.4,206.52 L191.9,206.6 L192.4,206.68 L192.9,206.76 L193.4,206.84 L193.9,206.92 L194.4,207 L194.9,207.08 L195.4,207.25 L195.9,207.44 L196.4,207.63 L196.9,207.82 L197.4,208.01 L197.9,208.2 L198.4,208.39 L198.9,208.58 L199.4,208.77 L199.9,208.96 L200.4,209.14 L200.9,209.31 L201.4,209.48 L201.9,209.65 L202.4,209.82 L202.9,209.99 L203.4,210.16 L203.9,210.33 L204.4,210.5 L204.9,210.92 L205.4,211.73 L205.9,212.54 L206.4,213.35 L206.9,214.16 L207.4,214.97 L207.9,215.78 L208.4,216.59 L208.9,217.4 L209.4,218.21 L209.9,219.02 L210.4,219.83 L210.9,220.64 L211.4,221.45 L211.9,222.26 L212.4,223.07 L212.9,223.88 L213.4,224.7 L213.9,225.51 L214.4,226.32 L214.9,227.13 L215.4,227.94 L215.9,228.76 L216.4,229.57 L216.9,230.38 L217.4,231.19 L217.9,231.89 L218.4,232.13 L218.9,232.37 L219.4,232.61 L219.9,232.85 L220.4,233.26 L220.9,233.79 L221.4,234.32 L221.9,234.85 L222.4,235.38 L222.9,235.91 L223.4,236.44 L223.9,236.97 L224.4,237.5 L224.9,238.03 L225.4,238.56 L225.9,239.09 L226.4,239.73 L226.9,240.4 L227.4,241.07 L227.9,241.74 L228.4,242.41 L228.9,243.08 L229.4,243.75 L229.9,244.42 L230.4,245.09 L230.9,245.76 L231.4,246.43 L231.9,247.1 L232.4,247.83 L232.9,248.56 L233.4,249.29 L233.9,250.03 L234.4,250.76 L234.9,251.5 L235.4,252.23 L235.9,252.96 L236.4,253.7 L236.9,254.33 L237.4,254.82 L237.9,255.31 L238.4,255.8 L238.9,256.29 L239.4,256.78 L239.9,257.27 L240.4,257.76 L240.9,258.25 L241.4,258.74 L241.9,259.36 L242.4,259.98 L242.9,260.61 L243.4,261.23 L243.9,261.85 L244.4,262.48 L244.9,263.1 L245.4,263.72 L245.9,264.34 L246.4,264.97 L246.9,265.59 L247.4,266.09 L247.9,265.95 L248.4,265.8 L248.9,265.66 L249.4,265.52 L249.9,265.37 L250.4,265.23 L250.9,265.08 L251.4,264.94 L251.9,264.8 L252.4,264.23 L252.9,263.38 L253.4,262.53 L253.9,261.68 L254.4,260.83 L254.9,259.98 L255.4,259.13 L255.9,258.28 L256.4,257.43 L256.9,256.63 L257.4,256.04 L257.9,255.45 L258.4,254.85 L258.9,254.26 L259.4,253.66 L259.9,253.07 L260.4,252.47 L260.9,251.88 L261.4,251.29 L261.9,251.29 L262.4,251.4 L262.9,251.5 L263.4,251.59 L263.9,251.69 L264.4,251.78 L264.9,251.88 L265.4,251.97 L265.9,252.07 L266.4,252.18 L266.9,252.36 L267.4,252.53 L267.9,252.7 L268.4,252.87 L268.9,253.05 L269.4,253.22 L269.9,253.39 L270.4,253.61 L270.9,253.83 L271.4,254.05 L271.9,254.27 L272.4,254.49 L272.9,254.71 L273.4,254.93 L273.9,255.15 L274.4,255.37 L274.9,255.59 L275.4,255.81 L275.9,256.03 L276.4,256.25 L276.9,256.47 L277.4,256.69 L277.9,257.32 L278.4,257.96 L278.9,258.59 L279.4,259.22 L279.9,259.85 L280.4,260.48 L280.9,261.11 L281.4,261.74 L281.9,262.37 L282.4,263 L282.9,263.63 L283.4,264.26 L283.9,264.89 L284.4,265.52 L284.9,266.15 L285.4,266.79 L285.9,267.43 L286.4,268.07 L286.9,268.71 L287.4,269.35 L287.9,269.99 L288.4,270.63 L288.9,271.27 L289.4,271.91 L289.9,272.55 L290.4,273.19 L290.9,273.83 L291.4,274.47 L291.9,275.11 L292.4,275.74 L292.9,276.34 L293.4,276.94 L293.9,277.55 L294.4,278.15 L294.9,278.75 L295.4,279.36 L295.9,279.96 L296.4,280.56 L296.9,281.17 L297.4,281.72 L297.9,282.19 L298.4,282.66 L298.9,283.13 L299.4,283.6 L299.9,284.07 L300.4,284.54 L300.9,285.01 L301.4,285.48 L301.9,285.95 L302.4,286.29 L302.9,286.42 L303.4,286.55 L303.9,286.69 L304.4,286.82 L304.9,286.95 L305.4,287.08 L305.9,287.22 L306.4,285.68 L306.9,284.14 L307.4,282.6 L307.9,281.06 L308.4,279.52 L308.9,277.98 L309.4,276.44 L309.9,274.9 L310.4,273.36 L310.9,271.83 L311.4,270.31 L311.9,268.79 L312.4,267.27 L312.9,265.75 L313.4,264.23 L313.9,262.71 L314.4,261.19 L314.9,259.67 L315.4,258.15 L315.9,256.78 L316.4,255.99 L316.9,255.21 L317.4,254.42 L317.9,253.64 L318.4,252.86 L318.9,252.07 L319.4,251.29 L319.9,250.5 L320.4,249.72 L320.9,249.37 L321.4,249.67 L321.9,249.97 L322.4,250.27 L322.9,250.57 L323.4,250.86 L323.9,251.16 L324.4,251.46 L324.9,251.2 L325.4,250.79 L325.9,250.38 L326.4,249.98 L326.9,249.57 L327.4,249.16 L327.9,248.76 L328.4,248.35 L328.9,247.94 L329.4,247.54 L329.9,247.26 L330.4,246.99 L330.9,246.72 L331.4,246.45 L331.9,246.18 L332.4,245.91 L332.9,245.64 L333.4,245.38 L333.9,245.11 L334.4,244.84 L334.9,245.66 L335.4,246.48 L335.9,247.3 L336.4,248.12 L336.9,248.94 L337.4,249.76 L337.9,250.58 L338.4,251.13 L338.9,251.51 L339.4,251.89 L339.9,252.26 L340.4,252.64 L340.9,253.02 L341.4,253.39 L341.9,253.77 L342.4,254.15 L342.9,254.52 L343.4,254.9 L343.9,255.28 L344.4,255.68 L344.9,256.17 L345.4,256.66 L345.9,257.15 L346.4,257.64 L346.9,258.13 L347.4,258.62 L347.9,259.11 L348.4,259.6 L348.9,260.09 L349.4,260.58 L349.9,261.07 L350.4,261.56 L350.9,262.04 L351.4,262.52 L351.9,263 L352.4,263.49 L352.9,263.97 L353.4,264.45 L353.9,264.93 L354.4,265.41 L354.9,265.89 L355.4,266.38 L355.9,266.86 L356.4,267.34 L356.9,267.04 L357.4,266.23 L357.9,265.41 L358.4,264.59 L358.9,263.78 L359.4,262.96 L359.9,262.14 L360.4,261.33 L360.9,260.51 L361.4,259.69 L361.9,258.88 L362.4,258.06 L362.9,257.18 L363.4,256.02 L363.9,254.87 L364.4,253.71 L364.9,252.56 L365.4,250.71 L365.9,248.69 L366.4,246.68 L366.9,244.66 L367.4,242.64 L367.9,240.62 L368.4,238.6 L368.9,237.19 L369.4,236.67 L369.9,236.15 L370.4,235.63 L370.9,235.11 L371.4,234.59 L371.9,234.08 L372.4,233.56 L372.9,233.04 L373.4,232.52 L373.9,232.15 L374.4,232.01 L374.9,231.87 L375.4,231.73 L375.9,231.59 L376.4,231.45 L376.9,231.31 L377.4,231.17 L377.9,231.03 L378.4,230.89 L378.9,230.75 L379.4,230.61 L379.9,230.47 L380.4,230.34 L380.9,230.2 L381.4,230.06 L381.9,229.92 L382.4,229.78 L382.9,229.64 L383.4,229.51 L383.9,229.36 L384.4,229.21 L384.9,229.06 L385.4,228.91 L385.9,228.76 L386.4,228.61 L386.9,228.46 L387.4,228.3 L387.9,228.15 L388.4,228 L388.9,228.63 L389.4,229.45 L389.9,230.27 L390.4,231.09 L390.9,231.91 L391.4,232.73 L391.9,233.55 L392.4,234.28 L392.9,234.88 L393.4,235.48 L393.9,236.08 L394.4,236.69 L394.9,237.29 L395.4,237.89 L395.9,238.49 L396.4,239.09 L396.9,239.7 L397.4,240.25 L397.9,240.75 L398.4,241.24 L398.9,241.73 L399.4,242.22 L399.9,242.71 L400.4,243.21 L400.9,243.7 L401.4,244.19 L401.9,244.68 L402.4,245.16 L402.9,245.63 L403.4,246.1 L403.9,246.58 L404.4,247.05 L404.9,247.52 L405.4,247.99 L405.9,248.46 L406.4,248.94 L406.9,249.41 L407.4,249.83 L407.9,250.21 L408.4,250.6 L408.9,250.98 L409.4,251.37 L409.9,251.75 L410.4,252.14 L410.9,252.52 L411.4,252.91 L411.9,253.29 L412.4,253.68 L412.9,254.06 L413.4,254.29 L413.9,253.88 L414.4,253.48 L414.9,253.07 L415.4,252.67 L415.9,252.26 L416.4,251.85 L416.9,251.45 L417.4,251.04 L417.9,250.64 L418.4,249.94 L418.9,248.81 L419.4,247.69 L419.9,246.56 L420.4,245.43 L420.9,244.3 L421.4,243.17 L421.9,242.04 L422.4,240.92 L422.9,239.79 L423.4,239.02 L423.9,238.8 L424.4,238.58 L424.9,238.36 L425.4,238.14 L425.9,237.92 L426.4,237.7 L426.9,237.48 L427.4,237.26 L427.9,237.04 L428.4,236.83 L428.9,236.61 L429.4,236.39 L429.9,236.37 L430.4,236.35 L430.9,236.33 L431.4,236.31 L431.9,236.29 L432.4,236.28 L432.9,236.26 L433.4,236.24 L433.9,236.22 L434.4,236.18 L434.9,236.04 L435.4,235.9 L435.9,235.77 L436.4,235.63 L436.9,235.49 L437.4,235.35 L437.9,235.21 L438.4,235.07 L438.9,234.94 L439.4,234.79 L439.9,234.61 L440.4,234.44 L440.9,234.28 L441.4,234.12 L441.9,233.96 L442.4,233.79 L442.9,233.63 L443.4,234.2 L443.9,234.96 L444.4,235.71 L444.9,236.47 L445.4,237.22 L445.9,237.98 L446.4,238.73 L446.9,239.49 L447.4,240.24 L447.9,241 L448.4,241.86 L448.9,242.72 L449.4,243.58 L449.9,244.44 L450.4,245.3 L450.9,246.16 L451.4,247.02 L451.9,247.88 L452.4,248.74 L452.9,249.6 L453.4,250.23 L453.9,250.87 L454.4,251.5 L454.9,252.13 L455.4,252.76 L455.9,253.4 L456.4,254.03 L456.9,254.66 L457.4,255.29 L457.9,255.87 L458.4,256.21 L458.9,256.54 L459.4,256.88 L459.9,257.22 L460.4,257.56 L460.9,257.89 L461.4,258.23 L461.9,258.3 L462.4,258.3 L462.9,258.3 L463.4,258.3 L463.9,258.3 L464.4,258.3 L464.9,258.3 L465.4,258.83 L465.9,259.5 L466.4,260.17 L466.9,260.83 L467.4,261.5 L467.9,259.82 L468.4,258.14 L468.9,256.46 L469.4,254.78 L469.9,253.1 L470.4,251.42 L470.9,249.74 L471.4,248.06 L471.9,246.38 L472.4,244.7 L472.9,243.69 L473.4,242.68 L473.9,241.67 L474.4,240.66 L474.9,239.65 L475.4,238.64 L475.9,237.63 L476.4,236.62 L476.9,235.61 L477.4,234.74 L477.9,234.44 L478.4,234.14 L478.9,233.85 L479.4,233.55 L479.9,233.25 L480.4,232.95 L480.9,232.65 L481.4,232.35 L481.9,232.05 L482.4,231.76 L482.9,231.46 L483.4,231.16 L483.9,231.5 L484.4,232 L484.9,232.5 L485.4,233 L485.9,233.5 L486.4,234 L486.9,234.5 L487.4,235 L487.9,235.49 L488.4,235.98 L488.9,236.47 L489.4,236.96 L489.9,237.45 L490.4,237.94 L490.9,238.43 L491.4,238.92 L491.9,239.41 L492.4,239.74 L492.9,239.82 L493.4,239.91 L493.9,240 L494.4,240.09 L494.9,240.17 L495.4,240.26 L495.9,240.35 L496.4,240.44 L496.9,240.53 L497.4,240.61 L497.9,240.7 L498.4,240.79 L498.9,240.88 L499.4,240.96 L499.9,241.36 L500.4,241.93 L500.9,242.5 L501.4,243.06 L501.9,243.63 L502.4,244.2 L502.9,244.76 L503.4,245.33 L503.9,245.9 L504.4,246.47 L504.9,247.03 L505.4,247.6 L505.9,248.13 L506.4,248.52 L506.9,248.91 L507.4,249.3 L507.9,249.69 L508.4,250.07 L508.9,250.46 L509.4,250.85 L509.9,251.24 L510.4,251.63 L510.9,252.02 L511.4,252.41 L511.9,252.8 L512.4,253.19 L512.9,253.57 L513.4,254.03 L513.9,254.6 L514.4,255.17 L514.9,255.74 L515.4,256.3 L515.9,256.87 L516.4,257.44 L516.9,258 L517.4,258.57 L517.9,259.14 L518.4,259.7 L518.9,260.27 L519.4,260.84 L519.9,259.71 L520.4,258.58 L520.9,257.46 L521.4,256.33 L521.9,255.2 L522.4,254.08 L522.9,252.95 L523.4,251.82 L523.9,250.7 L524.4,249.57 L524.9,248.44 L525.4,247.31 L525.9,246.31 L526.4,245.38 L526.9,244.46 L527.4,243.53 L527.9,242.61 L528.4,241.68 L528.9,240.76 L529.4,239.83 L529.9,238.91 L530.4,237.98 L530.9,237.06 L531.4,236.13 L531.9,235.35 L532.4,235.15 L532.9,234.95 L533.4,234.76 L533.9,234.56 L534.4,234.36 L534.9,234.16 L535.4,233.96 L535.9,233.76 L536.4,233.56 L536.9,233.36 L537.4,233.16 L537.9,232.97 L538.4,232.77 L538.9,232.57 L539.4,232.68 L539.9,233.27 L540.4,233.86 L540.9,234.45 L541.4,235.04 L541.9,235.63 L542.4,236.22 L542.9,236.81 L543.4,237.4 L543.9,237.99 L544.4,238.3 L544.9,238.17 L545.4,238.05 L545.9,237.92 L546.4,237.8 L546.9,237.67 L547.4,237.55 L547.9,237.42 L548.4,237.3 L548.9,237.17 L549.4,237.05 L549.9,236.92 L550.4,237.52 L550.9,238.3 L551.4,239.07 L551.9,239.85 L552.4,240.62 L552.9,241.4 L553.4,242.17 L553.9,242.95 L554.4,243.72 L554.9,244.4 L555.4,245.06 L555.9,245.71 L556.4,246.36 L556.9,247.02 L557.4,247.67 L557.9,248.32 L558.4,248.98 L558.9,249.63 L559.4,250.26 L559.9,250.89 L560.4,251.52 L560.9,252.15 L561.4,252.78 L561.9,253.41 L562.4,254.04 L562.9,254.66 L563.4,255.29 L563.9,255.86 L564.4,256.39 L564.9,256.92 L565.4,257.45 L565.9,257.98 L566.4,258.51 L566.9,259.03 L567.4,259.56 L567.9,260.09 L568.4,260.62 L568.9,261.15 L569.4,261.61 L569.9,261.96 L570.4,262.32 L570.9,262.67 L571.4,263.02 L571.9,263.38 L572.4,263.73 L572.9,264.08 L573.4,264.44 L573.9,264.79 L574.4,265.14 L574.9,265.5 L575.4,264.95 L575.9,264.4 L576.4,263.85 L576.9,263.3 L577.4,262.75 L577.9,262.19 L578.4,261.64 L578.9,261.09 L579.4,260.54 L579.9,259.55 L580.4,258.55 L580.9,257.56 L581.4,256.56 L581.9,255.57 L582.4,254.57 L582.9,253.58 L583.4,252.58 L583.9,251.59 L584.4,250.79 L584.9,250 L585.4,249.2 L585.9,248.4 L586.4,247.61 L586.9,246.81 L587.4,246.02 L587.9,245.22 L588.4,244.43 L588.9,244.68 L589.4,244.93 L589.9,245.18 L590.4,245.43 L590.9,245.68 L591.4,245.92 L591.9,246.17 L592.4,246.42 L592.9,246.67 L593.4,246.85 L593.9,247.03 L594.4,247.21 L594.9,247.39 L595.4,247.57 L595.9,247.74 L596.4,247.92 L596.9,248.1 L597.4,248.28 L597.9,248.4 L598.4,248.5 L598.9,248.6 L599.4,248.71 L599.9,248.81 L600.4,248.91 L600.9,249.02 L601.4,249.12 L601.9,249.22 L602.4,249.33 L602.9,249.43 L603.4,249.59 L603.9,249.8 L604.4,250.01 L604.9,250.21 L605.4,250.42 L605.9,250.63 L606.4,250.83 L606.9,251.04 L607.4,251.25 L607.9,251.45 L608.4,251.66 L608.9,251.85 L609.4,251.98 L609.9,252.1 L610.4,252.23 L610.9,252.36 L611.4,252.49 L611.9,252.61 L612.4,252.74 L612.9,252.87 L613.4,253.04 L613.9,253.43 L614.4,253.81 L614.9,254.19 L615.4,254.58 L615.9,254.96 L616.4,255.34 L616.9,255.72 L617.4,256.11 L617.9,256.49 L618.4,256.87 L618.9,257.25 L619.4,257.64 L619.9,258.02 L620.4,258.4 L620.9,258.78 L621.4,259.17 L621.9,259.55 L622.4,259.91 L622.9,260.17 L623.4,260.43 L623.9,260.69 L624.4,260.95 L624.9,261.21 L625.4,261.47 L625.9,261.73 L626.4,261.99" stroke="#00e000" stroke-width="1"/>
<path d="M68.53,232.5 L69.06,234.03 L69.59,235.55 L70.12,237.08 L70.65,238.24 L71.18,239.31 L71.71,240.38 L72.24,241.45 L72.77,242.52 L73.29,243.32 L73.82,244.05 L74.35,244.78 L74.88,245.51 L75.41,246.24 L75.94,246.86 L76.47,247.46 L77,248.05 L77.53,248.64 L78.06,249.24 L78.59,249.56 L79.12,249.71 L79.65,249.87 L80.18,250.02 L80.71,250.17 L81.24,250.07 L81.77,249.91 L82.3,249.75 L82.83,249.59 L83.33,249.46 L83.83,249.21 L84.33,248.97 L84.83,248.73 L85.33,248.07 L85.83,247.3 L86.32,246.54 L86.82,244.94 L87.32,243.35 L87.82,241.75 L88.32,240.15 L88.81,238.56 L89.31,236.19 L89.81,233.63 L90.31,231.07 L90.81,228.51 L91.31,225.95 L91.8,222.24 L92.3,218.23 L92.8,214.23 L93.3,210.22 L93.8,204.64 L94.3,198.66 L94.79,192.68 L95.29,186.7 L95.79,180.72 L96.29,174.2 L96.79,167.56 L97.29,160.91 L97.78,154.26 L98.28,147.62 L98.78,140.97 L99.28,134.54 L99.78,128.16 L100.28,121.78 L100.77,115.4 L101.27,109.02 L101.77,103.16 L102.27,97.43 L102.77,91.7 L103.27,85.97 L103.76,81.24 L104.26,76.76 L104.76,72.28 L105.26,67.8 L105.76,65.05 L106.26,62.74 L106.75,60.42 L107.25,58.11 L107.75,55.66 L108.25,55.19 L108.75,58.16 L109.25,61.13 L109.75,64.09 L110.25,67.06 L110.75,70.03 L111.25,73 L111.75,77.89 L112.25,82.77 L112.75,87.66 L113.25,92.55 L113.75,96.52 L114.25,99.88 L114.75,103.23 L115.25,106.59 L115.75,109.95 L116.25,113.31 L116.75,116.67 L117.25,120.03 L117.75,123.39 L118.25,126.75 L118.75,130.11 L119.25,133.47 L119.75,136.83 L120.25,139.58 L120.75,142.19 L121.25,144.8 L121.75,147.4 L122.25,150.01 L122.75,152.62 L123.25,155.1 L123.75,157.12 L124.25,159.13 L124.75,161.15 L125.25,163.17 L125.75,165.18 L126.25,167.2 L126.75,168.6 L127.25,169.86 L127.75,171.12 L128.25,172.37 L128.75,173.63 L129.25,174.88 L129.75,176.14 L130.25,177.4 L130.75,178.7 L131.25,180.22 L131.75,181.73 L132.25,183.25 L132.75,184.77 L133.25,186.28 L133.75,187.8 L134.25,189.3 L134.75,190.8 L135.25,192.3 L135.75,193.8 L136.25,195.3 L136.75,196.8 L137.25,198.23 L137.75,199.57 L138.25,200.9 L138.75,202.23 L139.25,203.57 L139.75,204.9 L140.25,206.25 L140.75,205.72 L141.24,204.71 L141.74,203.7 L142.24,202.7 L142.74,201.69 L143.24,200.68 L143.73,198.24 L144.23,193.64 L144.73,189.05 L145.23,184.45 L145.73,179.8 L146.22,174.94 L146.72,170.08 L147.22,165.22 L147.72,160.35 L148.22,153.27 L148.71,145.62 L149.21,137.98 L149.71,130.34 L150.21,122.89 L150.71,115.57 L151.2,108.26 L151.7,100.94 L152.2,94.08 L152.7,89.08 L153.2,84.07 L153.69,79.06 L154.19,74.05 L154.69,69.05 L155.19,64.04 L155.69,61.17 L156.18,58.83 L156.68,56.5 L157.18,54.16 L157.68,51.83 L158.18,49.49 L158.67,47.61 L159.17,46.41 L159.67,45.2 L160.17,44 L160.67,42.8 L161.17,43.98 L161.67,45.15 L162.17,46.32 L162.67,47.49 L163.17,48.67 L163.67,49.84 L164.17,52.06 L164.67,54.98 L165.18,57.89 L165.68,60.81 L166.18,64.15 L166.68,69.16 L167.18,74.18 L167.68,79.2 L168.18,84.21 L168.68,89.23 L169.19,94.25 L169.69,98.46 L170.19,102.48 L170.69,106.5 L171.19,110.51 L171.69,114.53 L172.19,118.55 L172.69,122.03 L173.2,124.7 L173.7,127.37 L174.2,130.04 L174.7,132.72 L175.2,135.39 L175.7,138.06 L176.2,140.33 L176.7,142.61 L177.21,144.88 L177.71,147.15 L178.21,149.43 L178.71,151.7 L179.21,153.66 L179.71,155.14 L180.21,156.63 L180.71,158.11 L181.22,159.6 L181.72,161.09 L182.22,162.57 L182.72,164.06 L183.22,165.54 L183.72,166.63 L184.22,167.61 L184.72,168.6 L185.23,169.58 L185.73,170.57 L186.23,171.55 L186.73,172.54 L187.23,173.52 L187.73,174.44 L188.23,175.1 L188.73,175.76 L189.24,176.41 L189.74,177.07 L190.24,177.73 L190.74,178.39 L191.24,178.66 L191.74,178.83 L192.24,179 L192.74,179.18 L193.25,179.35 L193.75,179.52 L194.25,179.7 L194.75,179.87 L195.25,179.61 L195.74,178.22 L196.24,176.83 L196.73,175.44 L197.22,174.05 L197.72,172.65 L198.21,169.76 L198.71,166.49 L199.2,163.22 L199.7,159.95 L200.19,156.67 L200.69,153.4 L201.18,150.67 L201.68,148.06 L202.17,145.46 L202.67,142.85 L203.16,140.25 L203.66,137.65 L204.15,135.57 L204.64,133.64 L205.14,131.7 L205.63,129.76 L206.13,127.82 L206.62,126.23 L207.12,124.72 L207.61,123.21 L208.11,121.7 L208.6,120.19 L209.1,118.69 L209.59,117.18 L210.09,116.45 L210.58,115.92 L211.08,115.38 L211.57,114.85 L212.07,114.32 L212.56,113.79 L213.05,113.25 L213.55,112.72 L214.04,112.19 L214.54,111.65 L215.04,111.46 L215.55,112.33 L216.06,113.19 L216.57,114.05 L217.07,114.92 L217.58,115.78 L218.09,118.02 L218.6,120.59 L219.11,123.17 L219.61,125.74 L220.12,128.32 L220.63,130.89 L221.14,133.6 L221.64,136.35 L222.15,139.09 L222.66,141.83 L223.17,144.57 L223.68,147.32 L224.18,150.59 L224.69,154 L225.2,157.41 L225.71,160.82 L226.21,164.23 L226.72,167.64 L227.23,171.77 L227.74,176.07 L228.24,180.38 L228.75,184.69 L229.26,189 L229.77,191.85 L230.28,194.34 L230.78,196.82 L231.29,199.31 L231.8,201.79 L232.31,204.28 L232.81,206.76 L233.32,209.25 L233.83,211.73 L234.34,214 L234.85,216.13 L235.35,218.26 L235.86,220.39 L236.37,222.52 L236.88,224.64 L237.38,226.77 L237.89,228.9 L238.4,231.03 L238.91,233.15 L239.41,233.95 L239.92,234.74 L240.43,235.53 L240.94,236.32 L241.45,237.11 L241.95,237.91 L242.46,238.7 L242.97,239.49 L243.48,240.28 L243.98,240.85 L244.49,241.25 L245,241.66 L245.51,242.07 L246.02,242.48 L246.52,242.89 L247.03,243.3 L247.54,243.71 L248.05,244.12 L248.54,244.52 L249.04,244.42 L249.53,244.32 L250.03,244.21 L250.52,244.11 L251.02,244.01 L251.51,243.91 L252,243.81 L252.5,241.89 L252.99,239.98 L253.49,238.07 L253.98,236.15 L254.48,233.87 L254.97,230.08 L255.47,226.3 L255.96,222.52 L256.45,218.73 L256.95,214.3 L257.44,209.43 L257.94,204.56 L258.43,199.7 L258.93,194.83 L259.42,189.96 L259.92,185.16 L260.41,180.39 L260.9,175.63 L261.4,170.87 L261.89,166.11 L262.39,161.34 L262.88,157.24 L263.38,153.31 L263.87,149.37 L264.37,145.44 L264.86,141.5 L265.35,137.57 L265.85,134.75 L266.34,132.22 L266.84,129.69 L267.33,127.15 L267.83,124.62 L268.32,123.55 L268.82,122.84 L269.31,122.14 L269.8,121.43 L270.3,120.73 L270.79,120.03 L271.3,120.07 L271.81,122.18 L272.32,124.28 L272.83,126.39 L273.34,128.49 L273.85,131.11 L274.36,133.85 L274.87,136.59 L275.38,139.34 L275.89,142.08 L276.4,145.2 L276.91,148.43 L277.42,151.65 L277.93,154.87 L278.44,158.09 L278.95,161.31 L279.46,164.53 L279.97,167.75 L280.48,170.99 L280.99,174.22 L281.5,177.46 L282.01,180.69 L282.52,183.93 L283.03,187.16 L283.54,190.39 L284.05,193.28 L284.56,196.16 L285.07,199.04 L285.58,201.92 L286.09,204.81 L286.6,207.69 L287.11,210.57 L287.62,213.07 L288.13,215.3 L288.64,217.54 L289.15,219.77 L289.66,222 L290.17,224.24 L290.68,226.47 L291.19,228.63 L291.7,230.49 L292.21,232.36 L292.72,234.22 L293.23,236.08 L293.74,237.95 L294.25,239.81 L294.76,241.67 L295.27,243.53 L295.78,245.4 L296.29,247.17 L296.8,248.56 L297.31,249.95 L297.82,251.35 L298.33,252.74 L298.84,254.13 L299.35,255.52 L299.86,256.92 L300.37,258.31 L300.88,259.7 L301.39,261.08 L301.9,262.45 L302.41,263.81 L302.92,265.17 L303.43,266.54 L303.92,266.87 L304.42,265.47 L304.91,264.07 L305.4,262.67 L305.9,261.27 L306.39,258.4 L306.88,253.34 L307.38,248.27 L307.87,243.2 L308.36,238.14 L308.86,233.18 L309.35,228.3 L309.84,223.42 L310.34,218.54 L310.83,213.66 L311.32,208.19 L311.82,202.33 L312.31,196.47 L312.8,190.61 L313.3,184.75 L313.79,179.19 L314.28,173.83 L314.78,168.47 L315.27,163.11 L315.76,157.75 L316.26,152.64 L316.75,147.71 L317.24,142.78 L317.74,137.84 L318.23,132.91 L318.72,127.97 L319.21,123.04 L319.71,118.51 L320.2,115.57 L320.69,112.64 L321.19,109.7 L321.68,106.77 L322.17,103.84 L322.67,100.9 L323.16,97.97 L323.65,96.26 L324.15,94.86 L324.64,93.46 L325.13,92.06 L325.63,90.59 L326.13,91.36 L326.63,92.69 L327.13,94.02 L327.64,95.35 L328.14,96.68 L328.64,98.01 L329.14,99.34 L329.64,101.78 L330.14,105.9 L330.64,110.02 L331.14,114.14 L331.64,118.25 L332.14,122.86 L332.64,127.79 L333.14,132.72 L333.64,137.66 L334.14,142.59 L334.64,147.53 L335.15,152.49 L335.65,157.44 L336.15,162.39 L336.65,167.34 L337.15,171.32 L337.65,174.65 L338.15,177.98 L338.65,181.31 L339.15,184.64 L339.65,187.97 L340.15,191.3 L340.65,194.36 L341.15,196.34 L341.65,198.31 L342.15,200.28 L342.65,202.25 L343.16,204.22 L343.66,206.2 L344.16,208.17 L344.66,210.14 L345.16,212.11 L345.66,214.09 L346.16,216.11 L346.66,218.12 L347.16,220.13 L347.66,222.15 L348.16,224.16 L348.66,226.17 L349.16,228.18 L349.66,230.2 L350.16,232.21 L350.67,233.91 L351.17,235.14 L351.67,236.38 L352.17,237.61 L352.67,238.84 L353.17,240.07 L353.67,241.31 L354.17,242.54 L354.67,243.77 L355.17,245 L355.67,246.15 L356.17,247.16 L356.67,248.17 L357.17,249.19 L357.67,250.2 L358.17,250 L358.68,248.98 L359.18,247.96 L359.68,246.93 L360.18,245.91 L360.68,244.89 L361.19,243.86 L361.69,242.3 L362.19,238.6 L362.69,234.89 L363.19,231.19 L363.7,227.48 L364.2,223.78 L364.7,220.07 L365.2,216.37 L365.7,212.66 L366.21,208.96 L366.71,203.38 L367.21,197.33 L367.71,191.28 L368.22,185.23 L368.72,179.18 L369.22,173.12 L369.72,167.07 L370.22,161.16 L370.73,155.44 L371.23,149.73 L371.73,144.02 L372.23,138.31 L372.73,132.59 L373.24,126.88 L373.74,121.17 L374.24,118.14 L374.74,115.12 L375.24,112.1 L375.75,109.07 L376.25,106.05 L376.75,103.02 L377.25,100 L377.75,98.32 L378.26,97.54 L378.76,96.75 L379.26,95.97 L379.76,95.25 L380.25,95.75 L380.75,97.05 L381.24,98.35 L381.74,99.65 L382.23,100.95 L382.73,103.71 L383.22,107.46 L383.72,111.21 L384.21,114.96 L384.71,118.71 L385.2,122.45 L385.7,126.2 L386.19,129.95 L386.69,133.68 L387.18,137.42 L387.68,141.15 L388.17,144.88 L388.67,148.62 L389.16,152.35 L389.66,156.09 L390.15,159.29 L390.65,162.37 L391.14,165.44 L391.64,168.51 L392.13,171.58 L392.63,174.65 L393.12,177.73 L393.62,180.66 L394.11,183.4 L394.61,186.13 L395.1,188.87 L395.6,191.6 L396.09,194.34 L396.59,197.07 L397.08,199.81 L397.58,201.81 L398.07,203.82 L398.57,205.82 L399.06,207.83 L399.56,209.84 L400.05,211.84 L400.55,213.85 L401.04,215.75 L401.54,217.48 L402.03,219.22 L402.53,220.95 L403.02,222.68 L403.52,224.42 L404.01,226.15 L404.51,227.89 L405,229.62 L405.5,231.36 L405.99,233.09 L406.49,234.83 L406.98,236.56 L407.48,238.3 L407.97,240.03 L408.47,241.36 L408.96,242.42 L409.46,243.48 L409.95,244.54 L410.45,245.59 L410.94,246.65 L411.44,247.71 L411.93,248.64 L412.43,249.05 L412.92,249.46 L413.43,249.68 L413.95,248.82 L414.47,247.7 L414.98,246.59 L415.5,245.47 L416.01,242.33 L416.53,238.68 L417.05,235.03 L417.56,231.38 L418.08,227.73 L418.59,221.69 L419.11,215.06 L419.63,208.43 L420.14,201.8 L420.66,195.17 L421.18,187.92 L421.69,180.53 L422.21,173.13 L422.72,165.73 L423.24,158.33 L423.76,153.45 L424.27,148.57 L424.79,143.69 L425.31,138.81 L425.82,133.93 L426.34,129.05 L426.85,124.17 L427.37,120.74 L427.89,118.27 L428.4,115.81 L428.92,113.34 L429.43,110.87 L429.95,108.41 L430.47,105.94 L430.98,103.47 L431.5,102.44 L432.02,101.41 L432.53,100.39 L433.05,99.36 L433.56,98.33 L434.08,97.3 L434.6,96.27 L435.1,96.63 L435.6,97.84 L436.09,99.04 L436.59,100.25 L437.09,101.45 L437.59,102.66 L438.08,103.87 L438.58,105.5 L439.08,108.87 L439.57,112.24 L440.07,115.61 L440.57,118.98 L441.07,122.34 L441.56,125.71 L442.06,129.08 L442.56,132.99 L443.06,137.03 L443.55,141.08 L444.05,145.12 L444.55,149.16 L445.05,153.21 L445.54,157.25 L446.04,161.03 L446.54,164.41 L447.04,167.79 L447.53,171.18 L448.03,174.56 L448.53,177.94 L449.03,181.32 L449.52,184.7 L450.02,187.41 L450.52,190.11 L451.02,192.82 L451.51,195.53 L452.01,198.23 L452.51,200.94 L453.01,203.64 L453.5,205.78 L454,207.54 L454.5,209.3 L454.99,211.06 L455.49,212.82 L455.99,214.58 L456.49,216.35 L456.98,218.11 L457.48,219.87 L457.98,221.63 L458.48,223.11 L458.97,224.4 L459.47,225.7 L459.97,226.99 L460.47,228.29 L460.96,229.59 L461.46,230.88 L461.96,232.18 L462.46,233.47 L462.95,234.77 L463.45,235.76 L463.95,236.68 L464.45,237.59 L464.94,238.51 L465.44,239.42 L465.94,240.34 L466.44,241.26 L466.93,241.56 L467.43,241.72 L467.93,240.6 L468.44,237.65 L468.94,234.7 L469.45,231.75 L469.95,228.8 L470.46,225.85 L470.96,222.91 L471.47,219.96 L471.97,215.22 L472.48,210.49 L472.98,205.76 L473.49,201.03 L473.99,196.29 L474.5,191.56 L475,186.83 L475.51,181.89 L476.01,176.8 L476.52,171.72 L477.02,166.63 L477.53,161.55 L478.03,156.47 L478.54,151.38 L479.04,146.37 L479.54,141.64 L480.05,136.9 L480.55,132.17 L481.06,127.44 L481.56,122.71 L482.07,117.97 L482.57,113.24 L483.08,110.17 L483.58,107.5 L484.09,104.84 L484.59,102.18 L485.1,99.52 L485.6,96.86 L486.11,94.19 L486.61,91.82 L487.12,90.58 L487.62,89.35 L488.13,88.12 L488.63,86.89 L489.14,85.65 L489.64,84.42 L490.14,83.24 L490.64,84.21 L491.14,85.72 L491.64,87.24 L492.14,88.75 L492.64,90.26 L493.14,91.78 L493.64,93.29 L494.14,95.67 L494.64,99.35 L495.14,103.02 L495.64,106.7 L496.14,110.37 L496.64,114.05 L497.14,117.72 L497.64,121.4 L498.14,125.41 L498.64,129.43 L499.14,133.44 L499.64,137.45 L500.14,141.47 L500.64,145.48 L501.14,149.49 L501.64,153.1 L502.14,156.44 L502.64,159.78 L503.14,163.12 L503.64,166.45 L504.14,169.79 L504.64,173.13 L505.14,176.25 L505.64,178.48 L506.14,180.71 L506.64,182.94 L507.14,185.17 L507.64,187.4 L508.14,189.63 L508.64,191.86 L509.14,194.09 L509.64,196.32 L510.14,198.5 L510.64,200.52 L511.14,202.54 L511.64,204.57 L512.14,206.59 L512.64,208.61 L513.14,210.63 L513.64,212.65 L514.14,214.67 L514.64,216.69 L515.14,218.58 L515.64,220.28 L516.14,221.98 L516.64,223.69 L517.14,225.39 L517.64,227.09 L518.14,228.79 L518.64,230.49 L519.14,232.19 L519.64,233.9 L520.14,235.6 L520.64,237.3 L521.14,239 L521.64,237.82 L522.14,236.68 L522.64,235.54 L523.13,234.4 L523.63,233.26 L524.13,232.12 L524.62,230.98 L525.12,228.34 L525.62,224.7 L526.12,221.06 L526.61,217.42 L527.11,213.78 L527.61,210.14 L528.1,206.5 L528.6,202.59 L529.1,197.6 L529.59,192.6 L530.09,187.61 L530.59,182.62 L531.09,177.63 L531.58,172.64 L532.08,167.65 L532.58,163.04 L533.07,158.52 L533.57,154 L534.07,149.49 L534.56,144.97 L535.06,140.45 L535.56,135.93 L536.06,131.66 L536.55,128.34 L537.05,125.03 L537.55,121.71 L538.04,118.4 L538.54,115.08 L539.04,111.76 L539.53,108.45 L540.03,106.89 L540.53,105.77 L541.02,104.65 L541.52,103.53 L542.02,102.41 L542.52,101.29 L543.02,101.01 L543.53,102.12 L544.03,103.22 L544.54,104.33 L545.04,105.43 L545.55,106.54 L546.06,107.64 L546.56,108.75 L547.07,109.85 L547.58,113.94 L548.08,118.03 L548.59,122.12 L549.1,126.21 L549.6,130.3 L550.11,134.39 L550.61,138.48 L551.12,142.57 L551.63,146.66 L552.13,149.83 L552.64,152.76 L553.14,155.7 L553.65,158.64 L554.16,161.58 L554.66,164.51 L555.17,167.45 L555.68,170.39 L556.18,173.33 L556.69,176.26 L557.19,179.18 L557.7,182.11 L558.21,185.04 L558.71,187.96 L559.22,190.89 L559.73,193.81 L560.23,195.74 L560.74,197.67 L561.25,199.59 L561.75,201.52 L562.26,203.45 L562.76,205.37 L563.27,207.3 L563.78,209.23 L564.28,211.15 L564.79,212.59 L565.29,214.03 L565.8,215.47 L566.31,216.9 L566.81,218.34 L567.32,219.78 L567.83,221.22 L568.33,222.65 L568.84,224.09 L569.35,225 L569.85,225.9 L570.36,226.81 L570.86,227.71 L571.37,228.61 L571.88,229.52 L572.38,230.42 L572.89,231.33 L573.39,232.23 L573.9,232.76 L574.41,233.18 L574.91,233.61 L575.42,234.04 L575.93,234.46 L576.43,234.89 L576.94,235.31 L577.43,233.88 L577.92,232.48 L578.41,231.09 L578.9,229.7 L579.38,228.3 L579.87,226.91 L580.36,224.8 L580.85,221.61 L581.34,218.42 L581.83,215.24 L582.31,212.05 L582.8,208.86 L583.29,205.67 L583.78,201.68 L584.27,197.16 L584.76,192.63 L585.25,188.11 L585.73,183.58 L586.22,179.06 L586.71,174.53 L587.2,170.28 L587.69,166.09 L588.18,161.9 L588.66,157.72 L589.15,153.53 L589.64,149.34 L590.13,145.15 L590.62,142.31 L591.11,139.46 L591.59,136.61 L592.08,133.76 L592.57,130.91 L593.06,128.06 L593.55,125.54 L594.04,124.36 L594.53,123.17 L595.01,121.98 L595.5,120.8 L595.99,119.61 L596.48,118.42 L596.97,117.66 L597.46,117.53 L597.94,117.41 L598.43,117.29 L598.93,117.03 L599.44,117.98 L599.94,119.24 L600.44,120.5 L600.94,121.76 L601.45,123.97 L601.95,127.58 L602.45,131.19 L602.95,134.81 L603.46,138.42 L603.96,142.03 L604.46,145.65 L604.97,148.73 L605.47,151.47 L605.97,154.2 L606.47,156.93 L606.98,159.67 L607.48,162.4 L607.98,165.13 L608.49,167.87 L608.99,170.6 L609.49,173.67 L609.99,176.96 L610.5,180.25 L611,183.54 L611.5,186.83 L612.01,190.12 L612.51,193.41 L613.01,195.44 L613.51,197.17 L614.02,198.89 L614.52,200.61 L615.02,202.33 L615.53,204.06 L616.03,205.78 L616.53,207.5 L617.03,209.22 L617.54,210.72 L618.04,212.17 L618.54,213.61 L619.05,215.06 L619.55,216.5 L620.05,217.95 L620.55,219.39 L621.06,220.84 L621.56,222.28 L622.06,223.56 L622.57,224.74 L623.07,225.91 L623.57,227.08 L624.07,228.25 L624.58,229.42 L625.08,230.6 L625.58,231.77 L626.09,232.94 L626.59,234.11 L627.09,235.28 L627.59,236.3 L628.1,237.07 L628.6,237.85" stroke="#ff0000" stroke-width="1"/>
<path d="M68.4,236 L72,245 L76,250 L82.1,252.6 L85.4,249 L88.6,239.4 L91.8,229.7 L94.4,220 L98.6,194.8 L102.9,189.5 L109.4,188 L115.8,189.5 L120.1,197 L125.5,209.9 L130.9,222.8 L136.2,229.2 L140.5,231 L143.8,227.1 L147,212 L151.3,200.2 L154.5,199.1 L158.8,201.7 L164.2,201.3 L168.5,199.1 L172.8,203.4 L178.2,207.7 L182.5,208.8 L186.8,212 L190,213.1 L195,214 L200,216 L204.7,217.8 L211.8,229.6 L217.8,239.6 L220.1,240.8 L226,247.3 L232,255.6 L236.7,262.7 L241.4,267.5 L247.3,275.1 L252.1,273.4 L256.8,265.1 L261.5,259.2 L266.3,260.4 L270,261.9 L277.4,265.6 L284.9,275.5 L292.3,285.4 L297.2,291.6 L302.2,296.6 L305.9,297.8 L310.8,283 L315.8,268.1 L320.7,260.7 L324.5,263.2 L329.4,259.5 L334.4,257 L338.1,263.2 L344.3,268.1 L350.4,274.3 L356.6,280.5 L362.8,270.6 L365,265.6 L368.7,250.8 L373.7,245.8 L378.6,244.6 L383.6,243.4 L388.5,242.1 L392.2,248.3 L397.2,254.5 L402.1,259.5 L407.1,264.4 L413.3,269.4 L418.2,265.6 L423.2,254.5 L429.4,252 L434.3,252 L439.3,250.8 L443,249.6 L447.9,257 L452.9,265.6 L457.8,271.8 L461.5,274.3 L465,274.3 L467.4,277.5 L472.4,260.7 L477.3,250.8 L483.5,247.1 L487.2,250.8 L492.2,255.7 L499.6,257 L505.8,264.4 L513.2,270.6 L519.4,278 L525.6,264.4 L531.8,253.3 L539.2,250.8 L544.2,257 L550,255.9 L554.5,262.7 L559,268.4 L563.6,274 L569.2,279.7 L574.9,283.5 L579.4,278.5 L583.9,269.5 L588.4,262.3 L592.9,264.5 L597.5,266.1 L603.1,267.2 L608.8,269.5 L613.3,270.6 L617.8,274 L622.3,277.4 L626.8,279.7" stroke="#00ee00" stroke-width="2"/>
<path d="M68.4,234 L70,240 L72.5,247.1 L75,252.5 L77.6,257.4 L80,259.8 L82.1,260.6 L84,259.6 L85.4,257.4 L88,249 L90.5,236.1 L92.5,220 L95,190 L98,150 L100.5,118 L102.5,95 L104.5,77 L106.75,66.5 L107.2,64 L110.4,83 L112.6,104.5 L115.8,126 L119,147.5 L122.3,164.7 L125.5,177.6 L129.8,188.4 L133,198.1 L136.2,207.7 L139.5,216.5 L142.7,209.9 L144.8,190.5 L147,169 L149.1,136.8 L151.3,104.5 L154.5,72.3 L157.7,57.2 L159.9,51.8 L163.1,59.4 L165.3,72.3 L168.5,104.5 L171.7,130.3 L174.9,147.5 L178.2,162.6 L182.5,175.5 L186.8,184.1 L190,188.4 L194.25,190 L197,182 L200,162 L203,146 L205.5,136 L209,125 L214.25,118.75 L217,124 L220,140 L223,157 L226,178 L228.5,200 L233.1,223.7 L237.9,245 L242.6,253.3 L247.3,258 L250.9,256.8 L253.3,247.3 L255.6,229.6 L258.6,200 L261.5,172 L264.5,148 L267,135 L270.25,130 L272.5,140 L275,154.3 L278.7,179 L282.4,203.8 L286.1,226 L289.8,243.4 L294.8,263.2 L299.7,278 L302.2,285.4 L304.7,278 L307.1,253.3 L309.6,228.5 L312.1,198.8 L314.6,171.6 L318.3,134.5 L322,112.2 L324.5,104.8 L328.2,114.7 L330.6,134.5 L333.1,159.2 L335.6,184 L339.3,208.7 L344.3,228.5 L349.2,248.3 L354.2,260.7 L356.6,265.6 L360.3,258.2 L365,223.6 L368.7,179 L372.4,136.9 L376.1,114.7 L378.6,110.9 L381.1,117.1 L384.8,144.4 L388.5,171.6 L392.2,193.9 L395.9,213.7 L399.7,228.5 L403.4,240.9 L407.1,253.3 L410.8,260.7 L412.5,261.9 L414.5,258.2 L417,240.9 L419.5,208.7 L421.9,174.1 L425.6,139.4 L429.4,122.1 L433.1,115.9 L436.8,124.6 L440.5,149.3 L444.2,179 L447.9,203.8 L451.6,223.6 L456.6,240.9 L461.5,253.3 L465,259.5 L466.2,259.8 L469.9,238.4 L473.6,203.8 L477.3,166.6 L481,132 L484.8,112.2 L488.5,103.5 L492.2,114.7 L495.9,141.9 L499.6,171.6 L503.3,196.3 L508.3,218.6 L513.2,238.4 L519.4,259.5 L523.1,250.8 L526.8,223.6 L530.5,186.4 L534.3,151.8 L538,127 L541.2,119.6 L545.4,129.5 L550,167.8 L554.5,194.9 L557.9,215.3 L562.4,233.3 L566.9,246.9 L571.5,255.9 L574.9,259.3 L578.2,249.2 L581.6,226.6 L585,194.9 L588.4,165.5 L591.8,145.2 L595.2,136.2 L597.5,135 L599.7,140.7 L603.1,165.5 L607.6,190.4 L611,213 L615.5,228.8 L620.1,242.4 L625.7,255.9 L627,258" stroke="#ff0000" stroke-width="2"/>
<line x1="68.4" y1="142" x2="86.6" y2="142" stroke="#ff0000" stroke-width="1"/>
<line x1="86.6" y1="48.25" x2="113.8" y2="48.25" stroke="#ff0000" stroke-width="1"/>
<line x1="113.8" y1="107" x2="141" y2="107" stroke="#ff0000" stroke-width="1"/>
<line x1="141" y1="35.25" x2="168.2" y2="35.25" stroke="#ff0000" stroke-width="1"/>
<line x1="168.2" y1="103.25" x2="195.5" y2="103.25" stroke="#ff0000" stroke-width="1"/>
<line x1="195.5" y1="106" x2="222.7" y2="106" stroke="#ff0000" stroke-width="1"/>
<line x1="222.7" y1="165.5" x2="249.9" y2="165.5" stroke="#ff0000" stroke-width="1"/>
<line x1="249.9" y1="117.25" x2="277.1" y2="117.25" stroke="#ff0000" stroke-width="1"/>
<line x1="277.1" y1="171.25" x2="304.3" y2="171.25" stroke="#ff0000" stroke-width="1"/>
<line x1="304.3" y1="87.25" x2="331.5" y2="87.25" stroke="#ff0000" stroke-width="1"/>
<line x1="331.5" y1="149.25" x2="358.8" y2="149.25" stroke="#ff0000" stroke-width="1"/>
<line x1="358.8" y1="88.75" x2="386" y2="88.75" stroke="#ff0000" stroke-width="1"/>
<line x1="386" y1="152.5" x2="413.2" y2="152.5" stroke="#ff0000" stroke-width="1"/>
<line x1="413.2" y1="100" x2="440.4" y2="100" stroke="#ff0000" stroke-width="1"/>
<line x1="440.4" y1="153.5" x2="467.6" y2="153.5" stroke="#ff0000" stroke-width="1"/>
<line x1="467.6" y1="84.25" x2="494.8" y2="84.25" stroke="#ff0000" stroke-width="1"/>
<line x1="494.8" y1="143.25" x2="522" y2="143.25" stroke="#ff0000" stroke-width="1"/>
<line x1="522" y1="106" x2="549.3" y2="106" stroke="#ff0000" stroke-width="1"/>
<line x1="549.3" y1="160.5" x2="576.5" y2="160.5" stroke="#ff0000" stroke-width="1"/>
<line x1="576.5" y1="135.3" x2="603.7" y2="135.3" stroke="#ff0000" stroke-width="1"/>
<line x1="68.4" y1="275.3" x2="86.6" y2="275.3" stroke="#0000ff" stroke-width="1"/>
<line x1="86.6" y1="269.4" x2="113.8" y2="269.4" stroke="#0000ff" stroke-width="1"/>
<line x1="113.8" y1="231.5" x2="141" y2="231.5" stroke="#0000ff" stroke-width="1"/>
<line x1="141" y1="228.75" x2="168.2" y2="228.75" stroke="#0000ff" stroke-width="1"/>
<line x1="168.2" y1="204.4" x2="222.7" y2="204.4" stroke="#0000ff" stroke-width="1"/>
<line x1="222.7" y1="272.4" x2="249.9" y2="272.4" stroke="#0000ff" stroke-width="1"/>
<line x1="249.9" y1="269.4" x2="277.1" y2="269.4" stroke="#0000ff" stroke-width="1"/>
<line x1="277.1" y1="301.4" x2="304.3" y2="301.4" stroke="#0000ff" stroke-width="1"/>
<line x1="304.3" y1="298.25" x2="331.5" y2="298.25" stroke="#0000ff" stroke-width="1"/>
<line x1="331.5" y1="278.25" x2="386" y2="278.25" stroke="#0000ff" stroke-width="1"/>
<line x1="386" y1="276.25" x2="413.2" y2="276.25" stroke="#0000ff" stroke-width="1"/>
<line x1="413.2" y1="273.4" x2="467.6" y2="273.4" stroke="#0000ff" stroke-width="1"/>
<line x1="467.6" y1="269.4" x2="494.8" y2="269.4" stroke="#0000ff" stroke-width="1"/>
<line x1="494.8" y1="270.5" x2="522" y2="270.5" stroke="#0000ff" stroke-width="1"/>
<line x1="522" y1="267.75" x2="549.3" y2="267.75" stroke="#0000ff" stroke-width="1"/>
<line x1="549.3" y1="272.5" x2="603.7" y2="272.5" stroke="#0000ff" stroke-width="1"/>
</g>
<rect x="68.4" y="24.6" width="557.9" height="287" fill="none" stroke="#000" stroke-width="1"/>
<line x1="63.4" y1="27.9" x2="68.4" y2="27.9" stroke="#000" stroke-width="1"/>
<text x="0" y="0" transform="translate(56.1,27.9) rotate(-90)" font-size="7.5" text-anchor="middle">20</text>
<line x1="63.4" y1="100.2" x2="68.4" y2="100.2" stroke="#000" stroke-width="1"/>
<text x="0" y="0" transform="translate(56.1,100.2) rotate(-90)" font-size="7.5" text-anchor="middle">15</text>
<line x1="63.4" y1="172.5" x2="68.4" y2="172.5" stroke="#000" stroke-width="1"/>
<text x="0" y="0" transform="translate(56.1,172.5) rotate(-90)" font-size="7.5" text-anchor="middle">10</text>
<line x1="63.4" y1="244.8" x2="68.4" y2="244.8" stroke="#000" stroke-width="1"/>
<text x="0" y="0" transform="translate(56.1,244.8) rotate(-90)" font-size="7.5" text-anchor="middle">5</text>
<text x="0" y="0" transform="translate(14,168.4) rotate(-90)" font-size="12.3" text-anchor="middle">temperatures</text>
<text x="0" y="0" transform="translate(29.4,168.4) rotate(-90)" font-size="12.3" text-anchor="middle">[degrees C]</text>
<g clip-path="url(#c1)">
<rect x="68.4" y="313.6" width="4.1" height="142.8" fill="#f0f0f0"/>
<rect x="126.93" y="313.6" width="54.43" height="142.8" fill="#f0f0f0"/>
<rect x="235.79" y="313.6" width="54.43" height="142.8" fill="#f0f0f0"/>
<rect x="344.65" y="313.6" width="54.43" height="142.8" fill="#f0f0f0"/>
<rect x="453.51" y="313.6" width="54.43" height="142.8" fill="#f0f0f0"/>
<rect x="562.37" y="313.6" width="54.43" height="142.8" fill="#f0f0f0"/>
<line x1="73" y1="313.6" x2="73" y2="456.4" stroke="#6e6e6e" stroke-width="1" stroke-dasharray="3,3"/>
<line x1="127.43" y1="313.6" x2="127.43" y2="456.4" stroke="#6e6e6e" stroke-width="1" stroke-dasharray="3,3"/>
<line x1="181.86" y1="313.6" x2="181.86" y2="456.4" stroke="#6e6e6e" stroke-width="1" stroke-dasharray="3,3"/>
<line x1="236.29" y1="313.6" x2="236.29" y2="456.4" stroke="#6e6e6e" stroke-width="1" stroke-dasharray="3,3"/>
<line x1="290.72" y1="313.6" x2="290.72" y2="456.4" stroke="#6e6e6e" stroke-width="1" stroke-dasharray="3,3"/>
<line x1="345.15" y1="313.6" x2="345.15" y2="456.4" stroke="#6e6e6e" stroke-width="1" stroke-dasharray="3,3"/>
<line x1="399.58" y1="313.6" x2="399.58" y2="456.4" stroke="#6e6e6e" stroke-width="1" stroke-dasharray="3,3"/>
<line x1="454.01" y1="313.6" x2="454.01" y2="456.4" stroke="#6e6e6e" stroke-width="1" stroke-dasharray="3,3"/>
<line x1="508.44" y1="313.6" x2="508.44" y2="456.4" stroke="#6e6e6e" stroke-width="1" stroke-dasharray="3,3"/>
<line x1="562.87" y1="313.6" x2="562.87" y2="456.4" stroke="#6e6e6e" stroke-width="1" stroke-dasharray="3,3"/>
<line x1="617.3" y1="313.6" x2="617.3" y2="456.4" stroke="#6e6e6e" stroke-width="1" stroke-dasharray="3,3"/>
<line x1="100.22" y1="313.6" x2="100.22" y2="456.4" stroke="#c4c4c4" stroke-width="1" stroke-dasharray="2.6,3.4"/>
<line x1="154.65" y1="313.6" x2="154.65" y2="456.4" stroke="#c4c4c4" stroke-width="1" stroke-dasharray="2.6,3.4"/>
<line x1="209.08" y1="313.6" x2="209.08" y2="456.4" stroke="#c4c4c4" stroke-width="1" stroke-dasharray="2.6,3.4"/>
<line x1="263.5" y1="313.6" x2="263.5" y2="456.4" stroke="#c4c4c4" stroke-width="1" stroke-dasharray="2.6,3.4"/>
<line x1="317.94" y1="313.6" x2="317.94" y2="456.4" stroke="#c4c4c4" stroke-width="1" stroke-dasharray="2.6,3.4"/>
<line x1="372.36" y1="313.6" x2="372.36" y2="456.4" stroke="#c4c4c4" stroke-width="1" stroke-dasharray="2.6,3.4"/>
<line x1="426.79" y1="313.6" x2="426.79" y2="456.4" stroke="#c4c4c4" stroke-width="1" stroke-dasharray="2.6,3.4"/>
<line x1="481.22" y1="313.6" x2="481.22" y2="456.4" stroke="#c4c4c4" stroke-width="1" stroke-dasharray="2.6,3.4"/>
<line x1="535.65" y1="313.6" x2="535.65" y2="456.4" stroke="#c4c4c4" stroke-width="1" stroke-dasharray="2.6,3.4"/>
<line x1="590.09" y1="313.6" x2="590.09" y2="456.4" stroke="#c4c4c4" stroke-width="1" stroke-dasharray="2.6,3.4"/>
<line x1="68.4" y1="337.5" x2="626.3" y2="337.5" stroke="#a2a2a2" stroke-width="1" stroke-dasharray="3.7,2.3"/>
<line x1="68.4" y1="361.28" x2="626.3" y2="361.28" stroke="#a2a2a2" stroke-width="1" stroke-dasharray="3.7,2.3"/>
<line x1="68.4" y1="385.06" x2="626.3" y2="385.06" stroke="#a2a2a2" stroke-width="1" stroke-dasharray="3.7,2.3"/>
<line x1="68.4" y1="408.84" x2="626.3" y2="408.84" stroke="#a2a2a2" stroke-width="1" stroke-dasharray="3.7,2.3"/>
<line x1="68.4" y1="432.62" x2="626.3" y2="432.62" stroke="#a2a2a2" stroke-width="1" stroke-dasharray="3.7,2.3"/>
<path d="M68.4,414.2 L69.3,414.2 L71.2,411.6 L73.8,400.6 L77,389 L80.3,381.3 L84.1,375.5 L86.7,377.4 L88.6,367.1 L91.2,366.5 L93.8,368.4 L95.7,371 L100,380 L105,388 L109.3,394.2 L111.2,382.6 L114.5,378.7 L117,371 L120.3,360.6 L122.8,361.3 L125.4,359.4 L128.6,359.4 L131.9,356.1 L134.5,358.1 L137.7,368.4 L140.9,381.3 L144.1,383.9 L146.1,387.7 L150,392 L160,398 L166.4,396.5 L168.8,390.3 L171.9,390.3 L174.2,381 L176.5,373.3 L179.6,360.9 L182.7,356.2 L186.6,350.1 L190.4,339.2 L195.1,326.8 L197.4,326.8 L199.7,329.2 L203.6,325.3 L209,321.4 L212.1,330.7 L215.2,333.8 L218.3,335.3 L219.9,341.5 L222.9,348.5 L226.8,350.8 L229.9,353.9 L233.8,357.8 L236.9,359.3 L242,359.4 L251.7,355.5 L258.8,359.4 L263.9,365.8 L267.2,365.2 L269.7,367.7 L272.3,371.6 L274.9,369.7 L277.5,377.4 L280.7,386.5 L284,393 L286.5,392.3 L289.1,394.2 L291.7,393 L294.3,388.4 L297.5,381.3 L300.7,385.8 L303.3,384.5 L306.5,378.7 L308.8,375.5 L310.4,380 L320,378 L327,379.5 L330,378.7 L332.6,382.6 L335.8,389.7 L339.7,390.3 L342.9,391.6 L344.8,385.8 L348.1,381.9 L350.6,380 L353.9,374.2 L356.5,365.8 L359.7,363.2 L362.9,365.8 L365.5,367.1 L367.4,373.5 L379,379.4 L381.6,378.7 L385.5,376.8 L389.4,380 L393.2,381.9 L396.5,382.6 L399.7,380 L403.5,375.5 L407.4,370.3 L410.6,369 L413.9,365.2 L416,365.1 L418.9,365.9 L421,370.2 L422.5,375.9 L430,378 L434.7,379.5 L437.6,378.1 L439,378.8 L441.1,386 L444.7,388.1 L448.3,389.6 L451.9,393.2 L454.1,395.3 L457.7,391.7 L462,388.1 L466.3,383.8 L469.9,379.5 L471.3,378.8 L480,380 L490,383.1 L492.9,379.5 L496.5,381.7 L499.3,382.4 L502.2,380.9 L504.4,388.1 L510,393.4 L513.4,391.7 L517.8,388.3 L520.3,381.4 L523.8,378.8 L527.2,375.3 L529,376.2 L530.7,380.5 L537,383 L543.6,384 L547.9,383.1 L553.1,383.1 L558.3,382.2 L560.9,387.4 L563.4,386.6 L566,385.2 L569.5,385.7 L572.9,382.2 L577.2,379.7 L581.6,376.2 L584.1,378.8 L590,379 L597.1,378.8 L598.8,377.1 L601.4,371.9 L604.8,372.8 L609.1,373.6 L613.4,375.3 L617.8,374.5 L622.1,375.3 L625.5,373.6 L626.5,373.4 L626.3,457.4 L68.4,457.4 Z" fill="#000" fill-opacity="0.098"/>
<path d="M68.4,425.5 L68.6,425.2 L70.6,427.1 L73.8,414.8 L77,400.6 L80.9,391.6 L84.1,388.4 L86.7,381.3 L88.6,378.7 L90.6,378.7 L92.5,376.1 L100,385 L106,393 L111.2,398.7 L114.5,391.6 L117.7,383.9 L120.9,381.3 L123.5,379.4 L126.7,380 L129.9,374.8 L132.5,369.7 L135.1,371 L138.3,377.4 L140.9,382.6 L144.1,384.5 L146.1,388.4 L155,398 L166.4,406.6 L168.8,400.4 L171.9,393.4 L175,382.6 L179.6,368.6 L184.2,360.9 L188.9,351.6 L193.5,349.3 L197.4,342.3 L199.7,347.7 L203.6,343.9 L209,342.3 L212.9,344.6 L216.8,343.1 L219.1,342.3 L222.9,348.5 L226.8,350.8 L229.9,353.9 L233.8,357.8 L236.9,359.3 L242,359.4 L251.7,355.5 L258.8,359.4 L263.3,368.4 L267.8,373.5 L273,380 L278.1,388.4 L283.3,394.2 L290.4,400.6 L293.6,396.8 L298.8,393 L303.3,391 L306.5,386.5 L309.1,382.6 L318,385 L330,387.7 L333.2,392.9 L336.5,398.1 L339,401.9 L341,400.6 L342.9,404.5 L345.5,398.1 L348.1,391.6 L351.3,385.8 L353.9,383.2 L355.8,374.8 L357.7,369.7 L361,368.4 L362.9,373.5 L365.5,376.1 L381.6,385.2 L384.2,383.9 L387.4,386.5 L390.6,390.3 L394.5,386.5 L399.7,384.5 L403.5,381.3 L407.4,378.1 L410.6,374.2 L413.9,369.7 L416,369.5 L418.9,370.2 L422,376 L430,385 L434.7,388.1 L437.6,388.9 L441.1,393.2 L444.7,398.9 L446.9,394.6 L449.8,400.3 L452.6,397.5 L454.8,397.5 L457.7,395.3 L462,393.9 L465.6,391 L468.4,393.2 L471.3,392.4 L480,396 L490,401.8 L492.1,396.8 L496.5,395.3 L499.3,393.9 L502.2,392.4 L504.4,396 L507.2,400.3 L510,398.6 L513.4,395.2 L517.8,392.6 L521.2,389.1 L524.7,384 L527.2,379.7 L529.8,381.4 L537,385 L544.5,388.3 L548.8,390.9 L553.1,391.7 L557.4,392.6 L561.7,395.2 L565.2,391.7 L569.5,389.1 L573.8,386.6 L578.1,383.1 L581.6,378.8 L590,382 L597.1,385.7 L598.8,382.2 L600.5,374.5 L605.7,374.5 L610,375.3 L614.3,376.2 L618.6,375.3 L622.1,376.2 L625.5,374.5 L626.5,374.3 L626.3,457.4 L68.4,457.4 Z" fill="#000" fill-opacity="0.083"/>
<path d="M68.4,414.2 L69.3,414.2 L71.2,411.6 L73.8,400.6 L77,389 L80.3,381.3 L84.1,375.5 L86.7,377.4 L88.6,367.1 L91.2,366.5 L93.8,368.4 L95.7,371 L100,380 L105,388 L109.3,394.2 L111.2,382.6 L114.5,378.7 L117,371 L120.3,360.6 L122.8,361.3 L125.4,359.4 L128.6,359.4 L131.9,356.1 L134.5,358.1 L137.7,368.4 L140.9,381.3 L144.1,383.9 L146.1,387.7 L150,392 L160,398 L166.4,396.5 L168.8,390.3 L171.9,390.3 L174.2,381 L176.5,373.3 L179.6,360.9 L182.7,356.2 L186.6,350.1 L190.4,339.2 L195.1,326.8 L197.4,326.8 L199.7,329.2 L203.6,325.3 L209,321.4 L212.1,330.7 L215.2,333.8 L218.3,335.3 L219.9,341.5 L222.9,348.5 L226.8,350.8 L229.9,353.9 L233.8,357.8 L236.9,359.3 L242,359.4 L251.7,355.5 L258.8,359.4 L263.9,365.8 L267.2,365.2 L269.7,367.7 L272.3,371.6 L274.9,369.7 L277.5,377.4 L280.7,386.5 L284,393 L286.5,392.3 L289.1,394.2 L291.7,393 L294.3,388.4 L297.5,381.3 L300.7,385.8 L303.3,384.5 L306.5,378.7 L308.8,375.5 L310.4,380 L320,378 L327,379.5 L330,378.7 L332.6,382.6 L335.8,389.7 L339.7,390.3 L342.9,391.6 L344.8,385.8 L348.1,381.9 L350.6,380 L353.9,374.2 L356.5,365.8 L359.7,363.2 L362.9,365.8 L365.5,367.1 L367.4,373.5 L379,379.4 L381.6,378.7 L385.5,376.8 L389.4,380 L393.2,381.9 L396.5,382.6 L399.7,380 L403.5,375.5 L407.4,370.3 L410.6,369 L413.9,365.2 L416,365.1 L418.9,365.9 L421,370.2 L422.5,375.9 L430,378 L434.7,379.5 L437.6,378.1 L439,378.8 L441.1,386 L444.7,388.1 L448.3,389.6 L451.9,393.2 L454.1,395.3 L457.7,391.7 L462,388.1 L466.3,383.8 L469.9,379.5 L471.3,378.8 L480,380 L490,383.1 L492.9,379.5 L496.5,381.7 L499.3,382.4 L502.2,380.9 L504.4,388.1 L510,393.4 L513.4,391.7 L517.8,388.3 L520.3,381.4 L523.8,378.8 L527.2,375.3 L529,376.2 L530.7,380.5 L537,383 L543.6,384 L547.9,383.1 L553.1,383.1 L558.3,382.2 L560.9,387.4 L563.4,386.6 L566,385.2 L569.5,385.7 L572.9,382.2 L577.2,379.7 L581.6,376.2 L584.1,378.8 L590,379 L597.1,378.8 L598.8,377.1 L601.4,371.9 L604.8,372.8 L609.1,373.6 L613.4,375.3 L617.8,374.5 L622.1,375.3 L625.5,373.6 L626.5,373.4" fill="none" stroke="#444" stroke-width="1"/>
<path d="M68.4,425.5 L68.6,425.2 L70.6,427.1 L73.8,414.8 L77,400.6 L80.9,391.6 L84.1,388.4 L86.7,381.3 L88.6,378.7 L90.6,378.7 L92.5,376.1 L100,385 L106,393 L111.2,398.7 L114.5,391.6 L117.7,383.9 L120.9,381.3 L123.5,379.4 L126.7,380 L129.9,374.8 L132.5,369.7 L135.1,371 L138.3,377.4 L140.9,382.6 L144.1,384.5 L146.1,388.4 L155,398 L166.4,406.6 L168.8,400.4 L171.9,393.4 L175,382.6 L179.6,368.6 L184.2,360.9 L188.9,351.6 L193.5,349.3 L197.4,342.3 L199.7,347.7 L203.6,343.9 L209,342.3 L212.9,344.6 L216.8,343.1 L219.1,342.3 L222.9,348.5 L226.8,350.8 L229.9,353.9 L233.8,357.8 L236.9,359.3 L242,359.4 L251.7,355.5 L258.8,359.4 L263.3,368.4 L267.8,373.5 L273,380 L278.1,388.4 L283.3,394.2 L290.4,400.6 L293.6,396.8 L298.8,393 L303.3,391 L306.5,386.5 L309.1,382.6 L318,385 L330,387.7 L333.2,392.9 L336.5,398.1 L339,401.9 L341,400.6 L342.9,404.5 L345.5,398.1 L348.1,391.6 L351.3,385.8 L353.9,383.2 L355.8,374.8 L357.7,369.7 L361,368.4 L362.9,373.5 L365.5,376.1 L381.6,385.2 L384.2,383.9 L387.4,386.5 L390.6,390.3 L394.5,386.5 L399.7,384.5 L403.5,381.3 L407.4,378.1 L410.6,374.2 L413.9,369.7 L416,369.5 L418.9,370.2 L422,376 L430,385 L434.7,388.1 L437.6,388.9 L441.1,393.2 L444.7,398.9 L446.9,394.6 L449.8,400.3 L452.6,397.5 L454.8,397.5 L457.7,395.3 L462,393.9 L465.6,391 L468.4,393.2 L471.3,392.4 L480,396 L490,401.8 L492.1,396.8 L496.5,395.3 L499.3,393.9 L502.2,392.4 L504.4,396 L507.2,400.3 L510,398.6 L513.4,395.2 L517.8,392.6 L521.2,389.1 L524.7,384 L527.2,379.7 L529.8,381.4 L537,385 L544.5,388.3 L548.8,390.9 L553.1,391.7 L557.4,392.6 L561.7,395.2 L565.2,391.7 L569.5,389.1 L573.8,386.6 L578.1,383.1 L581.6,378.8 L590,382 L597.1,385.7 L598.8,382.2 L600.5,374.5 L605.7,374.5 L610,375.3 L614.3,376.2 L618.6,375.3 L622.1,376.2 L625.5,374.5 L626.5,374.3" fill="none" stroke="#444" stroke-width="1"/>
<path d="M86.75,456.4 L86.75,429.5 L89.02,429.5 L89.02,411.5 L91.29,411.5 L91.29,392 L93.55,392 L93.55,373.25 L95.82,373.25 L95.82,358.25 L98.09,358.25 L98.09,347 L100.36,347 L100.36,345 L102.63,345 L102.63,345 L104.89,345 L104.89,352 L107.16,352 L107.16,365.75 L109.43,365.75 L109.43,399.5 L111.7,399.5 L111.7,456.4 Z" fill="#ffa500"/>
<path d="M141,456.4 L141,434.5 L143.27,434.5 L143.27,417 L145.54,417 L145.54,398.25 L147.8,398.25 L147.8,379.5 L150.07,379.5 L150.07,349.5 L152.34,349.5 L152.34,340.75 L154.61,340.75 L154.61,341.5 L156.88,341.5 L156.88,349.5 L159.14,349.5 L159.14,365.75 L161.41,365.75 L161.41,379.5 L163.68,379.5 L163.68,397 L165.95,397 L165.95,456.4 Z" fill="#ffa500"/>
<path d="M195,456.4 L195,447 L197.27,447 L197.27,433.25 L199.54,433.25 L199.54,419.5 L201.8,419.5 L201.8,410.75 L204.07,410.75 L204.07,404.5 L206.34,404.5 L206.34,408.25 L208.61,408.25 L208.61,407 L210.88,407 L210.88,408.25 L213.14,408.25 L213.14,415.75 L215.41,415.75 L215.41,425.75 L217.68,425.75 L217.68,434.5 L219.95,434.5 L219.95,456.4 Z" fill="#ffa500"/>
<path d="M250,456.4 L250,440 L252.27,440 L252.27,428.25 L254.54,428.25 L254.54,412 L256.8,412 L256.8,399.5 L259.07,399.5 L259.07,392 L261.34,392 L261.34,390 L263.61,390 L263.61,390.75 L265.88,390.75 L265.88,385.75 L268.14,385.75 L268.14,383.25 L270.41,383.25 L270.41,390 L272.68,390 L272.68,412 L274.95,412 L274.95,456.4 Z" fill="#ffa500"/>
<path d="M304,456.4 L304,433.25 L306.27,433.25 L306.27,409.5 L308.54,409.5 L308.54,389.5 L310.8,389.5 L310.8,369.5 L313.07,369.5 L313.07,357 L315.34,357 L315.34,354.5 L317.61,354.5 L317.61,352 L319.88,352 L319.88,349.5 L322.14,349.5 L322.14,354.5 L324.41,354.5 L324.41,378.25 L326.68,378.25 L326.68,402 L328.95,402 L328.95,456.4 Z" fill="#ffa500"/>
<path d="M359,456.4 L359,435.75 L361.27,435.75 L361.27,414.5 L363.54,414.5 L363.54,392 L365.8,392 L365.8,374.5 L368.07,374.5 L368.07,373.25 L370.34,373.25 L370.34,371.5 L372.61,371.5 L372.61,370.75 L374.88,370.75 L374.88,371.5 L377.14,371.5 L377.14,377 L379.41,377 L379.41,385.75 L381.68,385.75 L381.68,412 L383.95,412 L383.95,456.4 Z" fill="#ffa500"/>
<path d="M410.9,456.4 L410.9,451.9 L413.1,451.9 L413.1,436.9 L416.1,436.9 L416.1,415.9 L418.1,415.9 L418.1,397.1 L420.1,397.1 L420.1,387.1 L422.2,387.1 L422.2,378.1 L425.1,378.1 L425.1,372.9 L428.1,372.9 L428.1,372.9 L431,372.9 L431,378.1 L434,378.1 L434,390.1 L436,390.1 L436,413.8 L437.8,413.8 L437.8,456.4 Z" fill="#ffa500"/>
<path d="M466,456.4 L466,449.5 L468.27,449.5 L468.27,429.5 L470.54,429.5 L470.54,399.5 L472.8,399.5 L472.8,378.25 L475.07,378.25 L475.07,368.25 L477.34,368.25 L477.34,365.75 L479.61,365.75 L479.61,373.25 L481.88,373.25 L481.88,365.75 L484.14,365.75 L484.14,365.75 L486.41,365.75 L486.41,368.25 L488.68,368.25 L488.68,383.25 L490.95,383.25 L490.95,412 L493.22,412 L493.22,439.5 L495.48,439.5 L495.48,456.4 Z" fill="#ffa500"/>
<path d="M519.75,456.4 L519.75,449.5 L522.02,449.5 L522.02,432 L524.29,432 L524.29,412 L526.55,412 L526.55,393.25 L528.82,393.25 L528.82,382 L531.09,382 L531.09,378.25 L533.36,378.25 L533.36,372 L535.63,372 L535.63,365.75 L537.89,365.75 L537.89,372 L540.16,372 L540.16,378.25 L542.43,378.25 L542.43,387 L544.7,387 L544.7,408.25 L546.97,408.25 L546.97,435.75 L549.23,435.75 L549.23,456.4 Z" fill="#ffa500"/>
<path d="M574.1,456.4 L574.1,449 L576.8,449 L576.8,433.1 L579,433.1 L579,411.1 L581.1,411.1 L581.1,392 L584.1,392 L584.1,379.9 L586.5,379.9 L586.5,376.7 L588.7,376.7 L588.7,376.1 L592.4,376.1 L592.4,379.4 L595.1,379.4 L595.1,381 L597,381 L597,390.1 L599.2,390.1 L599.2,411.1 L602.1,411.1 L602.1,435.1 L603.9,435.1 L603.9,456.4 Z" fill="#ffa500"/>
<text x="59.39" y="323.7" font-size="7.5" text-anchor="middle">15.8h/d</text>
<text x="113.82" y="323.7" font-size="7.5" text-anchor="middle">15.2h/d</text>
<text x="168.25" y="323.7" font-size="7.5" text-anchor="middle">18.2h/d</text>
<text x="222.68" y="323.7" font-size="7.5" text-anchor="middle">8.0h/d</text>
<text x="277.11" y="323.7" font-size="7.5" text-anchor="middle">12.8h/d</text>
<text x="331.54" y="323.7" font-size="7.5" text-anchor="middle">17.0h/d</text>
<text x="385.97" y="323.7" font-size="7.5" text-anchor="middle">15.5h/d</text>
<text x="440.4" y="323.7" font-size="7.5" text-anchor="middle">15.8h/d</text>
<text x="494.83" y="323.7" font-size="7.5" text-anchor="middle">17.2h/d</text>
<text x="549.26" y="323.7" font-size="7.5" text-anchor="middle">15.8h/d</text>
</g>
<rect x="68.4" y="313.6" width="557.9" height="142.8" fill="none" stroke="#000" stroke-width="1"/>
<line x1="63.4" y1="313.72" x2="68.4" y2="313.72" stroke="#000" stroke-width="1"/>
<text x="0" y="0" transform="translate(56.1,313.72) rotate(-90)" font-size="7.5" text-anchor="middle">60</text>
<line x1="63.4" y1="337.5" x2="68.4" y2="337.5" stroke="#000" stroke-width="1"/>
<text x="0" y="0" transform="translate(56.1,337.5) rotate(-90)" font-size="7.5" text-anchor="middle">50</text>
<line x1="63.4" y1="361.28" x2="68.4" y2="361.28" stroke="#000" stroke-width="1"/>
<text x="0" y="0" transform="translate(56.1,361.28) rotate(-90)" font-size="7.5" text-anchor="middle">40</text>
<line x1="63.4" y1="385.06" x2="68.4" y2="385.06" stroke="#000" stroke-width="1"/>
<text x="0" y="0" transform="translate(56.1,385.06) rotate(-90)" font-size="7.5" text-anchor="middle">30</text>
<line x1="63.4" y1="408.84" x2="68.4" y2="408.84" stroke="#000" stroke-width="1"/>
<text x="0" y="0" transform="translate(56.1,408.84) rotate(-90)" font-size="7.5" text-anchor="middle">20</text>
<line x1="63.4" y1="432.62" x2="68.4" y2="432.62" stroke="#000" stroke-width="1"/>
<text x="0" y="0" transform="translate(56.1,432.62) rotate(-90)" font-size="7.5" text-anchor="middle">10</text>
<line x1="63.4" y1="456.4" x2="68.4" y2="456.4" stroke="#000" stroke-width="1"/>
<text x="0" y="0" transform="translate(56.1,456.4) rotate(-90)" font-size="7.5" text-anchor="middle">0</text>
<line x1="626.3" y1="427.78" x2="631.3" y2="427.78" stroke="#000" stroke-width="1"/>
<text x="0" y="0" transform="translate(642.9,427.78) rotate(-90)" font-size="7.5" text-anchor="middle">20</text>
<line x1="626.3" y1="399.36" x2="631.3" y2="399.36" stroke="#000" stroke-width="1"/>
<text x="0" y="0" transform="translate(642.9,399.36) rotate(-90)" font-size="7.5" text-anchor="middle">40</text>
<line x1="626.3" y1="370.94" x2="631.3" y2="370.94" stroke="#000" stroke-width="1"/>
<text x="0" y="0" transform="translate(642.9,370.94) rotate(-90)" font-size="7.5" text-anchor="middle">60</text>
<line x1="626.3" y1="342.52" x2="631.3" y2="342.52" stroke="#000" stroke-width="1"/>
<text x="0" y="0" transform="translate(642.9,342.52) rotate(-90)" font-size="7.5" text-anchor="middle">80</text>
<text x="0" y="0" transform="translate(14,384.6) rotate(-90)" font-size="12.3" text-anchor="middle">sunshine duration</text>
<text x="0" y="0" transform="translate(29.4,384.6) rotate(-90)" font-size="12.3" text-anchor="middle">[minutes/hour]</text>
<text x="0" y="0" transform="translate(658.3,384.6) rotate(-90)" font-size="12.3" text-anchor="middle">total/effective cloud</text>
<text x="0" y="0" transform="translate(671.9,384.6) rotate(-90)" font-size="12.3" text-anchor="middle">cover [percent]</text>
<g clip-path="url(#c2)">
<rect x="68.4" y="458.5" width="4.1" height="142.5" fill="#f0f0f0"/>
<rect x="126.93" y="458.5" width="54.43" height="142.5" fill="#f0f0f0"/>
<rect x="235.79" y="458.5" width="54.43" height="142.5" fill="#f0f0f0"/>
<rect x="344.65" y="458.5" width="54.43" height="142.5" fill="#f0f0f0"/>
<rect x="453.51" y="458.5" width="54.43" height="142.5" fill="#f0f0f0"/>
<rect x="562.37" y="458.5" width="54.43" height="142.5" fill="#f0f0f0"/>
<line x1="73" y1="458.5" x2="73" y2="601.0" stroke="#6e6e6e" stroke-width="1" stroke-dasharray="3,3"/>
<line x1="127.43" y1="458.5" x2="127.43" y2="601.0" stroke="#6e6e6e" stroke-width="1" stroke-dasharray="3,3"/>
<line x1="181.86" y1="458.5" x2="181.86" y2="601.0" stroke="#6e6e6e" stroke-width="1" stroke-dasharray="3,3"/>
<line x1="236.29" y1="458.5" x2="236.29" y2="601.0" stroke="#6e6e6e" stroke-width="1" stroke-dasharray="3,3"/>
<line x1="290.72" y1="458.5" x2="290.72" y2="601.0" stroke="#6e6e6e" stroke-width="1" stroke-dasharray="3,3"/>
<line x1="345.15" y1="458.5" x2="345.15" y2="601.0" stroke="#6e6e6e" stroke-width="1" stroke-dasharray="3,3"/>
<line x1="399.58" y1="458.5" x2="399.58" y2="601.0" stroke="#6e6e6e" stroke-width="1" stroke-dasharray="3,3"/>
<line x1="454.01" y1="458.5" x2="454.01" y2="601.0" stroke="#6e6e6e" stroke-width="1" stroke-dasharray="3,3"/>
<line x1="508.44" y1="458.5" x2="508.44" y2="601.0" stroke="#6e6e6e" stroke-width="1" stroke-dasharray="3,3"/>
<line x1="562.87" y1="458.5" x2="562.87" y2="601.0" stroke="#6e6e6e" stroke-width="1" stroke-dasharray="3,3"/>
<line x1="617.3" y1="458.5" x2="617.3" y2="601.0" stroke="#6e6e6e" stroke-width="1" stroke-dasharray="3,3"/>
<line x1="100.22" y1="458.5" x2="100.22" y2="601.0" stroke="#c4c4c4" stroke-width="1" stroke-dasharray="2.6,3.4"/>
<line x1="154.65" y1="458.5" x2="154.65" y2="601.0" stroke="#c4c4c4" stroke-width="1" stroke-dasharray="2.6,3.4"/>
<line x1="209.08" y1="458.5" x2="209.08" y2="601.0" stroke="#c4c4c4" stroke-width="1" stroke-dasharray="2.6,3.4"/>
<line x1="263.5" y1="458.5" x2="263.5" y2="601.0" stroke="#c4c4c4" stroke-width="1" stroke-dasharray="2.6,3.4"/>
<line x1="317.94" y1="458.5" x2="317.94" y2="601.0" stroke="#c4c4c4" stroke-width="1" stroke-dasharray="2.6,3.4"/>
<line x1="372.36" y1="458.5" x2="372.36" y2="601.0" stroke="#c4c4c4" stroke-width="1" stroke-dasharray="2.6,3.4"/>
<line x1="426.79" y1="458.5" x2="426.79" y2="601.0" stroke="#c4c4c4" stroke-width="1" stroke-dasharray="2.6,3.4"/>
<line x1="481.22" y1="458.5" x2="481.22" y2="601.0" stroke="#c4c4c4" stroke-width="1" stroke-dasharray="2.6,3.4"/>
<line x1="535.65" y1="458.5" x2="535.65" y2="601.0" stroke="#c4c4c4" stroke-width="1" stroke-dasharray="2.6,3.4"/>
<line x1="590.09" y1="458.5" x2="590.09" y2="601.0" stroke="#c4c4c4" stroke-width="1" stroke-dasharray="2.6,3.4"/>
<line x1="68.4" y1="486.5" x2="626.3" y2="486.5" stroke="#a2a2a2" stroke-width="1" stroke-dasharray="3.7,2.3"/>
<line x1="68.4" y1="515.2" x2="626.3" y2="515.2" stroke="#a2a2a2" stroke-width="1" stroke-dasharray="3.7,2.3"/>
<line x1="68.4" y1="543.9" x2="626.3" y2="543.9" stroke="#a2a2a2" stroke-width="1" stroke-dasharray="3.7,2.3"/>
<line x1="68.4" y1="572.6" x2="626.3" y2="572.6" stroke="#a2a2a2" stroke-width="1" stroke-dasharray="3.7,2.3"/>
<path d="M68.4,515.7 L71.7,515 L75,516.4 L80,519.7 L83.3,517.4 L88.3,511.7 L93.3,513 L96.7,517.4 L100,525.7 L103.3,534 L109.3,540.7 L115,535.7 L120,530.7 L125,529.7 L128.3,532.4 L131.7,539 L136.7,546.7 L141.7,549 L146.7,555.7 L151.7,567.4 L156.7,582.4 L163.3,595.7 L168.3,592.4 L173.3,586.7 L180,579 L185,573.4 L191.7,560.7 L196.7,549 L201.7,540 L206.7,537.4 L210.7,533.4 L213.3,533.4 L216.7,530.7 L221.7,517.4 L226.7,507.4 L232,499 L235.3,496.7 L238.7,495.7 L242,493.4 L245.3,490 L248.7,489 L252.7,485.7 L257,485.7 L260.3,490 L263.7,500 L268,513.4 L272.7,518.4 L277,510 L281.3,505.7 L286,501.7 L288.7,504 L293.7,503 L297,504.7 L300.3,506.7 L303.7,503.4 L307,502.4 L311,498.4 L313.7,504 L318,517.4 L321.3,524 L324.7,530.7 L328.7,528.4 L332.7,524 L336,514.7 L340.3,514 L345.3,511.7 L349.3,508.4 L353.7,506.7 L357,502.4 L361.3,494 L364.7,493 L367.7,486.7 L372,493.4 L376,499 L379.3,500.7 L382.7,495.7 L386,488.4 L390.3,481.4 L395.3,475.7 L400.3,474 L405.3,473.4 L410.3,472.4 L413.7,468 L417.7,464.7 L422,467.4 L425.3,474 L430.3,484 L434.3,494 L438.7,494 L443,485.7 L448,483.4 L452,480.7 L456,480.7 L460.3,479 L464,475 L467.3,476.7 L470.7,474.7 L473,474.7 L475.7,479 L478,480.7 L481.3,494 L484.7,503.4 L488,508 L492.3,508.4 L494.7,506.7 L497.3,510 L501.3,506.4 L504.7,504.7 L508,504.7 L512.3,507.4 L516.3,505.7 L520,501.4 L525,500.7 L529.7,498 L535,500.7 L539,508 L543,512.4 L547.3,514 L551.3,508 L555.7,503.4 L558.3,501.4 L561.3,497.4 L563.3,500.7 L567.3,494.7 L571.3,503.4 L574,513.4 L578.3,511.7 L582.3,510 L586.3,515.7 L592.3,527.4 L597.3,536.4 L602.3,536.4 L607.3,530.7 L610.7,529 L613,528 L615.7,536.7 L619,538 L622.3,539.7 L626.3,540" fill="none" stroke="#000" stroke-width="2" stroke-linejoin="round"/>
</g>
<rect x="68.4" y="458.5" width="557.9" height="142.5" fill="none" stroke="#000" stroke-width="1"/>
<line x1="63.4" y1="457.8" x2="68.4" y2="457.8" stroke="#000" stroke-width="1"/>
<text x="0" y="0" transform="translate(56.1,457.8) rotate(-90)" font-size="7.5" text-anchor="middle">2.5</text>
<line x1="63.4" y1="486.5" x2="68.4" y2="486.5" stroke="#000" stroke-width="1"/>
<text x="0" y="0" transform="translate(56.1,486.5) rotate(-90)" font-size="7.5" text-anchor="middle">2.0</text>
<line x1="63.4" y1="515.2" x2="68.4" y2="515.2" stroke="#000" stroke-width="1"/>
<text x="0" y="0" transform="translate(56.1,515.2) rotate(-90)" font-size="7.5" text-anchor="middle">1.5</text>
<line x1="63.4" y1="543.9" x2="68.4" y2="543.9" stroke="#000" stroke-width="1"/>
<text x="0" y="0" transform="translate(56.1,543.9) rotate(-90)" font-size="7.5" text-anchor="middle">1.0</text>
<line x1="63.4" y1="572.6" x2="68.4" y2="572.6" stroke="#000" stroke-width="1"/>
<text x="0" y="0" transform="translate(56.1,572.6) rotate(-90)" font-size="7.5" text-anchor="middle">0.5</text>
<line x1="63.4" y1="601.3" x2="68.4" y2="601.3" stroke="#000" stroke-width="1"/>
<text x="0" y="0" transform="translate(56.1,601.3) rotate(-90)" font-size="7.5" text-anchor="middle">0.0</text>
<line x1="626.3" y1="591.5" x2="631.3" y2="591.5" stroke="#000" stroke-width="1"/>
<text x="0" y="0" transform="translate(642.9,591.5) rotate(-90)" font-size="7.5" text-anchor="middle">1016</text>
<line x1="626.3" y1="569.1" x2="631.3" y2="569.1" stroke="#000" stroke-width="1"/>
<line x1="626.3" y1="546.7" x2="631.3" y2="546.7" stroke="#000" stroke-width="1"/>
<text x="0" y="0" transform="translate(642.9,546.7) rotate(-90)" font-size="7.5" text-anchor="middle">1020</text>
<line x1="626.3" y1="524.3" x2="631.3" y2="524.3" stroke="#000" stroke-width="1"/>
<line x1="626.3" y1="501.9" x2="631.3" y2="501.9" stroke="#000" stroke-width="1"/>
<text x="0" y="0" transform="translate(642.9,501.9) rotate(-90)" font-size="7.5" text-anchor="middle">1024</text>
<line x1="626.3" y1="479.5" x2="631.3" y2="479.5" stroke="#000" stroke-width="1"/>
<text x="0" y="0" transform="translate(14,529.8) rotate(-90)" font-size="12.3" text-anchor="middle">precipitation sum</text>
<text x="0" y="0" transform="translate(29.4,529.8) rotate(-90)" font-size="12.3" text-anchor="middle">[km m^-2 / h]</text>
<text x="0" y="0" transform="translate(658.3,529.8) rotate(-90)" font-size="12.3" text-anchor="middle">surface pressure</text>
<text x="0" y="0" transform="translate(671.9,529.8) rotate(-90)" font-size="12.3" text-anchor="middle">[hetcopascal]</text>
<g clip-path="url(#c3)">
<rect x="68.4" y="602.6" width="4.1" height="287.1" fill="#f0f0f0"/>
<rect x="126.93" y="602.6" width="54.43" height="287.1" fill="#f0f0f0"/>
<rect x="235.79" y="602.6" width="54.43" height="287.1" fill="#f0f0f0"/>
<rect x="344.65" y="602.6" width="54.43" height="287.1" fill="#f0f0f0"/>
<rect x="453.51" y="602.6" width="54.43" height="287.1" fill="#f0f0f0"/>
<rect x="562.37" y="602.6" width="54.43" height="287.1" fill="#f0f0f0"/>
<line x1="73" y1="602.6" x2="73" y2="889.7" stroke="#6e6e6e" stroke-width="1" stroke-dasharray="3,3"/>
<line x1="127.43" y1="602.6" x2="127.43" y2="889.7" stroke="#6e6e6e" stroke-width="1" stroke-dasharray="3,3"/>
<line x1="181.86" y1="602.6" x2="181.86" y2="889.7" stroke="#6e6e6e" stroke-width="1" stroke-dasharray="3,3"/>
<line x1="236.29" y1="602.6" x2="236.29" y2="889.7" stroke="#6e6e6e" stroke-width="1" stroke-dasharray="3,3"/>
<line x1="290.72" y1="602.6" x2="290.72" y2="889.7" stroke="#6e6e6e" stroke-width="1" stroke-dasharray="3,3"/>
<line x1="345.15" y1="602.6" x2="345.15" y2="889.7" stroke="#6e6e6e" stroke-width="1" stroke-dasharray="3,3"/>
<line x1="399.58" y1="602.6" x2="399.58" y2="889.7" stroke="#6e6e6e" stroke-width="1" stroke-dasharray="3,3"/>
<line x1="454.01" y1="602.6" x2="454.01" y2="889.7" stroke="#6e6e6e" stroke-width="1" stroke-dasharray="3,3"/>
<line x1="508.44" y1="602.6" x2="508.44" y2="889.7" stroke="#6e6e6e" stroke-width="1" stroke-dasharray="3,3"/>
<line x1="562.87" y1="602.6" x2="562.87" y2="889.7" stroke="#6e6e6e" stroke-width="1" stroke-dasharray="3,3"/>
<line x1="617.3" y1="602.6" x2="617.3" y2="889.7" stroke="#6e6e6e" stroke-width="1" stroke-dasharray="3,3"/>
<line x1="100.22" y1="602.6" x2="100.22" y2="889.7" stroke="#c4c4c4" stroke-width="1" stroke-dasharray="2.6,3.4"/>
<line x1="154.65" y1="602.6" x2="154.65" y2="889.7" stroke="#c4c4c4" stroke-width="1" stroke-dasharray="2.6,3.4"/>
<line x1="209.08" y1="602.6" x2="209.08" y2="889.7" stroke="#c4c4c4" stroke-width="1" stroke-dasharray="2.6,3.4"/>
<line x1="263.5" y1="602.6" x2="263.5" y2="889.7" stroke="#c4c4c4" stroke-width="1" stroke-dasharray="2.6,3.4"/>
<line x1="317.94" y1="602.6" x2="317.94" y2="889.7" stroke="#c4c4c4" stroke-width="1" stroke-dasharray="2.6,3.4"/>
<line x1="372.36" y1="602.6" x2="372.36" y2="889.7" stroke="#c4c4c4" stroke-width="1" stroke-dasharray="2.6,3.4"/>
<line x1="426.79" y1="602.6" x2="426.79" y2="889.7" stroke="#c4c4c4" stroke-width="1" stroke-dasharray="2.6,3.4"/>
<line x1="481.22" y1="602.6" x2="481.22" y2="889.7" stroke="#c4c4c4" stroke-width="1" stroke-dasharray="2.6,3.4"/>
<line x1="535.65" y1="602.6" x2="535.65" y2="889.7" stroke="#c4c4c4" stroke-width="1" stroke-dasharray="2.6,3.4"/>
<line x1="590.09" y1="602.6" x2="590.09" y2="889.7" stroke="#c4c4c4" stroke-width="1" stroke-dasharray="2.6,3.4"/>
<line x1="68.4" y1="827.3" x2="626.3" y2="827.3" stroke="#a2a2a2" stroke-width="1" stroke-dasharray="3.7,2.3"/>
<line x1="68.4" y1="764.9" x2="626.3" y2="764.9" stroke="#a2a2a2" stroke-width="1" stroke-dasharray="3.7,2.3"/>
<line x1="68.4" y1="702.5" x2="626.3" y2="702.5" stroke="#a2a2a2" stroke-width="1" stroke-dasharray="3.7,2.3"/>
<line x1="68.4" y1="640.1" x2="626.3" y2="640.1" stroke="#a2a2a2" stroke-width="1" stroke-dasharray="3.7,2.3"/>
<path d="M68.4,857.5 L68,857.5 L91,857.5 L93,842 L95.5,842 L99.25,817.5 L104.25,777.5 L106.75,777.5 L111.75,810 L115.5,842 L129.25,842 L131.75,857.5 L139.25,857.5 L140.5,842 L145.5,842 L148,825 L153,761.25 L161.75,761.25 L165.5,792.5 L170.5,842 L179.25,842 L181.75,857.5 L184.25,842 L186,842 L188.5,857.5 L193,857.5 L196.75,826.25 L199.25,826.25 L201.75,810 L206.75,761.25 L208.5,761.25 L211.25,745.75 L213.75,761.25 L216.75,777.5 L220.5,810 L221.75,810 L226.75,842 L235.5,842 L238,857.5 L242,857.5 L254.5,857.5 L264,793.25 L272.5,793.25 L282,857.5 L283.75,857.5 L286.5,842 L304,842 L307,857.5 L309,857.5 L318.25,793.25 L327,793.25 L336.5,857.5 L365.75,857.5 L370,826.25 L380.75,826.25 L384,842 L385.75,842 L389,857.5 L416,857.5 L419.75,857.5 L422.25,842 L424.75,842 L428.5,809.5 L433,809.5 L436,826.25 L438.5,826.25 L441,842 L443,842 L445.5,857.5 L456,857.5 L458.5,842 L460.5,857.5 L463,842 L465.5,842 L467.25,857.5 L474.75,857.5 L478.5,825 L484,793.25 L490.5,793.25 L493.5,810 L497.25,842 L529.75,842 L534.75,793.25 L542.25,793.25 L544.75,809.5 L546.5,809.5 L552.25,842 L574,842 L576,826.25 L578.5,842 L581,826.25 L583,826.25 L586,809.5 L588.5,809.5 L590,792.5 L591.64,781.31 L593.01,777.01 L596.8,777.01 L600.24,793.36 L601.62,793.36 L606.27,825.2 L620.03,825.2 L622.27,809.71 L624.34,809.71 L626.06,822.62 L626.3,890.7 L68.4,890.7 Z" fill="#0000ff" fill-opacity="0.12"/>
<line x1="68" y1="722.2" x2="68" y2="762.8" stroke="#b0b0b0" stroke-width="1"/>
<line x1="70.5" y1="723.75" x2="70.5" y2="766.25" stroke="#b0b0b0" stroke-width="1"/>
<line x1="73" y1="727.5" x2="73" y2="765" stroke="#b0b0b0" stroke-width="1"/>
<line x1="75.5" y1="728.69" x2="75.5" y2="768.81" stroke="#b0b0b0" stroke-width="1"/>
<line x1="78" y1="727.64" x2="78" y2="772.36" stroke="#b0b0b0" stroke-width="1"/>
<line x1="80.5" y1="725.12" x2="80.5" y2="769.88" stroke="#b0b0b0" stroke-width="1"/>
<line x1="83" y1="728.5" x2="83" y2="764" stroke="#b0b0b0" stroke-width="1"/>
<line x1="85.5" y1="729.26" x2="85.5" y2="765.74" stroke="#b0b0b0" stroke-width="1"/>
<line x1="88" y1="731.44" x2="88" y2="766.06" stroke="#b0b0b0" stroke-width="1"/>
<line x1="90.5" y1="735.36" x2="90.5" y2="774.64" stroke="#b0b0b0" stroke-width="1"/>
<line x1="93" y1="741.57" x2="93" y2="775.93" stroke="#b0b0b0" stroke-width="1"/>
<line x1="95.5" y1="731.51" x2="95.5" y2="770.99" stroke="#b0b0b0" stroke-width="1"/>
<line x1="98" y1="726.61" x2="98" y2="768.39" stroke="#b0b0b0" stroke-width="1"/>
<line x1="100.5" y1="721.33" x2="100.5" y2="758.67" stroke="#b0b0b0" stroke-width="1"/>
<line x1="103" y1="713.94" x2="103" y2="756.06" stroke="#b0b0b0" stroke-width="1"/>
<line x1="105.5" y1="709.45" x2="105.5" y2="750.55" stroke="#b0b0b0" stroke-width="1"/>
<line x1="108" y1="711.61" x2="108" y2="745.89" stroke="#b0b0b0" stroke-width="1"/>
<line x1="110.5" y1="707.15" x2="110.5" y2="747.85" stroke="#b0b0b0" stroke-width="1"/>
<line x1="113" y1="703.94" x2="113" y2="741.06" stroke="#b0b0b0" stroke-width="1"/>
<line x1="115.5" y1="700.51" x2="115.5" y2="739.49" stroke="#b0b0b0" stroke-width="1"/>
<line x1="118" y1="699.3" x2="118" y2="736.7" stroke="#b0b0b0" stroke-width="1"/>
<line x1="120.5" y1="696.34" x2="120.5" y2="738.66" stroke="#b0b0b0" stroke-width="1"/>
<line x1="123" y1="701.61" x2="123" y2="740.89" stroke="#b0b0b0" stroke-width="1"/>
<line x1="125.5" y1="705.81" x2="125.5" y2="741.69" stroke="#b0b0b0" stroke-width="1"/>
<line x1="128" y1="702.23" x2="128" y2="742.77" stroke="#b0b0b0" stroke-width="1"/>
<line x1="129.25" y1="704.57" x2="129.25" y2="747.93" stroke="#b0b0b0" stroke-width="1"/>
<line x1="131.75" y1="712.41" x2="131.75" y2="750.09" stroke="#b0b0b0" stroke-width="1"/>
<line x1="134.25" y1="716.67" x2="134.25" y2="753.33" stroke="#b0b0b0" stroke-width="1"/>
<line x1="136.75" y1="716.92" x2="136.75" y2="755.58" stroke="#b0b0b0" stroke-width="1"/>
<line x1="139.25" y1="719.88" x2="139.25" y2="765.12" stroke="#b0b0b0" stroke-width="1"/>
<line x1="141.75" y1="720.14" x2="141.75" y2="765.86" stroke="#b0b0b0" stroke-width="1"/>
<line x1="144.25" y1="722.72" x2="144.25" y2="764.78" stroke="#b0b0b0" stroke-width="1"/>
<line x1="146.75" y1="723.83" x2="146.75" y2="768.67" stroke="#b0b0b0" stroke-width="1"/>
<line x1="149.25" y1="721.68" x2="149.25" y2="765.82" stroke="#b0b0b0" stroke-width="1"/>
<line x1="151.75" y1="719.48" x2="151.75" y2="758.02" stroke="#b0b0b0" stroke-width="1"/>
<line x1="154.25" y1="719.45" x2="154.25" y2="754.55" stroke="#b0b0b0" stroke-width="1"/>
<line x1="156.75" y1="715.33" x2="156.75" y2="757.17" stroke="#b0b0b0" stroke-width="1"/>
<line x1="159.25" y1="714.65" x2="159.25" y2="755.35" stroke="#b0b0b0" stroke-width="1"/>
<line x1="161.75" y1="715.33" x2="161.75" y2="753.67" stroke="#b0b0b0" stroke-width="1"/>
<line x1="164.25" y1="716.65" x2="164.25" y2="753.35" stroke="#b0b0b0" stroke-width="1"/>
<line x1="166.75" y1="716.81" x2="166.75" y2="755.69" stroke="#b0b0b0" stroke-width="1"/>
<line x1="169.25" y1="715.19" x2="169.25" y2="754.81" stroke="#b0b0b0" stroke-width="1"/>
<line x1="171.75" y1="712.63" x2="171.75" y2="749.87" stroke="#b0b0b0" stroke-width="1"/>
<line x1="174.25" y1="705" x2="174.25" y2="742.5" stroke="#b0b0b0" stroke-width="1"/>
<line x1="176.75" y1="695.25" x2="176.75" y2="734.75" stroke="#b0b0b0" stroke-width="1"/>
<line x1="179.25" y1="694.09" x2="179.25" y2="738.41" stroke="#b0b0b0" stroke-width="1"/>
<line x1="181.75" y1="703.23" x2="181.75" y2="744.27" stroke="#b0b0b0" stroke-width="1"/>
<line x1="184.25" y1="698.8" x2="184.25" y2="736.2" stroke="#b0b0b0" stroke-width="1"/>
<line x1="186.75" y1="697.58" x2="186.75" y2="734.92" stroke="#b0b0b0" stroke-width="1"/>
<line x1="189.25" y1="702.77" x2="189.25" y2="742.23" stroke="#b0b0b0" stroke-width="1"/>
<line x1="191.75" y1="705.52" x2="191.75" y2="741.98" stroke="#b0b0b0" stroke-width="1"/>
<line x1="194.25" y1="706.79" x2="194.25" y2="743.21" stroke="#b0b0b0" stroke-width="1"/>
<line x1="196.75" y1="703.67" x2="196.75" y2="743.83" stroke="#b0b0b0" stroke-width="1"/>
<line x1="199.25" y1="703.73" x2="199.25" y2="738.77" stroke="#b0b0b0" stroke-width="1"/>
<line x1="201.75" y1="703.85" x2="201.75" y2="743.65" stroke="#b0b0b0" stroke-width="1"/>
<line x1="204.25" y1="697.08" x2="204.25" y2="735.42" stroke="#b0b0b0" stroke-width="1"/>
<line x1="206.75" y1="693.75" x2="206.75" y2="736.25" stroke="#b0b0b0" stroke-width="1"/>
<line x1="209.25" y1="693.52" x2="209.25" y2="736.48" stroke="#b0b0b0" stroke-width="1"/>
<line x1="211.75" y1="692.6" x2="211.75" y2="734.9" stroke="#b0b0b0" stroke-width="1"/>
<line x1="214.25" y1="693.86" x2="214.25" y2="736.14" stroke="#b0b0b0" stroke-width="1"/>
<line x1="216.75" y1="693.26" x2="216.75" y2="731.74" stroke="#b0b0b0" stroke-width="1"/>
<line x1="219.25" y1="687.74" x2="219.25" y2="729.76" stroke="#b0b0b0" stroke-width="1"/>
<line x1="221.75" y1="687.21" x2="221.75" y2="725.29" stroke="#b0b0b0" stroke-width="1"/>
<line x1="224.25" y1="683.31" x2="224.25" y2="724.19" stroke="#b0b0b0" stroke-width="1"/>
<line x1="226.75" y1="686.05" x2="226.75" y2="723.95" stroke="#b0b0b0" stroke-width="1"/>
<line x1="229.25" y1="687.83" x2="229.25" y2="727.17" stroke="#b0b0b0" stroke-width="1"/>
<line x1="231.75" y1="687.63" x2="231.75" y2="722.37" stroke="#b0b0b0" stroke-width="1"/>
<line x1="234.25" y1="689.04" x2="234.25" y2="725.96" stroke="#b0b0b0" stroke-width="1"/>
<line x1="236.75" y1="690.92" x2="236.75" y2="736.58" stroke="#b0b0b0" stroke-width="1"/>
<line x1="239.25" y1="699.12" x2="239.25" y2="735.88" stroke="#b0b0b0" stroke-width="1"/>
<line x1="242" y1="701.35" x2="242" y2="743.65" stroke="#b0b0b0" stroke-width="1"/>
<line x1="244.5" y1="706.6" x2="244.5" y2="748.4" stroke="#b0b0b0" stroke-width="1"/>
<line x1="247" y1="711.16" x2="247" y2="753.84" stroke="#b0b0b0" stroke-width="1"/>
<line x1="249.5" y1="713.9" x2="249.5" y2="753.6" stroke="#b0b0b0" stroke-width="1"/>
<line x1="252" y1="722.42" x2="252" y2="763.58" stroke="#b0b0b0" stroke-width="1"/>
<line x1="254.5" y1="731.35" x2="254.5" y2="766.15" stroke="#b0b0b0" stroke-width="1"/>
<line x1="257" y1="731.31" x2="257" y2="766.19" stroke="#b0b0b0" stroke-width="1"/>
<line x1="259.5" y1="726.31" x2="259.5" y2="762.69" stroke="#b0b0b0" stroke-width="1"/>
<line x1="262" y1="723.34" x2="262" y2="759.16" stroke="#b0b0b0" stroke-width="1"/>
<line x1="264.5" y1="719.9" x2="264.5" y2="755.1" stroke="#b0b0b0" stroke-width="1"/>
<line x1="267" y1="717.22" x2="267" y2="752.78" stroke="#b0b0b0" stroke-width="1"/>
<line x1="269.5" y1="716.68" x2="269.5" y2="757.32" stroke="#b0b0b0" stroke-width="1"/>
<line x1="272" y1="721.37" x2="272" y2="757.63" stroke="#b0b0b0" stroke-width="1"/>
<line x1="274.5" y1="720.29" x2="274.5" y2="765.71" stroke="#b0b0b0" stroke-width="1"/>
<line x1="277" y1="720.16" x2="277" y2="762.34" stroke="#b0b0b0" stroke-width="1"/>
<line x1="279.5" y1="720.25" x2="279.5" y2="760.75" stroke="#b0b0b0" stroke-width="1"/>
<line x1="282" y1="716.26" x2="282" y2="758.74" stroke="#b0b0b0" stroke-width="1"/>
<line x1="284.5" y1="716.42" x2="284.5" y2="753.58" stroke="#b0b0b0" stroke-width="1"/>
<line x1="287" y1="710.44" x2="287" y2="755.56" stroke="#b0b0b0" stroke-width="1"/>
<line x1="289.5" y1="717.96" x2="289.5" y2="762.04" stroke="#b0b0b0" stroke-width="1"/>
<line x1="292" y1="721.14" x2="292" y2="763.86" stroke="#b0b0b0" stroke-width="1"/>
<line x1="294.5" y1="723.37" x2="294.5" y2="763.13" stroke="#b0b0b0" stroke-width="1"/>
<line x1="297" y1="721.2" x2="297" y2="765.3" stroke="#b0b0b0" stroke-width="1"/>
<line x1="299.5" y1="723.03" x2="299.5" y2="765.97" stroke="#b0b0b0" stroke-width="1"/>
<line x1="302" y1="725.29" x2="302" y2="767.21" stroke="#b0b0b0" stroke-width="1"/>
<line x1="304.5" y1="727.02" x2="304.5" y2="771.98" stroke="#b0b0b0" stroke-width="1"/>
<line x1="307" y1="734.2" x2="307" y2="775.8" stroke="#b0b0b0" stroke-width="1"/>
<line x1="308.25" y1="743.3" x2="308.25" y2="781.7" stroke="#b0b0b0" stroke-width="1"/>
<line x1="310.75" y1="747.18" x2="310.75" y2="787.82" stroke="#b0b0b0" stroke-width="1"/>
<line x1="313.25" y1="754.32" x2="313.25" y2="790.68" stroke="#b0b0b0" stroke-width="1"/>
<line x1="315.75" y1="751.85" x2="315.75" y2="788.15" stroke="#b0b0b0" stroke-width="1"/>
<line x1="318.25" y1="747.4" x2="318.25" y2="790.1" stroke="#b0b0b0" stroke-width="1"/>
<line x1="320.75" y1="745.79" x2="320.75" y2="789.21" stroke="#b0b0b0" stroke-width="1"/>
<line x1="323.25" y1="744.67" x2="323.25" y2="790.33" stroke="#b0b0b0" stroke-width="1"/>
<line x1="325.75" y1="745.89" x2="325.75" y2="790.11" stroke="#b0b0b0" stroke-width="1"/>
<line x1="328.25" y1="749.74" x2="328.25" y2="790.26" stroke="#b0b0b0" stroke-width="1"/>
<line x1="330.75" y1="751.21" x2="330.75" y2="786.29" stroke="#b0b0b0" stroke-width="1"/>
<line x1="333.25" y1="746.32" x2="333.25" y2="786.18" stroke="#b0b0b0" stroke-width="1"/>
<line x1="335.75" y1="737.43" x2="335.75" y2="782.57" stroke="#b0b0b0" stroke-width="1"/>
<line x1="338.25" y1="735.77" x2="338.25" y2="779.23" stroke="#b0b0b0" stroke-width="1"/>
<line x1="340.75" y1="735.09" x2="340.75" y2="774.91" stroke="#b0b0b0" stroke-width="1"/>
<line x1="343.25" y1="734.02" x2="343.25" y2="773.48" stroke="#b0b0b0" stroke-width="1"/>
<line x1="345.75" y1="730.44" x2="345.75" y2="767.06" stroke="#b0b0b0" stroke-width="1"/>
<line x1="348.25" y1="724.94" x2="348.25" y2="761.06" stroke="#b0b0b0" stroke-width="1"/>
<line x1="350.75" y1="726.31" x2="350.75" y2="761.19" stroke="#b0b0b0" stroke-width="1"/>
<line x1="352" y1="727.15" x2="352" y2="771.85" stroke="#b0b0b0" stroke-width="1"/>
<line x1="354.5" y1="724.16" x2="354.5" y2="765.84" stroke="#b0b0b0" stroke-width="1"/>
<line x1="357" y1="725.14" x2="357" y2="760.86" stroke="#b0b0b0" stroke-width="1"/>
<line x1="359.5" y1="724.27" x2="359.5" y2="763.23" stroke="#b0b0b0" stroke-width="1"/>
<line x1="362" y1="727.71" x2="362" y2="762.29" stroke="#b0b0b0" stroke-width="1"/>
<line x1="364.5" y1="732.99" x2="364.5" y2="769.51" stroke="#b0b0b0" stroke-width="1"/>
<line x1="367" y1="732.37" x2="367" y2="775.13" stroke="#b0b0b0" stroke-width="1"/>
<line x1="369.5" y1="733.59" x2="369.5" y2="775.41" stroke="#b0b0b0" stroke-width="1"/>
<line x1="372" y1="734.63" x2="372" y2="774.37" stroke="#b0b0b0" stroke-width="1"/>
<line x1="374.5" y1="736.35" x2="374.5" y2="773.65" stroke="#b0b0b0" stroke-width="1"/>
<line x1="377" y1="734.59" x2="377" y2="776.41" stroke="#b0b0b0" stroke-width="1"/>
<line x1="379.5" y1="732.76" x2="379.5" y2="778.24" stroke="#b0b0b0" stroke-width="1"/>
<line x1="382" y1="732.64" x2="382" y2="779.86" stroke="#b0b0b0" stroke-width="1"/>
<line x1="384.5" y1="728.08" x2="384.5" y2="770.92" stroke="#b0b0b0" stroke-width="1"/>
<line x1="385.75" y1="713.65" x2="385.75" y2="756.35" stroke="#b0b0b0" stroke-width="1"/>
<line x1="388.25" y1="712.25" x2="388.25" y2="755.25" stroke="#b0b0b0" stroke-width="1"/>
<line x1="390.75" y1="700.74" x2="390.75" y2="754.26" stroke="#b0b0b0" stroke-width="1"/>
<line x1="393.25" y1="710.76" x2="393.25" y2="759.24" stroke="#b0b0b0" stroke-width="1"/>
<line x1="395.75" y1="710.23" x2="395.75" y2="762.27" stroke="#b0b0b0" stroke-width="1"/>
<line x1="398.25" y1="720.48" x2="398.25" y2="764.52" stroke="#b0b0b0" stroke-width="1"/>
<line x1="400.75" y1="719.44" x2="400.75" y2="764.56" stroke="#b0b0b0" stroke-width="1"/>
<line x1="403.25" y1="711.85" x2="403.25" y2="762.15" stroke="#b0b0b0" stroke-width="1"/>
<line x1="405.75" y1="716.13" x2="405.75" y2="768.87" stroke="#b0b0b0" stroke-width="1"/>
<line x1="408.25" y1="716.96" x2="408.25" y2="763.04" stroke="#b0b0b0" stroke-width="1"/>
<line x1="410.75" y1="715.61" x2="410.75" y2="758.39" stroke="#b0b0b0" stroke-width="1"/>
<line x1="413.25" y1="705.82" x2="413.25" y2="758.18" stroke="#b0b0b0" stroke-width="1"/>
<line x1="416" y1="707.25" x2="416" y2="752.75" stroke="#b0b0b0" stroke-width="1"/>
<line x1="418" y1="713.3" x2="418" y2="764.2" stroke="#b0b0b0" stroke-width="1"/>
<line x1="419.75" y1="733.05" x2="419.75" y2="776.95" stroke="#b0b0b0" stroke-width="1"/>
<line x1="422.25" y1="738.58" x2="422.25" y2="788.92" stroke="#b0b0b0" stroke-width="1"/>
<line x1="424.75" y1="750.2" x2="424.75" y2="802.3" stroke="#b0b0b0" stroke-width="1"/>
<line x1="427.25" y1="750.89" x2="427.25" y2="801.61" stroke="#b0b0b0" stroke-width="1"/>
<line x1="429.75" y1="748.1" x2="429.75" y2="794.4" stroke="#b0b0b0" stroke-width="1"/>
<line x1="431.5" y1="744.64" x2="431.5" y2="795.36" stroke="#b0b0b0" stroke-width="1"/>
<line x1="433" y1="766.16" x2="433" y2="809.84" stroke="#b0b0b0" stroke-width="1"/>
<line x1="434.75" y1="767.12" x2="434.75" y2="812.88" stroke="#b0b0b0" stroke-width="1"/>
<line x1="437.25" y1="773.48" x2="437.25" y2="820.52" stroke="#b0b0b0" stroke-width="1"/>
<line x1="439.75" y1="757.49" x2="439.75" y2="810.01" stroke="#b0b0b0" stroke-width="1"/>
<line x1="442.25" y1="747.33" x2="442.25" y2="791.17" stroke="#b0b0b0" stroke-width="1"/>
<line x1="444.75" y1="729.22" x2="444.75" y2="781.78" stroke="#b0b0b0" stroke-width="1"/>
<line x1="447.25" y1="719.71" x2="447.25" y2="771.29" stroke="#b0b0b0" stroke-width="1"/>
<line x1="449.75" y1="708.92" x2="449.75" y2="762.58" stroke="#b0b0b0" stroke-width="1"/>
<line x1="452.25" y1="726.79" x2="452.25" y2="773.21" stroke="#b0b0b0" stroke-width="1"/>
<line x1="454.75" y1="720.27" x2="454.75" y2="764.73" stroke="#b0b0b0" stroke-width="1"/>
<line x1="457.25" y1="722.56" x2="457.25" y2="767.44" stroke="#b0b0b0" stroke-width="1"/>
<line x1="459.75" y1="722.78" x2="459.75" y2="774.72" stroke="#b0b0b0" stroke-width="1"/>
<line x1="462.25" y1="723.21" x2="462.25" y2="776.79" stroke="#b0b0b0" stroke-width="1"/>
<line x1="463.5" y1="717.31" x2="463.5" y2="767.69" stroke="#b0b0b0" stroke-width="1"/>
<line x1="466" y1="726.11" x2="466" y2="773.89" stroke="#b0b0b0" stroke-width="1"/>
<line x1="468.5" y1="728.53" x2="468.5" y2="773.97" stroke="#b0b0b0" stroke-width="1"/>
<line x1="471" y1="731" x2="471" y2="775" stroke="#b0b0b0" stroke-width="1"/>
<line x1="473" y1="742.27" x2="473" y2="786.73" stroke="#b0b0b0" stroke-width="1"/>
<line x1="474.75" y1="746.95" x2="474.75" y2="782.05" stroke="#b0b0b0" stroke-width="1"/>
<line x1="477.25" y1="751.7" x2="477.25" y2="788.3" stroke="#b0b0b0" stroke-width="1"/>
<line x1="479.75" y1="750.01" x2="479.75" y2="793.99" stroke="#b0b0b0" stroke-width="1"/>
<line x1="482.25" y1="754.16" x2="482.25" y2="798.34" stroke="#b0b0b0" stroke-width="1"/>
<line x1="484.75" y1="753.11" x2="484.75" y2="790.89" stroke="#b0b0b0" stroke-width="1"/>
<line x1="487.25" y1="755.07" x2="487.25" y2="792.43" stroke="#b0b0b0" stroke-width="1"/>
<line x1="489.75" y1="752.92" x2="489.75" y2="792.08" stroke="#b0b0b0" stroke-width="1"/>
<line x1="492.25" y1="750.51" x2="492.25" y2="790.99" stroke="#b0b0b0" stroke-width="1"/>
<line x1="494.75" y1="753.68" x2="494.75" y2="788.82" stroke="#b0b0b0" stroke-width="1"/>
<line x1="497.25" y1="742.98" x2="497.25" y2="787.02" stroke="#b0b0b0" stroke-width="1"/>
<line x1="499.75" y1="736.04" x2="499.75" y2="776.46" stroke="#b0b0b0" stroke-width="1"/>
<line x1="502.25" y1="733.35" x2="502.25" y2="776.65" stroke="#b0b0b0" stroke-width="1"/>
<line x1="504.75" y1="735.36" x2="504.75" y2="772.14" stroke="#b0b0b0" stroke-width="1"/>
<line x1="507.25" y1="730.21" x2="507.25" y2="775.79" stroke="#b0b0b0" stroke-width="1"/>
<line x1="509.75" y1="734.74" x2="509.75" y2="777.76" stroke="#b0b0b0" stroke-width="1"/>
<line x1="512.25" y1="738.44" x2="512.25" y2="776.56" stroke="#b0b0b0" stroke-width="1"/>
<line x1="514.75" y1="736.81" x2="514.75" y2="782.19" stroke="#b0b0b0" stroke-width="1"/>
<line x1="517.25" y1="741.3" x2="517.25" y2="783.7" stroke="#b0b0b0" stroke-width="1"/>
<line x1="519.75" y1="739.21" x2="519.75" y2="783.29" stroke="#b0b0b0" stroke-width="1"/>
<line x1="522.25" y1="732.23" x2="522.25" y2="766.77" stroke="#b0b0b0" stroke-width="1"/>
<line x1="524.75" y1="738.17" x2="524.75" y2="772.83" stroke="#b0b0b0" stroke-width="1"/>
<line x1="527.25" y1="728.04" x2="527.25" y2="770.96" stroke="#b0b0b0" stroke-width="1"/>
<line x1="529.75" y1="748.67" x2="529.75" y2="786.33" stroke="#b0b0b0" stroke-width="1"/>
<line x1="531.5" y1="736.9" x2="531.5" y2="777.1" stroke="#b0b0b0" stroke-width="1"/>
<line x1="533.5" y1="737.06" x2="533.5" y2="772.94" stroke="#b0b0b0" stroke-width="1"/>
<line x1="536" y1="738.38" x2="536" y2="784.12" stroke="#b0b0b0" stroke-width="1"/>
<line x1="538.5" y1="734.98" x2="538.5" y2="775.02" stroke="#b0b0b0" stroke-width="1"/>
<line x1="541" y1="735.28" x2="541" y2="787.22" stroke="#b0b0b0" stroke-width="1"/>
<line x1="543.5" y1="739.81" x2="543.5" y2="782.69" stroke="#b0b0b0" stroke-width="1"/>
<line x1="544.75" y1="743.63" x2="544.75" y2="791.37" stroke="#b0b0b0" stroke-width="1"/>
<line x1="547.25" y1="754.88" x2="547.25" y2="797.62" stroke="#b0b0b0" stroke-width="1"/>
<line x1="551" y1="756.69" x2="551" y2="809.31" stroke="#b0b0b0" stroke-width="1"/>
<line x1="553" y1="754.33" x2="553" y2="801.67" stroke="#b0b0b0" stroke-width="1"/>
<line x1="555.5" y1="758.09" x2="555.5" y2="800.91" stroke="#b0b0b0" stroke-width="1"/>
<line x1="558.5" y1="759.04" x2="558.5" y2="801.96" stroke="#b0b0b0" stroke-width="1"/>
<line x1="560.5" y1="740.77" x2="560.5" y2="789.23" stroke="#b0b0b0" stroke-width="1"/>
<line x1="563.5" y1="770.55" x2="563.5" y2="813.45" stroke="#b0b0b0" stroke-width="1"/>
<line x1="565.5" y1="743.4" x2="565.5" y2="787.6" stroke="#b0b0b0" stroke-width="1"/>
<line x1="567.25" y1="724.38" x2="567.25" y2="771.62" stroke="#b0b0b0" stroke-width="1"/>
<line x1="569.75" y1="724.01" x2="569.75" y2="771.99" stroke="#b0b0b0" stroke-width="1"/>
<line x1="572.25" y1="716" x2="572.25" y2="765" stroke="#b0b0b0" stroke-width="1"/>
<line x1="574.75" y1="732.28" x2="574.75" y2="781.72" stroke="#b0b0b0" stroke-width="1"/>
<line x1="577.25" y1="738.01" x2="577.25" y2="784.49" stroke="#b0b0b0" stroke-width="1"/>
<line x1="579.75" y1="720.79" x2="579.75" y2="770.21" stroke="#b0b0b0" stroke-width="1"/>
<line x1="582.25" y1="723.06" x2="582.25" y2="766.94" stroke="#b0b0b0" stroke-width="1"/>
<line x1="583.5" y1="714.85" x2="583.5" y2="760.15" stroke="#b0b0b0" stroke-width="1"/>
<line x1="586" y1="716.21" x2="586" y2="767.79" stroke="#b0b0b0" stroke-width="1"/>
<line x1="588.2" y1="728.78" x2="588.2" y2="772.62" stroke="#b0b0b0" stroke-width="1"/>
<line x1="590.3" y1="736.26" x2="590.3" y2="780.94" stroke="#b0b0b0" stroke-width="1"/>
<line x1="592.5" y1="758.84" x2="592.5" y2="803.76" stroke="#b0b0b0" stroke-width="1"/>
<line x1="594.7" y1="763.92" x2="594.7" y2="811.68" stroke="#b0b0b0" stroke-width="1"/>
<line x1="597.1" y1="784.4" x2="597.1" y2="826.4" stroke="#b0b0b0" stroke-width="1"/>
<line x1="599.4" y1="774.22" x2="599.4" y2="816.58" stroke="#b0b0b0" stroke-width="1"/>
<line x1="601.6" y1="783.73" x2="601.6" y2="831.27" stroke="#b0b0b0" stroke-width="1"/>
<line x1="603.7" y1="667.52" x2="603.7" y2="711.48" stroke="#b0b0b0" stroke-width="1"/>
<line x1="605.9" y1="692.52" x2="605.9" y2="742.68" stroke="#b0b0b0" stroke-width="1"/>
<line x1="608.5" y1="688.23" x2="608.5" y2="739.77" stroke="#b0b0b0" stroke-width="1"/>
<line x1="610.6" y1="686.53" x2="610.6" y2="735.47" stroke="#b0b0b0" stroke-width="1"/>
<line x1="613.2" y1="685.03" x2="613.2" y2="735.37" stroke="#b0b0b0" stroke-width="1"/>
<line x1="615.7" y1="678.55" x2="615.7" y2="725.25" stroke="#b0b0b0" stroke-width="1"/>
<line x1="618.3" y1="678.92" x2="618.3" y2="721.48" stroke="#b0b0b0" stroke-width="1"/>
<line x1="620" y1="677.56" x2="620" y2="724.84" stroke="#b0b0b0" stroke-width="1"/>
<line x1="622.3" y1="684.37" x2="622.3" y2="730.83" stroke="#b0b0b0" stroke-width="1"/>
<line x1="624.3" y1="690.42" x2="624.3" y2="739.58" stroke="#b0b0b0" stroke-width="1"/>
<path d="M68.4,825 L68,825 L88,825 L91,809.25 L93,809.25 L95.5,786.25 L99.25,737.5 L101.5,700 L104.25,680.5 L106.75,680.5 L109.25,700 L113,750 L116.75,777.5 L118.5,793 L121,793 L123,809.25 L125.5,793 L127.5,809.25 L131.75,809.25 L135,825 L136.75,825 L139.25,809.25 L141,809.25 L145.9,777.6 L148.4,755.8 L150.6,718.4 L153.7,668.5 L156.8,631.2 L159,617.1 L161.5,631.2 L164.6,671.7 L167.7,718.4 L170.6,765 L172.5,793 L179.25,793 L181.75,809.25 L193,809.25 L195.5,793 L199.25,762.5 L204.25,700 L206.75,650 L211.25,616.25 L215.5,650 L218,682.5 L220.5,700 L224.25,737.5 L228,762.5 L231.75,777.5 L235.5,809.25 L240.5,809.25 L242,813.75 L243.25,825 L247.5,825 L250,809.25 L252.5,825 L254.5,809.25 L257,775 L262,725 L265.5,690 L268.25,680.5 L270,696 L272.5,697 L274.5,720 L279.5,800 L282,809.25 L293.25,809.25 L295.75,825 L299.5,825 L302,809.25 L304.5,825 L309,825 L311.5,809.25 L314.5,775 L320,713 L327,713 L330.75,750 L335.75,809.25 L340.75,809.25 L344.5,841.25 L347,825 L349.5,841.25 L352,825 L357,825 L359,841.25 L361.5,825 L364,841.25 L365.75,825 L368.25,825 L370.75,800 L374.5,761.25 L380.75,761.25 L388.25,809.25 L390,809.25 L393.25,825 L402,825 L404,809.25 L406.5,825 L416,825 L418,825 L421,792.5 L424.75,761.25 L431,729.5 L434,729.5 L438.5,777.5 L442.25,809.25 L444.75,809.25 L447.25,825 L456,825 L458.5,809.25 L464.75,809.25 L467.25,825 L472.25,825 L476,777.5 L481,745 L486,713 L490.25,713 L496,762.5 L499.75,793 L508.5,793 L510.5,809.25 L517.25,809.25 L519.25,793 L521,809.25 L523.5,809.25 L526,793 L529.75,793 L533.5,745 L535.5,745 L540.5,713 L544.75,713 L551,772.5 L556,793 L572.25,793 L576,765 L581,760 L583.5,745 L590,700 L594.7,665 L596.8,665 L599.4,680.6 L602,680.6 L605,710 L608,740 L613.1,777 L615.7,761.5 L626.3,761.5" fill="none" stroke="#ff0000" stroke-width="1.5" stroke-linejoin="round"/>
<path d="M68.4,857.5 L68,857.5 L91,857.5 L93,842 L95.5,842 L99.25,817.5 L104.25,777.5 L106.75,777.5 L111.75,810 L115.5,842 L129.25,842 L131.75,857.5 L139.25,857.5 L140.5,842 L145.5,842 L148,825 L153,761.25 L161.75,761.25 L165.5,792.5 L170.5,842 L179.25,842 L181.75,857.5 L184.25,842 L186,842 L188.5,857.5 L193,857.5 L196.75,826.25 L199.25,826.25 L201.75,810 L206.75,761.25 L208.5,761.25 L211.25,745.75 L213.75,761.25 L216.75,777.5 L220.5,810 L221.75,810 L226.75,842 L235.5,842 L238,857.5 L242,857.5 L254.5,857.5 L264,793.25 L272.5,793.25 L282,857.5 L283.75,857.5 L286.5,842 L304,842 L307,857.5 L309,857.5 L318.25,793.25 L327,793.25 L336.5,857.5 L365.75,857.5 L370,826.25 L380.75,826.25 L384,842 L385.75,842 L389,857.5 L416,857.5 L419.75,857.5 L422.25,842 L424.75,842 L428.5,809.5 L433,809.5 L436,826.25 L438.5,826.25 L441,842 L443,842 L445.5,857.5 L456,857.5 L458.5,842 L460.5,857.5 L463,842 L465.5,842 L467.25,857.5 L474.75,857.5 L478.5,825 L484,793.25 L490.5,793.25 L493.5,810 L497.25,842 L529.75,842 L534.75,793.25 L542.25,793.25 L544.75,809.5 L546.5,809.5 L552.25,842 L574,842 L576,826.25 L578.5,842 L581,826.25 L583,826.25 L586,809.5 L588.5,809.5 L590,792.5 L591.64,781.31 L593.01,777.01 L596.8,777.01 L600.24,793.36 L601.62,793.36 L606.27,825.2 L620.03,825.2 L622.27,809.71 L624.34,809.71 L626.06,822.62" fill="none" stroke="#0000ff" stroke-width="2" stroke-linejoin="round"/>
<circle cx="68" cy="742.5" r="1.55" fill="#4c4c4c" stroke="#000" stroke-width="1.1"/>
<circle cx="70.5" cy="745" r="1.55" fill="#4c4c4c" stroke="#000" stroke-width="1.1"/>
<circle cx="73" cy="746.25" r="1.55" fill="#4c4c4c" stroke="#000" stroke-width="1.1"/>
<circle cx="75.5" cy="748.75" r="1.55" fill="#4c4c4c" stroke="#000" stroke-width="1.1"/>
<circle cx="78" cy="750" r="1.55" fill="#4c4c4c" stroke="#000" stroke-width="1.1"/>
<circle cx="80.5" cy="747.5" r="1.55" fill="#4c4c4c" stroke="#000" stroke-width="1.1"/>
<circle cx="83" cy="746.25" r="1.55" fill="#4c4c4c" stroke="#000" stroke-width="1.1"/>
<circle cx="85.5" cy="747.5" r="1.55" fill="#4c4c4c" stroke="#000" stroke-width="1.1"/>
<circle cx="88" cy="748.75" r="1.55" fill="#4c4c4c" stroke="#000" stroke-width="1.1"/>
<circle cx="90.5" cy="755" r="1.55" fill="#4c4c4c" stroke="#000" stroke-width="1.1"/>
<circle cx="93" cy="758.75" r="1.55" fill="#4c4c4c" stroke="#000" stroke-width="1.1"/>
<circle cx="95.5" cy="751.25" r="1.55" fill="#4c4c4c" stroke="#000" stroke-width="1.1"/>
<circle cx="98" cy="747.5" r="1.55" fill="#4c4c4c" stroke="#000" stroke-width="1.1"/>
<circle cx="100.5" cy="740" r="1.55" fill="#4c4c4c" stroke="#000" stroke-width="1.1"/>
<circle cx="103" cy="735" r="1.55" fill="#4c4c4c" stroke="#000" stroke-width="1.1"/>
<circle cx="105.5" cy="730" r="1.55" fill="#4c4c4c" stroke="#000" stroke-width="1.1"/>
<circle cx="108" cy="728.75" r="1.55" fill="#4c4c4c" stroke="#000" stroke-width="1.1"/>
<circle cx="110.5" cy="727.5" r="1.55" fill="#4c4c4c" stroke="#000" stroke-width="1.1"/>
<circle cx="113" cy="722.5" r="1.55" fill="#4c4c4c" stroke="#000" stroke-width="1.1"/>
<circle cx="115.5" cy="720" r="1.55" fill="#4c4c4c" stroke="#000" stroke-width="1.1"/>
<circle cx="118" cy="718" r="1.55" fill="#4c4c4c" stroke="#000" stroke-width="1.1"/>
<circle cx="120.5" cy="717.5" r="1.55" fill="#4c4c4c" stroke="#000" stroke-width="1.1"/>
<circle cx="123" cy="721.25" r="1.55" fill="#4c4c4c" stroke="#000" stroke-width="1.1"/>
<circle cx="125.5" cy="723.75" r="1.55" fill="#4c4c4c" stroke="#000" stroke-width="1.1"/>
<circle cx="128" cy="722.5" r="1.55" fill="#4c4c4c" stroke="#000" stroke-width="1.1"/>
<circle cx="129.25" cy="726.25" r="1.55" fill="#4c4c4c" stroke="#000" stroke-width="1.1"/>
<circle cx="131.75" cy="731.25" r="1.55" fill="#4c4c4c" stroke="#000" stroke-width="1.1"/>
<circle cx="134.25" cy="735" r="1.55" fill="#4c4c4c" stroke="#000" stroke-width="1.1"/>
<circle cx="136.75" cy="736.25" r="1.55" fill="#4c4c4c" stroke="#000" stroke-width="1.1"/>
<circle cx="139.25" cy="742.5" r="1.55" fill="#4c4c4c" stroke="#000" stroke-width="1.1"/>
<circle cx="141.75" cy="743" r="1.55" fill="#4c4c4c" stroke="#000" stroke-width="1.1"/>
<circle cx="144.25" cy="743.75" r="1.55" fill="#4c4c4c" stroke="#000" stroke-width="1.1"/>
<circle cx="146.75" cy="746.25" r="1.55" fill="#4c4c4c" stroke="#000" stroke-width="1.1"/>
<circle cx="149.25" cy="743.75" r="1.55" fill="#4c4c4c" stroke="#000" stroke-width="1.1"/>
<circle cx="151.75" cy="738.75" r="1.55" fill="#4c4c4c" stroke="#000" stroke-width="1.1"/>
<circle cx="154.25" cy="737" r="1.55" fill="#4c4c4c" stroke="#000" stroke-width="1.1"/>
<circle cx="156.75" cy="736.25" r="1.55" fill="#4c4c4c" stroke="#000" stroke-width="1.1"/>
<circle cx="159.25" cy="735" r="1.55" fill="#4c4c4c" stroke="#000" stroke-width="1.1"/>
<circle cx="161.75" cy="734.5" r="1.55" fill="#4c4c4c" stroke="#000" stroke-width="1.1"/>
<circle cx="164.25" cy="735" r="1.55" fill="#4c4c4c" stroke="#000" stroke-width="1.1"/>
<circle cx="166.75" cy="736.25" r="1.55" fill="#4c4c4c" stroke="#000" stroke-width="1.1"/>
<circle cx="169.25" cy="735" r="1.55" fill="#4c4c4c" stroke="#000" stroke-width="1.1"/>
<circle cx="171.75" cy="731.25" r="1.55" fill="#4c4c4c" stroke="#000" stroke-width="1.1"/>
<circle cx="174.25" cy="723.75" r="1.55" fill="#4c4c4c" stroke="#000" stroke-width="1.1"/>
<circle cx="176.75" cy="715" r="1.55" fill="#4c4c4c" stroke="#000" stroke-width="1.1"/>
<circle cx="179.25" cy="716.25" r="1.55" fill="#4c4c4c" stroke="#000" stroke-width="1.1"/>
<circle cx="181.75" cy="723.75" r="1.55" fill="#4c4c4c" stroke="#000" stroke-width="1.1"/>
<circle cx="184.25" cy="717.5" r="1.55" fill="#4c4c4c" stroke="#000" stroke-width="1.1"/>
<circle cx="186.75" cy="716.25" r="1.55" fill="#4c4c4c" stroke="#000" stroke-width="1.1"/>
<circle cx="189.25" cy="722.5" r="1.55" fill="#4c4c4c" stroke="#000" stroke-width="1.1"/>
<circle cx="191.75" cy="723.75" r="1.55" fill="#4c4c4c" stroke="#000" stroke-width="1.1"/>
<circle cx="194.25" cy="725" r="1.55" fill="#4c4c4c" stroke="#000" stroke-width="1.1"/>
<circle cx="196.75" cy="723.75" r="1.55" fill="#4c4c4c" stroke="#000" stroke-width="1.1"/>
<circle cx="199.25" cy="721.25" r="1.55" fill="#4c4c4c" stroke="#000" stroke-width="1.1"/>
<circle cx="201.75" cy="723.75" r="1.55" fill="#4c4c4c" stroke="#000" stroke-width="1.1"/>
<circle cx="204.25" cy="716.25" r="1.55" fill="#4c4c4c" stroke="#000" stroke-width="1.1"/>
<circle cx="206.75" cy="715" r="1.55" fill="#4c4c4c" stroke="#000" stroke-width="1.1"/>
<circle cx="209.25" cy="715" r="1.55" fill="#4c4c4c" stroke="#000" stroke-width="1.1"/>
<circle cx="211.75" cy="713.75" r="1.55" fill="#4c4c4c" stroke="#000" stroke-width="1.1"/>
<circle cx="214.25" cy="715" r="1.55" fill="#4c4c4c" stroke="#000" stroke-width="1.1"/>
<circle cx="216.75" cy="712.5" r="1.55" fill="#4c4c4c" stroke="#000" stroke-width="1.1"/>
<circle cx="219.25" cy="708.75" r="1.55" fill="#4c4c4c" stroke="#000" stroke-width="1.1"/>
<circle cx="221.75" cy="706.25" r="1.55" fill="#4c4c4c" stroke="#000" stroke-width="1.1"/>
<circle cx="224.25" cy="703.75" r="1.55" fill="#4c4c4c" stroke="#000" stroke-width="1.1"/>
<circle cx="226.75" cy="705" r="1.55" fill="#4c4c4c" stroke="#000" stroke-width="1.1"/>
<circle cx="229.25" cy="707.5" r="1.55" fill="#4c4c4c" stroke="#000" stroke-width="1.1"/>
<circle cx="231.75" cy="705" r="1.55" fill="#4c4c4c" stroke="#000" stroke-width="1.1"/>
<circle cx="234.25" cy="707.5" r="1.55" fill="#4c4c4c" stroke="#000" stroke-width="1.1"/>
<circle cx="236.75" cy="713.75" r="1.55" fill="#4c4c4c" stroke="#000" stroke-width="1.1"/>
<circle cx="239.25" cy="717.5" r="1.55" fill="#4c4c4c" stroke="#000" stroke-width="1.1"/>
<circle cx="242" cy="722.5" r="1.55" fill="#4c4c4c" stroke="#000" stroke-width="1.1"/>
<circle cx="244.5" cy="727.5" r="1.55" fill="#4c4c4c" stroke="#000" stroke-width="1.1"/>
<circle cx="247" cy="732.5" r="1.55" fill="#4c4c4c" stroke="#000" stroke-width="1.1"/>
<circle cx="249.5" cy="733.75" r="1.55" fill="#4c4c4c" stroke="#000" stroke-width="1.1"/>
<circle cx="252" cy="743" r="1.55" fill="#4c4c4c" stroke="#000" stroke-width="1.1"/>
<circle cx="254.5" cy="748.75" r="1.55" fill="#4c4c4c" stroke="#000" stroke-width="1.1"/>
<circle cx="257" cy="748.75" r="1.55" fill="#4c4c4c" stroke="#000" stroke-width="1.1"/>
<circle cx="259.5" cy="744.5" r="1.55" fill="#4c4c4c" stroke="#000" stroke-width="1.1"/>
<circle cx="262" cy="741.25" r="1.55" fill="#4c4c4c" stroke="#000" stroke-width="1.1"/>
<circle cx="264.5" cy="737.5" r="1.55" fill="#4c4c4c" stroke="#000" stroke-width="1.1"/>
<circle cx="267" cy="735" r="1.55" fill="#4c4c4c" stroke="#000" stroke-width="1.1"/>
<circle cx="269.5" cy="737" r="1.55" fill="#4c4c4c" stroke="#000" stroke-width="1.1"/>
<circle cx="272" cy="739.5" r="1.55" fill="#4c4c4c" stroke="#000" stroke-width="1.1"/>
<circle cx="274.5" cy="743" r="1.55" fill="#4c4c4c" stroke="#000" stroke-width="1.1"/>
<circle cx="277" cy="741.25" r="1.55" fill="#4c4c4c" stroke="#000" stroke-width="1.1"/>
<circle cx="279.5" cy="740.5" r="1.55" fill="#4c4c4c" stroke="#000" stroke-width="1.1"/>
<circle cx="282" cy="737.5" r="1.55" fill="#4c4c4c" stroke="#000" stroke-width="1.1"/>
<circle cx="284.5" cy="735" r="1.55" fill="#4c4c4c" stroke="#000" stroke-width="1.1"/>
<circle cx="287" cy="733" r="1.55" fill="#4c4c4c" stroke="#000" stroke-width="1.1"/>
<circle cx="289.5" cy="740" r="1.55" fill="#4c4c4c" stroke="#000" stroke-width="1.1"/>
<circle cx="292" cy="742.5" r="1.55" fill="#4c4c4c" stroke="#000" stroke-width="1.1"/>
<circle cx="294.5" cy="743.25" r="1.55" fill="#4c4c4c" stroke="#000" stroke-width="1.1"/>
<circle cx="297" cy="743.25" r="1.55" fill="#4c4c4c" stroke="#000" stroke-width="1.1"/>
<circle cx="299.5" cy="744.5" r="1.55" fill="#4c4c4c" stroke="#000" stroke-width="1.1"/>
<circle cx="302" cy="746.25" r="1.55" fill="#4c4c4c" stroke="#000" stroke-width="1.1"/>
<circle cx="304.5" cy="749.5" r="1.55" fill="#4c4c4c" stroke="#000" stroke-width="1.1"/>
<circle cx="307" cy="755" r="1.55" fill="#4c4c4c" stroke="#000" stroke-width="1.1"/>
<circle cx="308.25" cy="762.5" r="1.55" fill="#4c4c4c" stroke="#000" stroke-width="1.1"/>
<circle cx="310.75" cy="767.5" r="1.55" fill="#4c4c4c" stroke="#000" stroke-width="1.1"/>
<circle cx="313.25" cy="772.5" r="1.55" fill="#4c4c4c" stroke="#000" stroke-width="1.1"/>
<circle cx="315.75" cy="770" r="1.55" fill="#4c4c4c" stroke="#000" stroke-width="1.1"/>
<circle cx="318.25" cy="768.75" r="1.55" fill="#4c4c4c" stroke="#000" stroke-width="1.1"/>
<circle cx="320.75" cy="767.5" r="1.55" fill="#4c4c4c" stroke="#000" stroke-width="1.1"/>
<circle cx="323.25" cy="767.5" r="1.55" fill="#4c4c4c" stroke="#000" stroke-width="1.1"/>
<circle cx="325.75" cy="768" r="1.55" fill="#4c4c4c" stroke="#000" stroke-width="1.1"/>
<circle cx="328.25" cy="770" r="1.55" fill="#4c4c4c" stroke="#000" stroke-width="1.1"/>
<circle cx="330.75" cy="768.75" r="1.55" fill="#4c4c4c" stroke="#000" stroke-width="1.1"/>
<circle cx="333.25" cy="766.25" r="1.55" fill="#4c4c4c" stroke="#000" stroke-width="1.1"/>
<circle cx="335.75" cy="760" r="1.55" fill="#4c4c4c" stroke="#000" stroke-width="1.1"/>
<circle cx="338.25" cy="757.5" r="1.55" fill="#4c4c4c" stroke="#000" stroke-width="1.1"/>
<circle cx="340.75" cy="755" r="1.55" fill="#4c4c4c" stroke="#000" stroke-width="1.1"/>
<circle cx="343.25" cy="753.75" r="1.55" fill="#4c4c4c" stroke="#000" stroke-width="1.1"/>
<circle cx="345.75" cy="748.75" r="1.55" fill="#4c4c4c" stroke="#000" stroke-width="1.1"/>
<circle cx="348.25" cy="743" r="1.55" fill="#4c4c4c" stroke="#000" stroke-width="1.1"/>
<circle cx="350.75" cy="743.75" r="1.55" fill="#4c4c4c" stroke="#000" stroke-width="1.1"/>
<circle cx="352" cy="749.5" r="1.55" fill="#4c4c4c" stroke="#000" stroke-width="1.1"/>
<circle cx="354.5" cy="745" r="1.55" fill="#4c4c4c" stroke="#000" stroke-width="1.1"/>
<circle cx="357" cy="743" r="1.55" fill="#4c4c4c" stroke="#000" stroke-width="1.1"/>
<circle cx="359.5" cy="743.75" r="1.55" fill="#4c4c4c" stroke="#000" stroke-width="1.1"/>
<circle cx="362" cy="745" r="1.55" fill="#4c4c4c" stroke="#000" stroke-width="1.1"/>
<circle cx="364.5" cy="751.25" r="1.55" fill="#4c4c4c" stroke="#000" stroke-width="1.1"/>
<circle cx="367" cy="753.75" r="1.55" fill="#4c4c4c" stroke="#000" stroke-width="1.1"/>
<circle cx="369.5" cy="754.5" r="1.55" fill="#4c4c4c" stroke="#000" stroke-width="1.1"/>
<circle cx="372" cy="754.5" r="1.55" fill="#4c4c4c" stroke="#000" stroke-width="1.1"/>
<circle cx="374.5" cy="755" r="1.55" fill="#4c4c4c" stroke="#000" stroke-width="1.1"/>
<circle cx="377" cy="755.5" r="1.55" fill="#4c4c4c" stroke="#000" stroke-width="1.1"/>
<circle cx="379.5" cy="755.5" r="1.55" fill="#4c4c4c" stroke="#000" stroke-width="1.1"/>
<circle cx="382" cy="756.25" r="1.55" fill="#4c4c4c" stroke="#000" stroke-width="1.1"/>
<circle cx="384.5" cy="749.5" r="1.55" fill="#4c4c4c" stroke="#000" stroke-width="1.1"/>
<circle cx="385.75" cy="735" r="1.55" fill="#4c4c4c" stroke="#000" stroke-width="1.1"/>
<circle cx="388.25" cy="733.75" r="1.55" fill="#4c4c4c" stroke="#000" stroke-width="1.1"/>
<circle cx="390.75" cy="727.5" r="1.55" fill="#4c4c4c" stroke="#000" stroke-width="1.1"/>
<circle cx="393.25" cy="735" r="1.55" fill="#4c4c4c" stroke="#000" stroke-width="1.1"/>
<circle cx="395.75" cy="736.25" r="1.55" fill="#4c4c4c" stroke="#000" stroke-width="1.1"/>
<circle cx="398.25" cy="742.5" r="1.55" fill="#4c4c4c" stroke="#000" stroke-width="1.1"/>
<circle cx="400.75" cy="742" r="1.55" fill="#4c4c4c" stroke="#000" stroke-width="1.1"/>
<circle cx="403.25" cy="737" r="1.55" fill="#4c4c4c" stroke="#000" stroke-width="1.1"/>
<circle cx="405.75" cy="742.5" r="1.55" fill="#4c4c4c" stroke="#000" stroke-width="1.1"/>
<circle cx="408.25" cy="740" r="1.55" fill="#4c4c4c" stroke="#000" stroke-width="1.1"/>
<circle cx="410.75" cy="737" r="1.55" fill="#4c4c4c" stroke="#000" stroke-width="1.1"/>
<circle cx="413.25" cy="732" r="1.55" fill="#4c4c4c" stroke="#000" stroke-width="1.1"/>
<circle cx="416" cy="730" r="1.55" fill="#4c4c4c" stroke="#000" stroke-width="1.1"/>
<circle cx="418" cy="738.75" r="1.55" fill="#4c4c4c" stroke="#000" stroke-width="1.1"/>
<circle cx="419.75" cy="755" r="1.55" fill="#4c4c4c" stroke="#000" stroke-width="1.1"/>
<circle cx="422.25" cy="763.75" r="1.55" fill="#4c4c4c" stroke="#000" stroke-width="1.1"/>
<circle cx="424.75" cy="776.25" r="1.55" fill="#4c4c4c" stroke="#000" stroke-width="1.1"/>
<circle cx="427.25" cy="776.25" r="1.55" fill="#4c4c4c" stroke="#000" stroke-width="1.1"/>
<circle cx="429.75" cy="771.25" r="1.55" fill="#4c4c4c" stroke="#000" stroke-width="1.1"/>
<circle cx="431.5" cy="770" r="1.55" fill="#4c4c4c" stroke="#000" stroke-width="1.1"/>
<circle cx="433" cy="788" r="1.55" fill="#4c4c4c" stroke="#000" stroke-width="1.1"/>
<circle cx="434.75" cy="790" r="1.55" fill="#4c4c4c" stroke="#000" stroke-width="1.1"/>
<circle cx="437.25" cy="797" r="1.55" fill="#4c4c4c" stroke="#000" stroke-width="1.1"/>
<circle cx="439.75" cy="783.75" r="1.55" fill="#4c4c4c" stroke="#000" stroke-width="1.1"/>
<circle cx="442.25" cy="769.25" r="1.55" fill="#4c4c4c" stroke="#000" stroke-width="1.1"/>
<circle cx="444.75" cy="755.5" r="1.55" fill="#4c4c4c" stroke="#000" stroke-width="1.1"/>
<circle cx="447.25" cy="745.5" r="1.55" fill="#4c4c4c" stroke="#000" stroke-width="1.1"/>
<circle cx="449.75" cy="735.75" r="1.55" fill="#4c4c4c" stroke="#000" stroke-width="1.1"/>
<circle cx="452.25" cy="750" r="1.55" fill="#4c4c4c" stroke="#000" stroke-width="1.1"/>
<circle cx="454.75" cy="742.5" r="1.55" fill="#4c4c4c" stroke="#000" stroke-width="1.1"/>
<circle cx="457.25" cy="745" r="1.55" fill="#4c4c4c" stroke="#000" stroke-width="1.1"/>
<circle cx="459.75" cy="748.75" r="1.55" fill="#4c4c4c" stroke="#000" stroke-width="1.1"/>
<circle cx="462.25" cy="750" r="1.55" fill="#4c4c4c" stroke="#000" stroke-width="1.1"/>
<circle cx="463.5" cy="742.5" r="1.55" fill="#4c4c4c" stroke="#000" stroke-width="1.1"/>
<circle cx="466" cy="750" r="1.55" fill="#4c4c4c" stroke="#000" stroke-width="1.1"/>
<circle cx="468.5" cy="751.25" r="1.55" fill="#4c4c4c" stroke="#000" stroke-width="1.1"/>
<circle cx="471" cy="753" r="1.55" fill="#4c4c4c" stroke="#000" stroke-width="1.1"/>
<circle cx="473" cy="764.5" r="1.55" fill="#4c4c4c" stroke="#000" stroke-width="1.1"/>
<circle cx="474.75" cy="764.5" r="1.55" fill="#4c4c4c" stroke="#000" stroke-width="1.1"/>
<circle cx="477.25" cy="770" r="1.55" fill="#4c4c4c" stroke="#000" stroke-width="1.1"/>
<circle cx="479.75" cy="772" r="1.55" fill="#4c4c4c" stroke="#000" stroke-width="1.1"/>
<circle cx="482.25" cy="776.25" r="1.55" fill="#4c4c4c" stroke="#000" stroke-width="1.1"/>
<circle cx="484.75" cy="772" r="1.55" fill="#4c4c4c" stroke="#000" stroke-width="1.1"/>
<circle cx="487.25" cy="773.75" r="1.55" fill="#4c4c4c" stroke="#000" stroke-width="1.1"/>
<circle cx="489.75" cy="772.5" r="1.55" fill="#4c4c4c" stroke="#000" stroke-width="1.1"/>
<circle cx="492.25" cy="770.75" r="1.55" fill="#4c4c4c" stroke="#000" stroke-width="1.1"/>
<circle cx="494.75" cy="771.25" r="1.55" fill="#4c4c4c" stroke="#000" stroke-width="1.1"/>
<circle cx="497.25" cy="765" r="1.55" fill="#4c4c4c" stroke="#000" stroke-width="1.1"/>
<circle cx="499.75" cy="756.25" r="1.55" fill="#4c4c4c" stroke="#000" stroke-width="1.1"/>
<circle cx="502.25" cy="755" r="1.55" fill="#4c4c4c" stroke="#000" stroke-width="1.1"/>
<circle cx="504.75" cy="753.75" r="1.55" fill="#4c4c4c" stroke="#000" stroke-width="1.1"/>
<circle cx="507.25" cy="753" r="1.55" fill="#4c4c4c" stroke="#000" stroke-width="1.1"/>
<circle cx="509.75" cy="756.25" r="1.55" fill="#4c4c4c" stroke="#000" stroke-width="1.1"/>
<circle cx="512.25" cy="757.5" r="1.55" fill="#4c4c4c" stroke="#000" stroke-width="1.1"/>
<circle cx="514.75" cy="759.5" r="1.55" fill="#4c4c4c" stroke="#000" stroke-width="1.1"/>
<circle cx="517.25" cy="762.5" r="1.55" fill="#4c4c4c" stroke="#000" stroke-width="1.1"/>
<circle cx="519.75" cy="761.25" r="1.55" fill="#4c4c4c" stroke="#000" stroke-width="1.1"/>
<circle cx="522.25" cy="749.5" r="1.55" fill="#4c4c4c" stroke="#000" stroke-width="1.1"/>
<circle cx="524.75" cy="755.5" r="1.55" fill="#4c4c4c" stroke="#000" stroke-width="1.1"/>
<circle cx="527.25" cy="749.5" r="1.55" fill="#4c4c4c" stroke="#000" stroke-width="1.1"/>
<circle cx="529.75" cy="767.5" r="1.55" fill="#4c4c4c" stroke="#000" stroke-width="1.1"/>
<circle cx="531.5" cy="757" r="1.55" fill="#4c4c4c" stroke="#000" stroke-width="1.1"/>
<circle cx="533.5" cy="755" r="1.55" fill="#4c4c4c" stroke="#000" stroke-width="1.1"/>
<circle cx="536" cy="761.25" r="1.55" fill="#4c4c4c" stroke="#000" stroke-width="1.1"/>
<circle cx="538.5" cy="755" r="1.55" fill="#4c4c4c" stroke="#000" stroke-width="1.1"/>
<circle cx="541" cy="761.25" r="1.55" fill="#4c4c4c" stroke="#000" stroke-width="1.1"/>
<circle cx="543.5" cy="761.25" r="1.55" fill="#4c4c4c" stroke="#000" stroke-width="1.1"/>
<circle cx="544.75" cy="767.5" r="1.55" fill="#4c4c4c" stroke="#000" stroke-width="1.1"/>
<circle cx="547.25" cy="776.25" r="1.55" fill="#4c4c4c" stroke="#000" stroke-width="1.1"/>
<circle cx="551" cy="783" r="1.55" fill="#4c4c4c" stroke="#000" stroke-width="1.1"/>
<circle cx="553" cy="778" r="1.55" fill="#4c4c4c" stroke="#000" stroke-width="1.1"/>
<circle cx="555.5" cy="779.5" r="1.55" fill="#4c4c4c" stroke="#000" stroke-width="1.1"/>
<circle cx="558.5" cy="780.5" r="1.55" fill="#4c4c4c" stroke="#000" stroke-width="1.1"/>
<circle cx="560.5" cy="765" r="1.55" fill="#4c4c4c" stroke="#000" stroke-width="1.1"/>
<circle cx="563.5" cy="792" r="1.55" fill="#4c4c4c" stroke="#000" stroke-width="1.1"/>
<circle cx="565.5" cy="765.5" r="1.55" fill="#4c4c4c" stroke="#000" stroke-width="1.1"/>
<circle cx="567.25" cy="748" r="1.55" fill="#4c4c4c" stroke="#000" stroke-width="1.1"/>
<circle cx="569.75" cy="748" r="1.55" fill="#4c4c4c" stroke="#000" stroke-width="1.1"/>
<circle cx="572.25" cy="740.5" r="1.55" fill="#4c4c4c" stroke="#000" stroke-width="1.1"/>
<circle cx="574.75" cy="757" r="1.55" fill="#4c4c4c" stroke="#000" stroke-width="1.1"/>
<circle cx="577.25" cy="761.25" r="1.55" fill="#4c4c4c" stroke="#000" stroke-width="1.1"/>
<circle cx="579.75" cy="745.5" r="1.55" fill="#4c4c4c" stroke="#000" stroke-width="1.1"/>
<circle cx="582.25" cy="745" r="1.55" fill="#4c4c4c" stroke="#000" stroke-width="1.1"/>
<circle cx="583.5" cy="737.5" r="1.55" fill="#4c4c4c" stroke="#000" stroke-width="1.1"/>
<circle cx="586" cy="742" r="1.55" fill="#4c4c4c" stroke="#000" stroke-width="1.1"/>
<circle cx="588.2" cy="750.7" r="1.55" fill="#4c4c4c" stroke="#000" stroke-width="1.1"/>
<circle cx="590.3" cy="758.6" r="1.55" fill="#4c4c4c" stroke="#000" stroke-width="1.1"/>
<circle cx="592.5" cy="781.3" r="1.55" fill="#4c4c4c" stroke="#000" stroke-width="1.1"/>
<circle cx="594.7" cy="787.8" r="1.55" fill="#4c4c4c" stroke="#000" stroke-width="1.1"/>
<circle cx="597.1" cy="805.4" r="1.55" fill="#4c4c4c" stroke="#000" stroke-width="1.1"/>
<circle cx="599.4" cy="795.4" r="1.55" fill="#4c4c4c" stroke="#000" stroke-width="1.1"/>
<circle cx="601.6" cy="807.5" r="1.55" fill="#4c4c4c" stroke="#000" stroke-width="1.1"/>
<circle cx="603.7" cy="689.5" r="1.55" fill="#4c4c4c" stroke="#000" stroke-width="1.1"/>
<circle cx="605.9" cy="717.6" r="1.55" fill="#4c4c4c" stroke="#000" stroke-width="1.1"/>
<circle cx="608.5" cy="714" r="1.55" fill="#4c4c4c" stroke="#000" stroke-width="1.1"/>
<circle cx="610.6" cy="711" r="1.55" fill="#4c4c4c" stroke="#000" stroke-width="1.1"/>
<circle cx="613.2" cy="710.2" r="1.55" fill="#4c4c4c" stroke="#000" stroke-width="1.1"/>
<circle cx="615.7" cy="701.9" r="1.55" fill="#4c4c4c" stroke="#000" stroke-width="1.1"/>
<circle cx="618.3" cy="700.2" r="1.55" fill="#4c4c4c" stroke="#000" stroke-width="1.1"/>
<circle cx="620" cy="701.2" r="1.55" fill="#4c4c4c" stroke="#000" stroke-width="1.1"/>
<circle cx="622.3" cy="707.6" r="1.55" fill="#4c4c4c" stroke="#000" stroke-width="1.1"/>
<circle cx="624.3" cy="715" r="1.55" fill="#4c4c4c" stroke="#000" stroke-width="1.1"/>
</g>
<rect x="68.4" y="602.6" width="557.9" height="287.1" fill="none" stroke="#000" stroke-width="1"/>
<line x1="63.4" y1="889.7" x2="68.4" y2="889.7" stroke="#000" stroke-width="1"/>
<text x="0" y="0" transform="translate(56.1,889.7) rotate(-90)" font-size="7.5" text-anchor="middle">0</text>
<line x1="63.4" y1="827.3" x2="68.4" y2="827.3" stroke="#000" stroke-width="1"/>
<text x="0" y="0" transform="translate(56.1,827.3) rotate(-90)" font-size="7.5" text-anchor="middle">2</text>
<line x1="63.4" y1="764.9" x2="68.4" y2="764.9" stroke="#000" stroke-width="1"/>
<text x="0" y="0" transform="translate(56.1,764.9) rotate(-90)" font-size="7.5" text-anchor="middle">4</text>
<line x1="63.4" y1="702.5" x2="68.4" y2="702.5" stroke="#000" stroke-width="1"/>
<text x="0" y="0" transform="translate(56.1,702.5) rotate(-90)" font-size="7.5" text-anchor="middle">6</text>
<line x1="63.4" y1="640.1" x2="68.4" y2="640.1" stroke="#000" stroke-width="1"/>
<text x="0" y="0" transform="translate(56.1,640.1) rotate(-90)" font-size="7.5" text-anchor="middle">8</text>
<line x1="626.3" y1="813" x2="631.3" y2="813" stroke="#000" stroke-width="1"/>
<text x="0" y="0" transform="translate(642.9,813) rotate(-90)" font-size="7.5" text-anchor="middle">90</text>
<line x1="626.3" y1="746.69" x2="631.3" y2="746.69" stroke="#000" stroke-width="1"/>
<text x="0" y="0" transform="translate(642.9,746.69) rotate(-90)" font-size="7.5" text-anchor="middle">180</text>
<line x1="626.3" y1="680.39" x2="631.3" y2="680.39" stroke="#000" stroke-width="1"/>
<text x="0" y="0" transform="translate(642.9,680.39) rotate(-90)" font-size="7.5" text-anchor="middle">270</text>
<text x="0" y="0" transform="translate(14,746) rotate(-90)" font-size="12.3" text-anchor="middle">wind speed and maximum</text>
<text x="0" y="0" transform="translate(29.4,746) rotate(-90)" font-size="12.3" text-anchor="middle">hourly wind gust [m/s]</text>
<text x="0" y="0" transform="translate(658.3,746) rotate(-90)" font-size="12.3" text-anchor="middle">wind direction</text>
<text x="0" y="0" transform="translate(671.9,746) rotate(-90)" font-size="12.3" text-anchor="middle">[degrees]</text>
<line x1="73" y1="889.7" x2="73" y2="894.3" stroke="#000" stroke-width="1"/>
<line x1="127.43" y1="889.7" x2="127.43" y2="894.3" stroke="#000" stroke-width="1"/>
<line x1="181.86" y1="889.7" x2="181.86" y2="894.3" stroke="#000" stroke-width="1"/>
<line x1="236.29" y1="889.7" x2="236.29" y2="894.3" stroke="#000" stroke-width="1"/>
<line x1="290.72" y1="889.7" x2="290.72" y2="894.3" stroke="#000" stroke-width="1"/>
<line x1="345.15" y1="889.7" x2="345.15" y2="894.3" stroke="#000" stroke-width="1"/>
<line x1="399.58" y1="889.7" x2="399.58" y2="894.3" stroke="#000" stroke-width="1"/>
<line x1="454.01" y1="889.7" x2="454.01" y2="894.3" stroke="#000" stroke-width="1"/>
<line x1="508.44" y1="889.7" x2="508.44" y2="894.3" stroke="#000" stroke-width="1"/>
<line x1="562.87" y1="889.7" x2="562.87" y2="894.3" stroke="#000" stroke-width="1"/>
<line x1="617.3" y1="889.7" x2="617.3" y2="894.3" stroke="#000" stroke-width="1"/>
<text x="100.22" y="906.8" font-size="7.4" text-anchor="middle">Feb 26</text>
<text x="154.65" y="906.8" font-size="7.4" text-anchor="middle">Feb 27</text>
<text x="209.08" y="906.8" font-size="7.4" text-anchor="middle">Feb 28</text>
<text x="263.5" y="906.8" font-size="7.4" text-anchor="middle">Mar 01</text>
<text x="317.94" y="906.8" font-size="7.4" text-anchor="middle">Mar 02</text>
<text x="372.36" y="906.8" font-size="7.4" text-anchor="middle">Mar 03</text>
<text x="426.79" y="906.8" font-size="7.4" text-anchor="middle">Mar 04</text>
<text x="481.22" y="906.8" font-size="7.4" text-anchor="middle">Mar 05</text>
<text x="535.65" y="906.8" font-size="7.4" text-anchor="middle">Mar 06</text>
<text x="590.09" y="906.8" font-size="7.4" text-anchor="middle">Mar 07</text>
</svg></body></html>
